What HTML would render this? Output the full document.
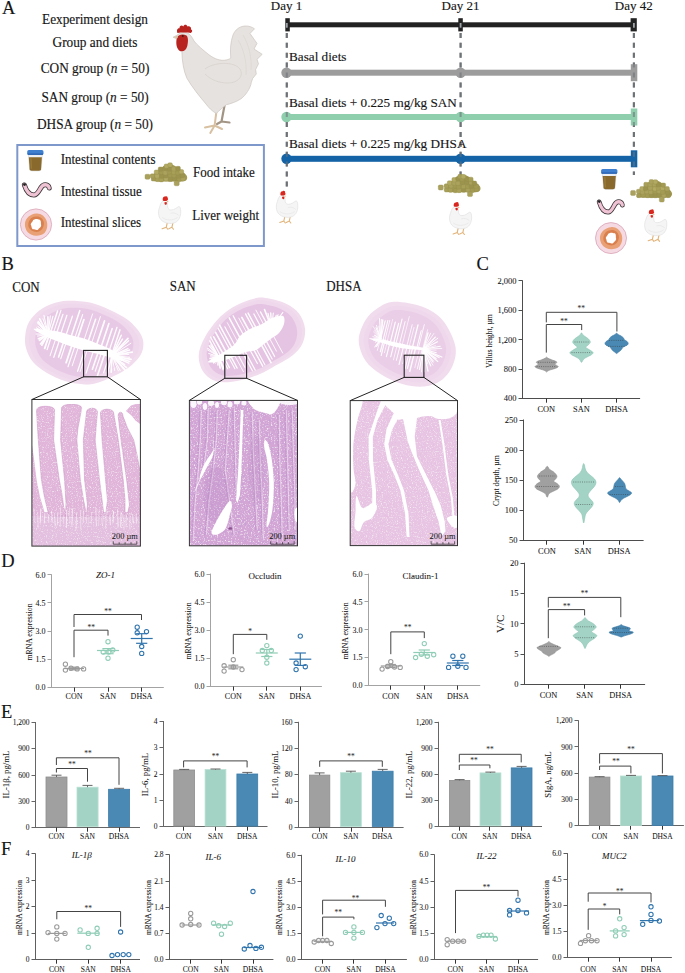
<!DOCTYPE html>
<html><head><meta charset="utf-8"><title>Figure</title>
<style>
html,body{margin:0;padding:0;background:#fff;width:685px;height:973px;overflow:hidden}
svg{display:block}
text{font-family:"Liberation Serif",serif}
</style></head><body>
<svg width="685" height="973" viewBox="0 0 685 973">
<rect width="685" height="973" fill="#fff"/>
<text x="2.0" y="13.9" font-size="18.5" text-anchor="start" fill="#161616" stroke="#161616" stroke-width="0.14">A</text>
<text transform="translate(95.0 24.0) scale(1 1.13)" x="0" y="0" font-size="13.3" text-anchor="middle" fill="#161616" stroke="#161616" stroke-width="0.14">Eexperiment design</text>
<text transform="translate(95.0 47.4) scale(1 1.13)" x="0" y="0" font-size="13.3" text-anchor="middle" fill="#161616" stroke="#161616" stroke-width="0.14">Group and diets</text>
<text transform="translate(95.0 73.0) scale(1 1.13)" x="0" y="0" font-size="13.3" text-anchor="middle" fill="#161616" stroke="#161616" stroke-width="0.14">CON group (<tspan font-style="italic">n</tspan> = 50)</text>
<text transform="translate(95.0 101.6) scale(1 1.13)" x="0" y="0" font-size="13.3" text-anchor="middle" fill="#161616" stroke="#161616" stroke-width="0.14">SAN group (<tspan font-style="italic">n</tspan> = 50)</text>
<text transform="translate(95.0 129.0) scale(1 1.13)" x="0" y="0" font-size="13.3" text-anchor="middle" fill="#161616" stroke="#161616" stroke-width="0.14">DHSA group (<tspan font-style="italic">n</tspan> = 50)</text>
<text x="286.5" y="9.6" font-size="13" text-anchor="middle" fill="#161616" stroke="#161616" stroke-width="0.14">Day 1</text>
<text x="460.5" y="9.6" font-size="13" text-anchor="middle" fill="#161616" stroke="#161616" stroke-width="0.14">Day 21</text>
<text x="633.8" y="9.6" font-size="13" text-anchor="middle" fill="#161616" stroke="#161616" stroke-width="0.14">Day 42</text>
<line x1="286.8" y1="32.9" x2="286.8" y2="187.0" stroke="#6d7176" stroke-width="2.1" stroke-dasharray="5 4.9"/>
<line x1="460.6" y1="32.9" x2="460.6" y2="187.0" stroke="#6d7176" stroke-width="2.1" stroke-dasharray="5 4.9"/>
<line x1="633.9" y1="32.9" x2="633.9" y2="175.0" stroke="#6d7176" stroke-width="2.1" stroke-dasharray="5 4.9"/>
<rect x="286" y="22.3" width="348" height="5" fill="#222"/>
<rect x="285.3" y="18.2" width="4.5" height="13.2" fill="#222"/>
<rect x="458.3" y="18.2" width="4.5" height="13.2" fill="#222"/>
<rect x="630.6" y="18.2" width="6.2" height="13.2" fill="#222"/>
<rect x="286" y="69.7" width="348" height="6" fill="#9c9c9c"/>
<circle cx="286.5" cy="72.7" r="5.2" fill="#9c9c9c"/>
<circle cx="460.6" cy="72.7" r="5.2" fill="#9c9c9c"/>
<rect x="630.8" y="64.2" width="6.5" height="17" fill="#9c9c9c"/>
<rect x="286" y="114.0" width="348" height="6" fill="#8fcfae"/>
<circle cx="286.5" cy="117" r="5.2" fill="#8fcfae"/>
<circle cx="460.6" cy="117" r="5.2" fill="#8fcfae"/>
<rect x="630.8" y="108.5" width="6.5" height="17" fill="#8fcfae"/>
<rect x="286" y="155.8" width="348" height="6" fill="#1463a6"/>
<circle cx="286.5" cy="158.8" r="5.2" fill="#1463a6"/>
<circle cx="460.6" cy="158.8" r="5.2" fill="#1463a6"/>
<rect x="630.8" y="150.3" width="6.5" height="17" fill="#1463a6"/>
<line x1="286.8" y1="32.9" x2="286.8" y2="187" stroke="#6e7378" stroke-opacity="0.6" stroke-width="2.1" stroke-dasharray="5 4.9"/>
<rect x="285.90000000000003" y="23" width="1.8" height="4.7" fill="#9ea3a8"/>
<line x1="460.6" y1="32.9" x2="460.6" y2="187" stroke="#6e7378" stroke-opacity="0.6" stroke-width="2.1" stroke-dasharray="5 4.9"/>
<rect x="459.70000000000005" y="23" width="1.8" height="4.7" fill="#9ea3a8"/>
<line x1="633.9" y1="32.9" x2="633.9" y2="175" stroke="#6e7378" stroke-opacity="0.6" stroke-width="2.1" stroke-dasharray="5 4.9"/>
<rect x="633.0" y="23" width="1.8" height="4.7" fill="#9ea3a8"/>
<text x="289.0" y="60.5" font-size="13.2" text-anchor="start" fill="#161616" stroke="#161616" stroke-width="0.14">Basal diets</text>
<text x="289.0" y="107.0" font-size="13.2" text-anchor="start" fill="#161616" stroke="#161616" stroke-width="0.14">Basal diets + 0.225 mg/kg SAN</text>
<text x="289.0" y="147.6" font-size="13.2" text-anchor="start" fill="#161616" stroke="#161616" stroke-width="0.14">Basal diets + 0.225 mg/kg DHSA</text>
<rect x="17.3" y="145" width="246.6" height="101" fill="none" stroke="#7e98cc" stroke-width="2"/>
<text transform="translate(60.7 163.7) scale(1 1.14)" x="0" y="0" font-size="13" text-anchor="start" fill="#161616" stroke="#161616" stroke-width="0.14">Intestinal contents</text>
<text transform="translate(60.7 195.8) scale(1 1.14)" x="0" y="0" font-size="13" text-anchor="start" fill="#161616" stroke="#161616" stroke-width="0.14">Intestinal tissue</text>
<text transform="translate(60.7 227.0) scale(1 1.14)" x="0" y="0" font-size="13" text-anchor="start" fill="#161616" stroke="#161616" stroke-width="0.14">Intestinal slices</text>
<text transform="translate(193.0 177.4) scale(1 1.14)" x="0" y="0" font-size="13" text-anchor="start" fill="#161616" stroke="#161616" stroke-width="0.14">Food intake</text>
<text transform="translate(192.3 219.5) scale(1 1.14)" x="0" y="0" font-size="13" text-anchor="start" fill="#161616" stroke="#161616" stroke-width="0.14">Liver weight</text>
<text x="476.5" y="270.4" font-size="18.5" text-anchor="start" fill="#161616" stroke="#161616" stroke-width="0.14">C</text>
<line x1="522.5" y1="280.3" x2="522.5" y2="399.0" stroke="#4d4d4d" stroke-width="1"/>
<line x1="522.0" y1="398.5" x2="640.1" y2="398.5" stroke="#4d4d4d" stroke-width="1"/>
<line x1="518.5" y1="280.5" x2="522.5" y2="280.5" stroke="#4d4d4d" stroke-width="1"/>
<text x="516.5" y="283.7" font-size="8.5" text-anchor="end" fill="#161616" stroke="#161616" stroke-width="0.06">2,000</text>
<line x1="518.5" y1="310.5" x2="522.5" y2="310.5" stroke="#4d4d4d" stroke-width="1"/>
<text x="516.5" y="313.1" font-size="8.5" text-anchor="end" fill="#161616" stroke="#161616" stroke-width="0.06">1,600</text>
<line x1="518.5" y1="339.5" x2="522.5" y2="339.5" stroke="#4d4d4d" stroke-width="1"/>
<text x="516.5" y="342.5" font-size="8.5" text-anchor="end" fill="#161616" stroke="#161616" stroke-width="0.06">1,200</text>
<line x1="518.5" y1="369.5" x2="522.5" y2="369.5" stroke="#4d4d4d" stroke-width="1"/>
<text x="516.5" y="372.0" font-size="8.5" text-anchor="end" fill="#161616" stroke="#161616" stroke-width="0.06">800</text>
<line x1="518.5" y1="398.5" x2="522.5" y2="398.5" stroke="#4d4d4d" stroke-width="1"/>
<text x="516.5" y="401.4" font-size="8.5" text-anchor="end" fill="#161616" stroke="#161616" stroke-width="0.06">400</text>
<line x1="546.5" y1="398.5" x2="546.5" y2="402.7" stroke="#333" stroke-width="1"/>
<text x="546.3" y="411.6" font-size="8.4" text-anchor="middle" fill="#161616" stroke="#161616" stroke-width="0.06">CON</text>
<line x1="581.5" y1="398.5" x2="581.5" y2="402.7" stroke="#333" stroke-width="1"/>
<text x="581.4" y="411.6" font-size="8.4" text-anchor="middle" fill="#161616" stroke="#161616" stroke-width="0.06">SAN</text>
<line x1="616.5" y1="398.5" x2="616.5" y2="402.7" stroke="#333" stroke-width="1"/>
<text x="616.6" y="411.6" font-size="8.4" text-anchor="middle" fill="#161616" stroke="#161616" stroke-width="0.06">DHSA</text>
<text x="489.5" y="341.0" font-size="7.7" text-anchor="middle" transform="rotate(-90 489.5 341)" fill="#161616" dominant-baseline="central" stroke="#161616" stroke-width="0.06">Villus height, µm</text>
<path d="M546.3 322.4 V312.3 H616.9 V331.5" fill="none" stroke="#444" stroke-width="1"/>
<text x="581.3" y="311.4" font-size="7.5" text-anchor="middle" fill="#333" stroke="#333" stroke-width="0.06">**</text>
<path d="M546.3 352.6 V324.5 H581.7 V330.1" fill="none" stroke="#444" stroke-width="1"/>
<text x="564.1" y="324.0" font-size="7.5" text-anchor="middle" fill="#333" stroke="#333" stroke-width="0.06">**</text>
<path d="M546.90 357.30 C547.20 357.47 547.32 357.88 548.10 358.30 C548.88 358.72 550.27 359.27 551.60 359.80 C552.93 360.33 555.23 361.03 556.10 361.50 C556.97 361.97 557.00 362.15 556.80 362.60 C556.60 363.05 554.67 363.55 554.90 364.20 C555.13 364.85 558.08 365.82 558.20 366.50 C558.32 367.18 556.87 367.75 555.60 368.30 C554.33 368.85 551.85 369.38 550.60 369.80 C549.35 370.22 548.72 370.47 548.10 370.80 C547.48 371.13 547.20 371.63 546.90 371.80 C546.60 371.97 546.60 371.97 546.30 371.80 C546.00 371.63 545.72 371.13 545.10 370.80 C544.48 370.47 543.85 370.22 542.60 369.80 C541.35 369.38 538.87 368.85 537.60 368.30 C536.33 367.75 534.88 367.18 535.00 366.50 C535.12 365.82 538.07 364.85 538.30 364.20 C538.53 363.55 536.60 363.05 536.40 362.60 C536.20 362.15 536.23 361.97 537.10 361.50 C537.97 361.03 540.27 360.33 541.60 359.80 C542.93 359.27 544.32 358.72 545.10 358.30 C545.88 357.88 546.00 357.47 546.30 357.30 C546.60 357.13 546.60 357.13 546.90 357.30Z" fill="#a0a0a0" stroke="#8c8c8c" stroke-width="0.6"/>
<line x1="538.1" y1="362.3" x2="555.1" y2="362.3" stroke="#333" stroke-width="0.7" stroke-dasharray="1 1.2" stroke-opacity="0.7"/>
<line x1="536.6" y1="366.6" x2="556.6" y2="366.6" stroke="#333" stroke-width="0.7" stroke-dasharray="1 1.2" stroke-opacity="0.7"/>
<path d="M581.80 333.00 C582.05 333.25 582.17 333.92 582.70 334.50 C583.23 335.08 584.03 335.75 585.00 336.50 C585.97 337.25 587.62 338.08 588.50 339.00 C589.38 339.92 590.27 341.08 590.30 342.00 C590.33 342.92 589.45 343.62 588.70 344.50 C587.95 345.38 585.62 346.38 585.80 347.30 C585.98 348.22 588.58 349.12 589.80 350.00 C591.02 350.88 592.90 351.77 593.10 352.60 C593.30 353.43 592.18 354.18 591.00 355.00 C589.82 355.82 587.25 356.75 586.00 357.50 C584.75 358.25 584.08 358.92 583.50 359.50 C582.92 360.08 582.78 360.55 582.50 361.00 C582.22 361.45 582.02 362.00 581.80 362.20 C581.58 362.40 581.42 362.40 581.20 362.20 C580.98 362.00 580.78 361.45 580.50 361.00 C580.22 360.55 580.08 360.08 579.50 359.50 C578.92 358.92 578.25 358.25 577.00 357.50 C575.75 356.75 573.18 355.82 572.00 355.00 C570.82 354.18 569.70 353.43 569.90 352.60 C570.10 351.77 571.98 350.88 573.20 350.00 C574.42 349.12 577.02 348.22 577.20 347.30 C577.38 346.38 575.05 345.38 574.30 344.50 C573.55 343.62 572.67 342.92 572.70 342.00 C572.73 341.08 573.62 339.92 574.50 339.00 C575.38 338.08 577.03 337.25 578.00 336.50 C578.97 335.75 579.77 335.08 580.30 334.50 C580.83 333.92 580.95 333.25 581.20 333.00 C581.45 332.75 581.55 332.75 581.80 333.00Z" fill="#a3d3c5" stroke="#8cc4b4" stroke-width="0.6"/>
<line x1="574.5" y1="342.0" x2="588.5" y2="342.0" stroke="#333" stroke-width="0.7" stroke-dasharray="1 1.2" stroke-opacity="0.7"/>
<line x1="571.5" y1="352.6" x2="591.5" y2="352.6" stroke="#333" stroke-width="0.7" stroke-dasharray="1 1.2" stroke-opacity="0.7"/>
<path d="M616.90 333.30 C617.20 333.50 617.40 334.05 618.10 334.50 C618.80 334.95 620.18 335.42 621.10 336.00 C622.02 336.58 623.08 337.40 623.60 338.00 C624.12 338.60 623.62 339.02 624.20 339.60 C624.78 340.18 626.43 340.87 627.10 341.50 C627.77 342.13 628.20 342.78 628.20 343.40 C628.20 344.02 627.87 344.63 627.10 345.20 C626.33 345.77 624.43 346.25 623.60 346.80 C622.77 347.35 622.60 347.88 622.10 348.50 C621.60 349.12 621.18 349.92 620.60 350.50 C620.02 351.08 619.22 351.52 618.60 352.00 C617.98 352.48 617.28 353.17 616.90 353.40 C616.52 353.63 616.68 353.63 616.30 353.40 C615.92 353.17 615.22 352.48 614.60 352.00 C613.98 351.52 613.18 351.08 612.60 350.50 C612.02 349.92 611.60 349.12 611.10 348.50 C610.60 347.88 610.43 347.35 609.60 346.80 C608.77 346.25 606.87 345.77 606.10 345.20 C605.33 344.63 605.00 344.02 605.00 343.40 C605.00 342.78 605.43 342.13 606.10 341.50 C606.77 340.87 608.42 340.18 609.00 339.60 C609.58 339.02 609.08 338.60 609.60 338.00 C610.12 337.40 611.18 336.58 612.10 336.00 C613.02 335.42 614.40 334.95 615.10 334.50 C615.80 334.05 616.00 333.50 616.30 333.30 C616.60 333.10 616.60 333.10 616.90 333.30Z" fill="#4a89b3" stroke="#3a78a6" stroke-width="0.6"/>
<line x1="609.1" y1="340.4" x2="624.1" y2="340.4" stroke="#333" stroke-width="0.7" stroke-dasharray="1 1.2" stroke-opacity="0.7"/>
<line x1="608.1" y1="346.4" x2="625.1" y2="346.4" stroke="#333" stroke-width="0.7" stroke-dasharray="1 1.2" stroke-opacity="0.7"/>
<line x1="523.5" y1="419.5" x2="523.5" y2="541.0" stroke="#4d4d4d" stroke-width="1"/>
<line x1="523.0" y1="540.5" x2="643.6" y2="540.5" stroke="#4d4d4d" stroke-width="1"/>
<line x1="519.5" y1="420.5" x2="523.5" y2="420.5" stroke="#4d4d4d" stroke-width="1"/>
<text x="517.5" y="422.9" font-size="8.5" text-anchor="end" fill="#161616" stroke="#161616" stroke-width="0.06">250</text>
<line x1="519.5" y1="450.5" x2="523.5" y2="450.5" stroke="#4d4d4d" stroke-width="1"/>
<text x="517.5" y="453.0" font-size="8.5" text-anchor="end" fill="#161616" stroke="#161616" stroke-width="0.06">200</text>
<line x1="519.5" y1="480.5" x2="523.5" y2="480.5" stroke="#4d4d4d" stroke-width="1"/>
<text x="517.5" y="483.1" font-size="8.5" text-anchor="end" fill="#161616" stroke="#161616" stroke-width="0.06">150</text>
<line x1="519.5" y1="510.5" x2="523.5" y2="510.5" stroke="#4d4d4d" stroke-width="1"/>
<text x="517.5" y="513.3" font-size="8.5" text-anchor="end" fill="#161616" stroke="#161616" stroke-width="0.06">100</text>
<line x1="519.5" y1="540.5" x2="523.5" y2="540.5" stroke="#4d4d4d" stroke-width="1"/>
<text x="517.5" y="543.4" font-size="8.5" text-anchor="end" fill="#161616" stroke="#161616" stroke-width="0.06">50</text>
<line x1="546.5" y1="540.5" x2="546.5" y2="544.7" stroke="#333" stroke-width="1"/>
<text x="546.9" y="553.8" font-size="8.4" text-anchor="middle" fill="#161616" stroke="#161616" stroke-width="0.06">CON</text>
<line x1="583.5" y1="540.5" x2="583.5" y2="544.7" stroke="#333" stroke-width="1"/>
<text x="583.0" y="553.8" font-size="8.4" text-anchor="middle" fill="#161616" stroke="#161616" stroke-width="0.06">SAN</text>
<line x1="619.5" y1="540.5" x2="619.5" y2="544.7" stroke="#333" stroke-width="1"/>
<text x="619.1" y="553.8" font-size="8.4" text-anchor="middle" fill="#161616" stroke="#161616" stroke-width="0.06">DHSA</text>
<text x="496.7" y="480.6" font-size="7.7" text-anchor="middle" transform="rotate(-90 496.7 480.6)" fill="#161616" dominant-baseline="central" stroke="#161616" stroke-width="0.06">Crypt depth, µm</text>
<path d="M547.50 466.40 C547.75 466.58 548.03 466.98 548.40 467.50 C548.77 468.02 548.82 468.75 549.70 469.50 C550.58 470.25 552.50 470.92 553.70 472.00 C554.90 473.08 556.57 474.83 556.90 476.00 C557.23 477.17 556.23 478.12 555.70 479.00 C555.17 479.88 553.37 480.47 553.70 481.30 C554.03 482.13 556.75 483.13 557.70 484.00 C558.65 484.87 559.40 485.67 559.40 486.50 C559.40 487.33 558.82 488.17 557.70 489.00 C556.58 489.83 554.12 490.75 552.70 491.50 C551.28 492.25 549.95 492.87 549.20 493.50 C548.45 494.13 548.48 494.72 548.20 495.30 C547.92 495.88 547.72 496.72 547.50 497.00 C547.28 497.28 547.12 497.28 546.90 497.00 C546.68 496.72 546.48 495.88 546.20 495.30 C545.92 494.72 545.95 494.13 545.20 493.50 C544.45 492.87 543.12 492.25 541.70 491.50 C540.28 490.75 537.82 489.83 536.70 489.00 C535.58 488.17 535.00 487.33 535.00 486.50 C535.00 485.67 535.75 484.87 536.70 484.00 C537.65 483.13 540.37 482.13 540.70 481.30 C541.03 480.47 539.23 479.88 538.70 479.00 C538.17 478.12 537.17 477.17 537.50 476.00 C537.83 474.83 539.50 473.08 540.70 472.00 C541.90 470.92 543.82 470.25 544.70 469.50 C545.58 468.75 545.63 468.02 546.00 467.50 C546.37 466.98 546.65 466.58 546.90 466.40 C547.15 466.22 547.25 466.22 547.50 466.40Z" fill="#a0a0a0" stroke="#8c8c8c" stroke-width="0.6"/>
<line x1="539.2" y1="476.0" x2="555.2" y2="476.0" stroke="#333" stroke-width="0.7" stroke-dasharray="1 1.2" stroke-opacity="0.7"/>
<line x1="536.7" y1="486.5" x2="557.7" y2="486.5" stroke="#333" stroke-width="0.7" stroke-dasharray="1 1.2" stroke-opacity="0.7"/>
<path d="M584.00 463.80 C584.22 464.17 584.48 465.13 584.70 466.00 C584.92 466.87 584.88 467.92 585.30 469.00 C585.72 470.08 586.22 471.33 587.20 472.50 C588.18 473.67 589.98 474.92 591.20 476.00 C592.42 477.08 593.70 477.97 594.50 479.00 C595.30 480.03 595.97 481.03 596.00 482.20 C596.03 483.37 595.50 484.70 594.70 486.00 C593.90 487.30 592.23 488.75 591.20 490.00 C590.17 491.25 589.00 492.47 588.50 493.50 C588.00 494.53 587.92 495.28 588.20 496.20 C588.48 497.12 589.48 498.12 590.20 499.00 C590.92 499.88 592.00 500.67 592.50 501.50 C593.00 502.33 593.33 503.08 593.20 504.00 C593.07 504.92 592.48 505.92 591.70 507.00 C590.92 508.08 589.50 509.33 588.50 510.50 C587.50 511.67 586.32 512.75 585.70 514.00 C585.08 515.25 585.08 516.60 584.80 518.00 C584.52 519.40 584.23 521.67 584.00 522.40 C583.77 523.13 583.63 523.13 583.40 522.40 C583.17 521.67 582.88 519.40 582.60 518.00 C582.32 516.60 582.32 515.25 581.70 514.00 C581.08 512.75 579.90 511.67 578.90 510.50 C577.90 509.33 576.48 508.08 575.70 507.00 C574.92 505.92 574.33 504.92 574.20 504.00 C574.07 503.08 574.40 502.33 574.90 501.50 C575.40 500.67 576.48 499.88 577.20 499.00 C577.92 498.12 578.92 497.12 579.20 496.20 C579.48 495.28 579.40 494.53 578.90 493.50 C578.40 492.47 577.23 491.25 576.20 490.00 C575.17 488.75 573.50 487.30 572.70 486.00 C571.90 484.70 571.37 483.37 571.40 482.20 C571.43 481.03 572.10 480.03 572.90 479.00 C573.70 477.97 574.98 477.08 576.20 476.00 C577.42 474.92 579.22 473.67 580.20 472.50 C581.18 471.33 581.68 470.08 582.10 469.00 C582.52 467.92 582.48 466.87 582.70 466.00 C582.92 465.13 583.18 464.17 583.40 463.80 C583.62 463.43 583.78 463.43 584.00 463.80Z" fill="#a3d3c5" stroke="#8cc4b4" stroke-width="0.6"/>
<line x1="573.2" y1="482.0" x2="594.2" y2="482.0" stroke="#333" stroke-width="0.7" stroke-dasharray="1 1.2" stroke-opacity="0.7"/>
<line x1="575.7" y1="504.5" x2="591.7" y2="504.5" stroke="#333" stroke-width="0.7" stroke-dasharray="1 1.2" stroke-opacity="0.7"/>
<path d="M619.90 477.80 C620.15 478.00 620.35 478.47 620.80 479.00 C621.25 479.53 621.97 480.25 622.60 481.00 C623.23 481.75 624.13 482.58 624.60 483.50 C625.07 484.42 625.15 485.58 625.40 486.50 C625.65 487.42 625.48 488.25 626.10 489.00 C626.72 489.75 628.20 490.38 629.10 491.00 C630.00 491.62 631.25 492.12 631.50 492.70 C631.75 493.28 631.33 493.87 630.60 494.50 C629.87 495.13 628.35 495.83 627.10 496.50 C625.85 497.17 624.10 497.87 623.10 498.50 C622.10 499.13 621.63 499.67 621.10 500.30 C620.57 500.93 620.20 501.97 619.90 502.30 C619.60 502.63 619.60 502.63 619.30 502.30 C619.00 501.97 618.63 500.93 618.10 500.30 C617.57 499.67 617.10 499.13 616.10 498.50 C615.10 497.87 613.35 497.17 612.10 496.50 C610.85 495.83 609.33 495.13 608.60 494.50 C607.87 493.87 607.45 493.28 607.70 492.70 C607.95 492.12 609.20 491.62 610.10 491.00 C611.00 490.38 612.48 489.75 613.10 489.00 C613.72 488.25 613.55 487.42 613.80 486.50 C614.05 485.58 614.13 484.42 614.60 483.50 C615.07 482.58 615.97 481.75 616.60 481.00 C617.23 480.25 617.95 479.53 618.40 479.00 C618.85 478.47 619.05 478.00 619.30 477.80 C619.55 477.60 619.65 477.60 619.90 477.80Z" fill="#4a89b3" stroke="#3a78a6" stroke-width="0.6"/>
<line x1="615.1" y1="486.5" x2="624.1" y2="486.5" stroke="#333" stroke-width="0.7" stroke-dasharray="1 1.2" stroke-opacity="0.7"/>
<line x1="609.6" y1="494.5" x2="629.6" y2="494.5" stroke="#333" stroke-width="0.7" stroke-dasharray="1 1.2" stroke-opacity="0.7"/>
<line x1="524.5" y1="562.7" x2="524.5" y2="685.0" stroke="#4d4d4d" stroke-width="1"/>
<line x1="524.0" y1="684.5" x2="645.1" y2="684.5" stroke="#4d4d4d" stroke-width="1"/>
<line x1="520.5" y1="563.5" x2="524.5" y2="563.5" stroke="#4d4d4d" stroke-width="1"/>
<text x="518.5" y="566.1" font-size="8.5" text-anchor="end" fill="#161616" stroke="#161616" stroke-width="0.06">20</text>
<line x1="520.5" y1="593.5" x2="524.5" y2="593.5" stroke="#4d4d4d" stroke-width="1"/>
<text x="518.5" y="596.4" font-size="8.5" text-anchor="end" fill="#161616" stroke="#161616" stroke-width="0.06">15</text>
<line x1="520.5" y1="623.5" x2="524.5" y2="623.5" stroke="#4d4d4d" stroke-width="1"/>
<text x="518.5" y="626.7" font-size="8.5" text-anchor="end" fill="#161616" stroke="#161616" stroke-width="0.06">10</text>
<line x1="520.5" y1="654.5" x2="524.5" y2="654.5" stroke="#4d4d4d" stroke-width="1"/>
<text x="518.5" y="657.1" font-size="8.5" text-anchor="end" fill="#161616" stroke="#161616" stroke-width="0.06">5</text>
<line x1="520.5" y1="684.5" x2="524.5" y2="684.5" stroke="#4d4d4d" stroke-width="1"/>
<text x="518.5" y="687.4" font-size="8.5" text-anchor="end" fill="#161616" stroke="#161616" stroke-width="0.06">0</text>
<line x1="548.5" y1="684.5" x2="548.5" y2="688.7" stroke="#333" stroke-width="1"/>
<text x="548.5" y="698.1" font-size="8.4" text-anchor="middle" fill="#161616" stroke="#161616" stroke-width="0.06">CON</text>
<line x1="584.5" y1="684.5" x2="584.5" y2="688.7" stroke="#333" stroke-width="1"/>
<text x="584.6" y="698.1" font-size="8.4" text-anchor="middle" fill="#161616" stroke="#161616" stroke-width="0.06">SAN</text>
<line x1="620.5" y1="684.5" x2="620.5" y2="688.7" stroke="#333" stroke-width="1"/>
<text x="620.7" y="698.1" font-size="8.4" text-anchor="middle" fill="#161616" stroke="#161616" stroke-width="0.06">DHSA</text>
<text x="500.4" y="623.8" font-size="11" text-anchor="middle" transform="rotate(-90 500.4 623.8)" fill="#161616" dominant-baseline="central" stroke="#161616" stroke-width="0.06">V/C</text>
<path d="M548.3 607.5 V597.4 H620.8 V617.2" fill="none" stroke="#444" stroke-width="1"/>
<text x="584.6" y="596.1" font-size="7.5" text-anchor="middle" fill="#333" stroke="#333" stroke-width="0.06">**</text>
<path d="M548.3 638.2 V609.6 H584.6 V615.4" fill="none" stroke="#444" stroke-width="1"/>
<text x="566.7" y="608.9" font-size="7.5" text-anchor="middle" fill="#333" stroke="#333" stroke-width="0.06">**</text>
<path d="M549.20 641.70 C549.50 641.88 549.62 642.33 550.40 642.80 C551.18 643.27 552.57 643.92 553.90 644.50 C555.23 645.08 557.23 645.75 558.40 646.30 C559.57 646.85 560.82 647.27 560.90 647.80 C560.98 648.33 559.73 648.92 558.90 649.50 C558.07 650.08 556.57 650.75 555.90 651.30 C555.23 651.85 555.48 652.30 554.90 652.80 C554.32 653.30 553.15 653.88 552.40 654.30 C551.65 654.72 550.93 654.98 550.40 655.30 C549.87 655.62 549.50 656.05 549.20 656.20 C548.90 656.35 548.90 656.35 548.60 656.20 C548.30 656.05 547.93 655.62 547.40 655.30 C546.87 654.98 546.15 654.72 545.40 654.30 C544.65 653.88 543.48 653.30 542.90 652.80 C542.32 652.30 542.57 651.85 541.90 651.30 C541.23 650.75 539.73 650.08 538.90 649.50 C538.07 648.92 536.82 648.33 536.90 647.80 C536.98 647.27 538.23 646.85 539.40 646.30 C540.57 645.75 542.57 645.08 543.90 644.50 C545.23 643.92 546.62 643.27 547.40 642.80 C548.18 642.33 548.30 641.88 548.60 641.70 C548.90 641.52 548.90 641.52 549.20 641.70Z" fill="#a0a0a0" stroke="#8c8c8c" stroke-width="0.6"/>
<line x1="539.4" y1="646.4" x2="558.4" y2="646.4" stroke="#333" stroke-width="0.7" stroke-dasharray="1 1.2" stroke-opacity="0.7"/>
<path d="M585.30 617.70 C585.57 617.92 585.77 618.45 586.30 619.00 C586.83 619.55 587.38 620.25 588.50 621.00 C589.62 621.75 591.72 622.53 593.00 623.50 C594.28 624.47 596.03 625.80 596.20 626.80 C596.37 627.80 594.78 628.68 594.00 629.50 C593.22 630.32 591.42 631.00 591.50 631.70 C591.58 632.40 593.62 633.07 594.50 633.70 C595.38 634.33 596.72 634.78 596.80 635.50 C596.88 636.22 595.97 637.17 595.00 638.00 C594.03 638.83 592.17 639.67 591.00 640.50 C589.83 641.33 588.75 642.17 588.00 643.00 C587.25 643.83 586.95 644.63 586.50 645.50 C586.05 646.37 585.60 647.75 585.30 648.20 C585.00 648.65 585.00 648.65 584.70 648.20 C584.40 647.75 583.95 646.37 583.50 645.50 C583.05 644.63 582.75 643.83 582.00 643.00 C581.25 642.17 580.17 641.33 579.00 640.50 C577.83 639.67 575.97 638.83 575.00 638.00 C574.03 637.17 573.12 636.22 573.20 635.50 C573.28 634.78 574.62 634.33 575.50 633.70 C576.38 633.07 578.42 632.40 578.50 631.70 C578.58 631.00 576.78 630.32 576.00 629.50 C575.22 628.68 573.63 627.80 573.80 626.80 C573.97 625.80 575.72 624.47 577.00 623.50 C578.28 622.53 580.38 621.75 581.50 621.00 C582.62 620.25 583.17 619.55 583.70 619.00 C584.23 618.45 584.43 617.92 584.70 617.70 C584.97 617.48 585.03 617.48 585.30 617.70Z" fill="#a3d3c5" stroke="#8cc4b4" stroke-width="0.6"/>
<line x1="575.5" y1="626.8" x2="594.5" y2="626.8" stroke="#333" stroke-width="0.7" stroke-dasharray="1 1.2" stroke-opacity="0.7"/>
<line x1="575.5" y1="637.7" x2="594.5" y2="637.7" stroke="#333" stroke-width="0.7" stroke-dasharray="1 1.2" stroke-opacity="0.7"/>
<path d="M621.50 624.70 C621.88 624.88 622.25 625.42 623.20 625.80 C624.15 626.18 626.03 626.60 627.20 627.00 C628.37 627.40 629.78 627.73 630.20 628.20 C630.62 628.67 629.83 629.33 629.70 629.80 C629.57 630.27 628.80 630.60 629.40 631.00 C630.00 631.40 633.00 631.73 633.30 632.20 C633.60 632.67 632.38 633.28 631.20 633.80 C630.02 634.32 627.53 634.88 626.20 635.30 C624.87 635.72 623.98 636.02 623.20 636.30 C622.42 636.58 621.88 636.88 621.50 637.00 C621.12 637.12 621.28 637.12 620.90 637.00 C620.52 636.88 619.98 636.58 619.20 636.30 C618.42 636.02 617.53 635.72 616.20 635.30 C614.87 634.88 612.38 634.32 611.20 633.80 C610.02 633.28 608.80 632.67 609.10 632.20 C609.40 631.73 612.40 631.40 613.00 631.00 C613.60 630.60 612.83 630.27 612.70 629.80 C612.57 629.33 611.78 628.67 612.20 628.20 C612.62 627.73 614.03 627.40 615.20 627.00 C616.37 626.60 618.25 626.18 619.20 625.80 C620.15 625.42 620.52 624.88 620.90 624.70 C621.28 624.52 621.12 624.52 621.50 624.70Z" fill="#4a89b3" stroke="#3a78a6" stroke-width="0.6"/>
<line x1="613.7" y1="628.2" x2="628.7" y2="628.2" stroke="#333" stroke-width="0.7" stroke-dasharray="1 1.2" stroke-opacity="0.7"/>
<line x1="610.7" y1="632.5" x2="631.7" y2="632.5" stroke="#333" stroke-width="0.7" stroke-dasharray="1 1.2" stroke-opacity="0.7"/>
<text x="1.2" y="566.9" font-size="18.5" text-anchor="start" fill="#161616" stroke="#161616" stroke-width="0.14">D</text>
<line x1="51.5" y1="574.3" x2="51.5" y2="688.0" stroke="#a3a3a3" stroke-width="1"/>
<line x1="51.0" y1="687.5" x2="163.8" y2="687.5" stroke="#a3a3a3" stroke-width="1"/>
<line x1="47.5" y1="574.5" x2="51.5" y2="574.5" stroke="#a3a3a3" stroke-width="1"/>
<text x="45.5" y="577.5" font-size="8" text-anchor="end" fill="#161616" stroke="#161616" stroke-width="0.06">6.0</text>
<line x1="47.5" y1="602.5" x2="51.5" y2="602.5" stroke="#a3a3a3" stroke-width="1"/>
<text x="45.5" y="605.7" font-size="8" text-anchor="end" fill="#161616" stroke="#161616" stroke-width="0.06">4.5</text>
<line x1="47.5" y1="631.5" x2="51.5" y2="631.5" stroke="#a3a3a3" stroke-width="1"/>
<text x="45.5" y="633.9" font-size="8" text-anchor="end" fill="#161616" stroke="#161616" stroke-width="0.06">3.0</text>
<line x1="47.5" y1="659.5" x2="51.5" y2="659.5" stroke="#a3a3a3" stroke-width="1"/>
<text x="45.5" y="662.0" font-size="8" text-anchor="end" fill="#161616" stroke="#161616" stroke-width="0.06">1.5</text>
<line x1="47.5" y1="687.5" x2="51.5" y2="687.5" stroke="#a3a3a3" stroke-width="1"/>
<text x="45.5" y="690.2" font-size="8" text-anchor="end" fill="#161616" stroke="#161616" stroke-width="0.06">0.0</text>
<line x1="74.5" y1="687.5" x2="74.5" y2="691.7" stroke="#333" stroke-width="1"/>
<text x="74.0" y="699.0" font-size="8" text-anchor="middle" fill="#161616" stroke="#161616" stroke-width="0.06">CON</text>
<line x1="108.5" y1="687.5" x2="108.5" y2="691.7" stroke="#333" stroke-width="1"/>
<text x="108.0" y="699.0" font-size="8" text-anchor="middle" fill="#161616" stroke="#161616" stroke-width="0.06">SAN</text>
<line x1="141.5" y1="687.5" x2="141.5" y2="691.7" stroke="#333" stroke-width="1"/>
<text x="141.5" y="699.0" font-size="8" text-anchor="middle" fill="#161616" stroke="#161616" stroke-width="0.06">DHSA</text>
<text x="105.5" y="577.8" font-size="9" text-anchor="middle" font-style="italic" fill="#161616" stroke="#161616" stroke-width="0.06">ZO-1</text>
<text x="29.3" y="632.0" font-size="7.75" text-anchor="middle" transform="rotate(-90 29.3 632)" fill="#161616" dominant-baseline="central" stroke="#161616" stroke-width="0.06">mRNA expression</text>
<path d="M74.0 627.0 V614.5 H141.5 V620.0" fill="none" stroke="#444" stroke-width="1"/>
<text x="108.0" y="614.3" font-size="7.5" text-anchor="middle" fill="#333" stroke="#333" stroke-width="0.06">**</text>
<path d="M74.0 657.2 V630.2 H108.0 V635.6" fill="none" stroke="#444" stroke-width="1"/>
<text x="91.3" y="629.7" font-size="7.5" text-anchor="middle" fill="#333" stroke="#333" stroke-width="0.06">**</text>
<line x1="64.0" y1="668.5" x2="84.0" y2="668.5" stroke="#9a9a9a" stroke-width="1.2"/>
<line x1="74.0" y1="667.2" x2="74.0" y2="669.8" stroke="#9a9a9a" stroke-width="1.2"/>
<line x1="69.0" y1="667.2" x2="79.0" y2="667.2" stroke="#9a9a9a" stroke-width="1.2"/>
<line x1="69.0" y1="669.8" x2="79.0" y2="669.8" stroke="#9a9a9a" stroke-width="1.2"/>
<circle cx="65.4" cy="664.2" r="2.15" fill="none" stroke="#9a9a9a" stroke-width="1.05"/>
<circle cx="65.4" cy="670.1" r="2.15" fill="none" stroke="#9a9a9a" stroke-width="1.05"/>
<circle cx="71.0" cy="668.2" r="2.15" fill="none" stroke="#9a9a9a" stroke-width="1.05"/>
<circle cx="77.2" cy="668.9" r="2.15" fill="none" stroke="#9a9a9a" stroke-width="1.05"/>
<circle cx="83.6" cy="668.9" r="2.15" fill="none" stroke="#9a9a9a" stroke-width="1.05"/>
<line x1="97.0" y1="650.5" x2="119.0" y2="650.5" stroke="#8fcdb6" stroke-width="1.2"/>
<line x1="108.0" y1="648.6" x2="108.0" y2="653.7" stroke="#8fcdb6" stroke-width="1.2"/>
<line x1="102.4" y1="648.6" x2="113.6" y2="648.6" stroke="#8fcdb6" stroke-width="1.2"/>
<line x1="102.4" y1="653.7" x2="113.6" y2="653.7" stroke="#8fcdb6" stroke-width="1.2"/>
<circle cx="108.0" cy="641.7" r="2.15" fill="none" stroke="#8fcdb6" stroke-width="1.05"/>
<circle cx="103.2" cy="652.1" r="2.15" fill="none" stroke="#8fcdb6" stroke-width="1.05"/>
<circle cx="108.8" cy="652.0" r="2.15" fill="none" stroke="#8fcdb6" stroke-width="1.05"/>
<circle cx="112.8" cy="650.0" r="2.15" fill="none" stroke="#8fcdb6" stroke-width="1.05"/>
<circle cx="108.0" cy="658.2" r="2.15" fill="none" stroke="#8fcdb6" stroke-width="1.05"/>
<line x1="130.7" y1="638.5" x2="152.7" y2="638.5" stroke="#2f74ad" stroke-width="1.2"/>
<line x1="141.7" y1="633.7" x2="141.7" y2="643.3" stroke="#2f74ad" stroke-width="1.2"/>
<line x1="136.1" y1="633.7" x2="147.3" y2="633.7" stroke="#2f74ad" stroke-width="1.2"/>
<line x1="136.1" y1="643.3" x2="147.3" y2="643.3" stroke="#2f74ad" stroke-width="1.2"/>
<circle cx="137.2" cy="627.2" r="2.15" fill="none" stroke="#2f74ad" stroke-width="1.05"/>
<circle cx="137.2" cy="632.8" r="2.15" fill="none" stroke="#2f74ad" stroke-width="1.05"/>
<circle cx="146.5" cy="631.6" r="2.15" fill="none" stroke="#2f74ad" stroke-width="1.05"/>
<circle cx="141.7" cy="646.5" r="2.15" fill="none" stroke="#2f74ad" stroke-width="1.05"/>
<circle cx="141.7" cy="653.4" r="2.15" fill="none" stroke="#2f74ad" stroke-width="1.05"/>
<line x1="210.5" y1="573.6" x2="210.5" y2="687.0" stroke="#a3a3a3" stroke-width="1"/>
<line x1="210.0" y1="686.5" x2="321.9" y2="686.5" stroke="#a3a3a3" stroke-width="1"/>
<line x1="206.5" y1="574.5" x2="210.5" y2="574.5" stroke="#a3a3a3" stroke-width="1"/>
<text x="204.5" y="576.8" font-size="8" text-anchor="end" fill="#161616" stroke="#161616" stroke-width="0.06">6.0</text>
<line x1="206.5" y1="602.5" x2="210.5" y2="602.5" stroke="#a3a3a3" stroke-width="1"/>
<text x="204.5" y="604.9" font-size="8" text-anchor="end" fill="#161616" stroke="#161616" stroke-width="0.06">4.5</text>
<line x1="206.5" y1="630.5" x2="210.5" y2="630.5" stroke="#a3a3a3" stroke-width="1"/>
<text x="204.5" y="633.0" font-size="8" text-anchor="end" fill="#161616" stroke="#161616" stroke-width="0.06">3.0</text>
<line x1="206.5" y1="658.5" x2="210.5" y2="658.5" stroke="#a3a3a3" stroke-width="1"/>
<text x="204.5" y="661.1" font-size="8" text-anchor="end" fill="#161616" stroke="#161616" stroke-width="0.06">1.5</text>
<line x1="206.5" y1="686.5" x2="210.5" y2="686.5" stroke="#a3a3a3" stroke-width="1"/>
<text x="204.5" y="689.2" font-size="8" text-anchor="end" fill="#161616" stroke="#161616" stroke-width="0.06">0.0</text>
<line x1="233.5" y1="686.5" x2="233.5" y2="690.7" stroke="#333" stroke-width="1"/>
<text x="233.3" y="699.0" font-size="8" text-anchor="middle" fill="#161616" stroke="#161616" stroke-width="0.06">CON</text>
<line x1="266.5" y1="686.5" x2="266.5" y2="690.7" stroke="#333" stroke-width="1"/>
<text x="266.8" y="699.0" font-size="8" text-anchor="middle" fill="#161616" stroke="#161616" stroke-width="0.06">SAN</text>
<line x1="300.5" y1="686.5" x2="300.5" y2="690.7" stroke="#333" stroke-width="1"/>
<text x="300.3" y="699.0" font-size="8" text-anchor="middle" fill="#161616" stroke="#161616" stroke-width="0.06">DHSA</text>
<text x="265.0" y="579.3" font-size="9" text-anchor="middle" fill="#161616" stroke="#161616" stroke-width="0.06">Occludin</text>
<text x="188.6" y="631.0" font-size="7.75" text-anchor="middle" transform="rotate(-90 188.6 631)" fill="#161616" dominant-baseline="central" stroke="#161616" stroke-width="0.06">mRNA expression</text>
<path d="M233.3 654.2 V634.4 H266.8 V639.8" fill="none" stroke="#444" stroke-width="1"/>
<text x="250.0" y="634.0" font-size="7.5" text-anchor="middle" fill="#333" stroke="#333" stroke-width="0.06">*</text>
<line x1="223.3" y1="667.0" x2="243.3" y2="667.0" stroke="#9a9a9a" stroke-width="1.2"/>
<line x1="233.3" y1="665.2" x2="233.3" y2="668.8" stroke="#9a9a9a" stroke-width="1.2"/>
<line x1="228.3" y1="665.2" x2="238.3" y2="665.2" stroke="#9a9a9a" stroke-width="1.2"/>
<line x1="228.3" y1="668.8" x2="238.3" y2="668.8" stroke="#9a9a9a" stroke-width="1.2"/>
<circle cx="224.1" cy="665.8" r="2.15" fill="none" stroke="#9a9a9a" stroke-width="1.05"/>
<circle cx="224.1" cy="671.1" r="2.15" fill="none" stroke="#9a9a9a" stroke-width="1.05"/>
<circle cx="233.3" cy="659.7" r="2.15" fill="none" stroke="#9a9a9a" stroke-width="1.05"/>
<circle cx="233.3" cy="667.0" r="2.15" fill="none" stroke="#9a9a9a" stroke-width="1.05"/>
<circle cx="242.0" cy="669.6" r="2.15" fill="none" stroke="#9a9a9a" stroke-width="1.05"/>
<line x1="255.8" y1="653.0" x2="277.8" y2="653.0" stroke="#8fcdb6" stroke-width="1.2"/>
<line x1="266.8" y1="649.5" x2="266.8" y2="656.5" stroke="#8fcdb6" stroke-width="1.2"/>
<line x1="261.2" y1="649.5" x2="272.4" y2="649.5" stroke="#8fcdb6" stroke-width="1.2"/>
<line x1="261.2" y1="656.5" x2="272.4" y2="656.5" stroke="#8fcdb6" stroke-width="1.2"/>
<circle cx="266.8" cy="645.6" r="2.15" fill="none" stroke="#8fcdb6" stroke-width="1.05"/>
<circle cx="262.3" cy="650.5" r="2.15" fill="none" stroke="#8fcdb6" stroke-width="1.05"/>
<circle cx="271.3" cy="650.5" r="2.15" fill="none" stroke="#8fcdb6" stroke-width="1.05"/>
<circle cx="266.8" cy="657.2" r="2.15" fill="none" stroke="#8fcdb6" stroke-width="1.05"/>
<circle cx="266.8" cy="663.0" r="2.15" fill="none" stroke="#8fcdb6" stroke-width="1.05"/>
<line x1="289.3" y1="659.2" x2="311.3" y2="659.2" stroke="#2f74ad" stroke-width="1.2"/>
<line x1="300.3" y1="653.0" x2="300.3" y2="665.4" stroke="#2f74ad" stroke-width="1.2"/>
<line x1="294.7" y1="653.0" x2="305.9" y2="653.0" stroke="#2f74ad" stroke-width="1.2"/>
<line x1="294.7" y1="665.4" x2="305.9" y2="665.4" stroke="#2f74ad" stroke-width="1.2"/>
<circle cx="300.3" cy="636.1" r="2.15" fill="none" stroke="#2f74ad" stroke-width="1.05"/>
<circle cx="296.1" cy="663.0" r="2.15" fill="none" stroke="#2f74ad" stroke-width="1.05"/>
<circle cx="305.3" cy="666.7" r="2.15" fill="none" stroke="#2f74ad" stroke-width="1.05"/>
<circle cx="296.1" cy="669.6" r="2.15" fill="none" stroke="#2f74ad" stroke-width="1.05"/>
<line x1="368.5" y1="573.6" x2="368.5" y2="686.0" stroke="#a3a3a3" stroke-width="1"/>
<line x1="368.0" y1="685.5" x2="480.2" y2="685.5" stroke="#a3a3a3" stroke-width="1"/>
<line x1="364.5" y1="574.5" x2="368.5" y2="574.5" stroke="#a3a3a3" stroke-width="1"/>
<text x="362.5" y="576.8" font-size="8" text-anchor="end" fill="#161616" stroke="#161616" stroke-width="0.06">6.0</text>
<line x1="364.5" y1="601.5" x2="368.5" y2="601.5" stroke="#a3a3a3" stroke-width="1"/>
<text x="362.5" y="604.7" font-size="8" text-anchor="end" fill="#161616" stroke="#161616" stroke-width="0.06">4.5</text>
<line x1="364.5" y1="629.5" x2="368.5" y2="629.5" stroke="#a3a3a3" stroke-width="1"/>
<text x="362.5" y="632.5" font-size="8" text-anchor="end" fill="#161616" stroke="#161616" stroke-width="0.06">3.0</text>
<line x1="364.5" y1="657.5" x2="368.5" y2="657.5" stroke="#a3a3a3" stroke-width="1"/>
<text x="362.5" y="660.4" font-size="8" text-anchor="end" fill="#161616" stroke="#161616" stroke-width="0.06">1.5</text>
<line x1="364.5" y1="685.5" x2="368.5" y2="685.5" stroke="#a3a3a3" stroke-width="1"/>
<text x="362.5" y="688.2" font-size="8" text-anchor="end" fill="#161616" stroke="#161616" stroke-width="0.06">0.0</text>
<line x1="390.5" y1="685.5" x2="390.5" y2="689.7" stroke="#333" stroke-width="1"/>
<text x="390.8" y="699.0" font-size="8" text-anchor="middle" fill="#161616" stroke="#161616" stroke-width="0.06">CON</text>
<line x1="424.5" y1="685.5" x2="424.5" y2="689.7" stroke="#333" stroke-width="1"/>
<text x="424.3" y="699.0" font-size="8" text-anchor="middle" fill="#161616" stroke="#161616" stroke-width="0.06">SAN</text>
<line x1="457.5" y1="685.5" x2="457.5" y2="689.7" stroke="#333" stroke-width="1"/>
<text x="457.8" y="699.0" font-size="8" text-anchor="middle" fill="#161616" stroke="#161616" stroke-width="0.06">DHSA</text>
<text x="420.6" y="579.0" font-size="9" text-anchor="middle" fill="#161616" stroke="#161616" stroke-width="0.06">Claudin-1</text>
<text x="345.4" y="631.0" font-size="7.75" text-anchor="middle" transform="rotate(-90 345.4 631)" fill="#161616" dominant-baseline="central" stroke="#161616" stroke-width="0.06">mRNA expression</text>
<path d="M390.8 654.2 V631.9 H424.3 V638.1" fill="none" stroke="#444" stroke-width="1"/>
<text x="407.7" y="629.7" font-size="7.5" text-anchor="middle" fill="#333" stroke="#333" stroke-width="0.06">**</text>
<line x1="380.8" y1="666.0" x2="400.8" y2="666.0" stroke="#9a9a9a" stroke-width="1.2"/>
<line x1="390.8" y1="664.5" x2="390.8" y2="667.5" stroke="#9a9a9a" stroke-width="1.2"/>
<line x1="385.8" y1="664.5" x2="395.8" y2="664.5" stroke="#9a9a9a" stroke-width="1.2"/>
<line x1="385.8" y1="667.5" x2="395.8" y2="667.5" stroke="#9a9a9a" stroke-width="1.2"/>
<circle cx="390.8" cy="661.7" r="2.15" fill="none" stroke="#9a9a9a" stroke-width="1.05"/>
<circle cx="382.1" cy="669.1" r="2.15" fill="none" stroke="#9a9a9a" stroke-width="1.05"/>
<circle cx="387.6" cy="666.5" r="2.15" fill="none" stroke="#9a9a9a" stroke-width="1.05"/>
<circle cx="394.5" cy="667.0" r="2.15" fill="none" stroke="#9a9a9a" stroke-width="1.05"/>
<circle cx="400.2" cy="667.4" r="2.15" fill="none" stroke="#9a9a9a" stroke-width="1.05"/>
<line x1="413.3" y1="652.5" x2="435.3" y2="652.5" stroke="#8fcdb6" stroke-width="1.2"/>
<line x1="424.3" y1="650.0" x2="424.3" y2="655.0" stroke="#8fcdb6" stroke-width="1.2"/>
<line x1="418.7" y1="650.0" x2="429.9" y2="650.0" stroke="#8fcdb6" stroke-width="1.2"/>
<line x1="418.7" y1="655.0" x2="429.9" y2="655.0" stroke="#8fcdb6" stroke-width="1.2"/>
<circle cx="424.3" cy="643.6" r="2.15" fill="none" stroke="#8fcdb6" stroke-width="1.05"/>
<circle cx="415.6" cy="657.5" r="2.15" fill="none" stroke="#8fcdb6" stroke-width="1.05"/>
<circle cx="421.3" cy="654.2" r="2.15" fill="none" stroke="#8fcdb6" stroke-width="1.05"/>
<circle cx="427.3" cy="656.2" r="2.15" fill="none" stroke="#8fcdb6" stroke-width="1.05"/>
<circle cx="433.7" cy="654.7" r="2.15" fill="none" stroke="#8fcdb6" stroke-width="1.05"/>
<line x1="446.8" y1="663.0" x2="468.8" y2="663.0" stroke="#2f74ad" stroke-width="1.2"/>
<line x1="457.8" y1="660.5" x2="457.8" y2="665.5" stroke="#2f74ad" stroke-width="1.2"/>
<line x1="452.2" y1="660.5" x2="463.4" y2="660.5" stroke="#2f74ad" stroke-width="1.2"/>
<line x1="452.2" y1="665.5" x2="463.4" y2="665.5" stroke="#2f74ad" stroke-width="1.2"/>
<circle cx="452.9" cy="656.2" r="2.15" fill="none" stroke="#2f74ad" stroke-width="1.05"/>
<circle cx="462.8" cy="656.2" r="2.15" fill="none" stroke="#2f74ad" stroke-width="1.05"/>
<circle cx="448.6" cy="667.4" r="2.15" fill="none" stroke="#2f74ad" stroke-width="1.05"/>
<circle cx="457.8" cy="666.2" r="2.15" fill="none" stroke="#2f74ad" stroke-width="1.05"/>
<circle cx="466.0" cy="667.4" r="2.15" fill="none" stroke="#2f74ad" stroke-width="1.05"/>
<text x="1.0" y="718.4" font-size="18.5" text-anchor="start" fill="#161616" stroke="#161616" stroke-width="0.14">E</text>
<line x1="35.5" y1="722.0" x2="35.5" y2="828.0" stroke="#666666" stroke-width="1"/>
<line x1="35.0" y1="827.5" x2="140.0" y2="827.5" stroke="#666666" stroke-width="1"/>
<line x1="31.5" y1="722.5" x2="35.5" y2="722.5" stroke="#666666" stroke-width="1"/>
<text x="29.5" y="725.0" font-size="7.5" text-anchor="end" fill="#161616" stroke="#161616" stroke-width="0.06">1,200</text>
<line x1="31.5" y1="748.5" x2="35.5" y2="748.5" stroke="#666666" stroke-width="1"/>
<text x="29.5" y="751.3" font-size="7.5" text-anchor="end" fill="#161616" stroke="#161616" stroke-width="0.06">900</text>
<line x1="31.5" y1="775.5" x2="35.5" y2="775.5" stroke="#666666" stroke-width="1"/>
<text x="29.5" y="777.5" font-size="7.5" text-anchor="end" fill="#161616" stroke="#161616" stroke-width="0.06">600</text>
<line x1="31.5" y1="801.5" x2="35.5" y2="801.5" stroke="#666666" stroke-width="1"/>
<text x="29.5" y="803.8" font-size="7.5" text-anchor="end" fill="#161616" stroke="#161616" stroke-width="0.06">300</text>
<line x1="31.5" y1="827.5" x2="35.5" y2="827.5" stroke="#666666" stroke-width="1"/>
<text x="29.5" y="830.0" font-size="7.5" text-anchor="end" fill="#161616" stroke="#161616" stroke-width="0.06">0</text>
<line x1="56.5" y1="827.5" x2="56.5" y2="831.7" stroke="#333" stroke-width="1"/>
<text x="56.4" y="839.0" font-size="7.5" text-anchor="middle" fill="#161616" stroke="#161616" stroke-width="0.06">CON</text>
<line x1="87.5" y1="827.5" x2="87.5" y2="831.7" stroke="#333" stroke-width="1"/>
<text x="87.5" y="839.0" font-size="7.5" text-anchor="middle" fill="#161616" stroke="#161616" stroke-width="0.06">SAN</text>
<line x1="119.5" y1="827.5" x2="119.5" y2="831.7" stroke="#333" stroke-width="1"/>
<text x="119.0" y="839.0" font-size="7.5" text-anchor="middle" fill="#161616" stroke="#161616" stroke-width="0.06">DHSA</text>
<text x="5.8" y="774.5" font-size="8.8" text-anchor="middle" transform="rotate(-90 5.8 774.5)" fill="#161616" dominant-baseline="central" stroke="#161616" stroke-width="0.06">IL-1β, pg/mL</text>
<rect x="46.0" y="777.0" width="21.0" height="49.6" fill="#a0a0a0" stroke="#8e8e8e" stroke-width="0.8"/>
<line x1="56.5" y1="777.0" x2="56.5" y2="775.2" stroke="#555" stroke-width="0.9"/>
<line x1="51.5" y1="775.2" x2="61.5" y2="775.2" stroke="#555" stroke-width="0.9"/>
<rect x="77.0" y="787.2" width="21.1" height="39.4" fill="#a3d3c5" stroke="#b8e0d4" stroke-width="0.8"/>
<line x1="87.5" y1="787.2" x2="87.5" y2="785.4" stroke="#555" stroke-width="0.9"/>
<line x1="82.5" y1="785.4" x2="92.5" y2="785.4" stroke="#555" stroke-width="0.9"/>
<rect x="108.6" y="789.3" width="21.0" height="37.3" fill="#4a89b3" stroke="#3d7cab" stroke-width="0.8"/>
<line x1="119.1" y1="789.3" x2="119.1" y2="788.3" stroke="#555" stroke-width="0.9"/>
<line x1="114.1" y1="788.3" x2="124.1" y2="788.3" stroke="#555" stroke-width="0.9"/>
<path d="M56.4 765.0 V757.8 H119.0 V784.8" fill="none" stroke="#444" stroke-width="1"/>
<text x="87.9" y="756.1" font-size="7.5" text-anchor="middle" fill="#333" stroke="#333" stroke-width="0.06">**</text>
<path d="M56.4 772.5 V768.5 H87.5 V781.7" fill="none" stroke="#444" stroke-width="1"/>
<text x="72.0" y="767.0" font-size="7.5" text-anchor="middle" fill="#333" stroke="#333" stroke-width="0.06">**</text>
<line x1="163.5" y1="721.0" x2="163.5" y2="827.0" stroke="#666666" stroke-width="1"/>
<line x1="163.0" y1="826.5" x2="267.5" y2="826.5" stroke="#666666" stroke-width="1"/>
<line x1="159.5" y1="721.5" x2="163.5" y2="721.5" stroke="#666666" stroke-width="1"/>
<text x="157.5" y="724.0" font-size="7.5" text-anchor="end" fill="#161616" stroke="#161616" stroke-width="0.06">4</text>
<line x1="159.5" y1="747.5" x2="163.5" y2="747.5" stroke="#666666" stroke-width="1"/>
<text x="157.5" y="750.3" font-size="7.5" text-anchor="end" fill="#161616" stroke="#161616" stroke-width="0.06">3</text>
<line x1="159.5" y1="774.5" x2="163.5" y2="774.5" stroke="#666666" stroke-width="1"/>
<text x="157.5" y="776.5" font-size="7.5" text-anchor="end" fill="#161616" stroke="#161616" stroke-width="0.06">2</text>
<line x1="159.5" y1="800.5" x2="163.5" y2="800.5" stroke="#666666" stroke-width="1"/>
<text x="157.5" y="802.8" font-size="7.5" text-anchor="end" fill="#161616" stroke="#161616" stroke-width="0.06">1</text>
<line x1="159.5" y1="826.5" x2="163.5" y2="826.5" stroke="#666666" stroke-width="1"/>
<text x="157.5" y="829.0" font-size="7.5" text-anchor="end" fill="#161616" stroke="#161616" stroke-width="0.06">0</text>
<line x1="183.5" y1="826.5" x2="183.5" y2="830.7" stroke="#333" stroke-width="1"/>
<text x="183.6" y="839.0" font-size="7.5" text-anchor="middle" fill="#161616" stroke="#161616" stroke-width="0.06">CON</text>
<line x1="215.5" y1="826.5" x2="215.5" y2="830.7" stroke="#333" stroke-width="1"/>
<text x="215.4" y="839.0" font-size="7.5" text-anchor="middle" fill="#161616" stroke="#161616" stroke-width="0.06">SAN</text>
<line x1="247.5" y1="826.5" x2="247.5" y2="830.7" stroke="#333" stroke-width="1"/>
<text x="247.1" y="839.0" font-size="7.5" text-anchor="middle" fill="#161616" stroke="#161616" stroke-width="0.06">DHSA</text>
<text x="145.3" y="774.5" font-size="8.8" text-anchor="middle" transform="rotate(-90 145.3 774.5)" fill="#161616" dominant-baseline="central" stroke="#161616" stroke-width="0.06">IL-6, pg/mL</text>
<rect x="173.8" y="770.0" width="20.8" height="56.1" fill="#a0a0a0" stroke="#8e8e8e" stroke-width="0.8"/>
<line x1="184.2" y1="770.0" x2="184.2" y2="769.4" stroke="#555" stroke-width="0.9"/>
<line x1="179.2" y1="769.4" x2="189.2" y2="769.4" stroke="#555" stroke-width="0.9"/>
<rect x="205.1" y="769.6" width="20.8" height="56.5" fill="#a3d3c5" stroke="#b8e0d4" stroke-width="0.8"/>
<line x1="215.5" y1="769.6" x2="215.5" y2="769.0" stroke="#555" stroke-width="0.9"/>
<line x1="210.5" y1="769.0" x2="220.5" y2="769.0" stroke="#555" stroke-width="0.9"/>
<rect x="236.9" y="774.0" width="20.8" height="52.1" fill="#4a89b3" stroke="#3d7cab" stroke-width="0.8"/>
<line x1="247.3" y1="774.0" x2="247.3" y2="772.4" stroke="#555" stroke-width="0.9"/>
<line x1="242.3" y1="772.4" x2="252.3" y2="772.4" stroke="#555" stroke-width="0.9"/>
<path d="M183.6 767.4 V760.9 H247.1 V767.4" fill="none" stroke="#444" stroke-width="1"/>
<text x="215.4" y="759.2" font-size="7.5" text-anchor="middle" fill="#333" stroke="#333" stroke-width="0.06">**</text>
<line x1="298.5" y1="721.8" x2="298.5" y2="828.0" stroke="#666666" stroke-width="1"/>
<line x1="298.0" y1="827.5" x2="403.6" y2="827.5" stroke="#666666" stroke-width="1"/>
<line x1="294.5" y1="722.5" x2="298.5" y2="722.5" stroke="#666666" stroke-width="1"/>
<text x="292.5" y="724.8" font-size="7.5" text-anchor="end" fill="#161616" stroke="#161616" stroke-width="0.06">160</text>
<line x1="294.5" y1="748.5" x2="298.5" y2="748.5" stroke="#666666" stroke-width="1"/>
<text x="292.5" y="751.1" font-size="7.5" text-anchor="end" fill="#161616" stroke="#161616" stroke-width="0.06">120</text>
<line x1="294.5" y1="774.5" x2="298.5" y2="774.5" stroke="#666666" stroke-width="1"/>
<text x="292.5" y="777.4" font-size="7.5" text-anchor="end" fill="#161616" stroke="#161616" stroke-width="0.06">80</text>
<line x1="294.5" y1="801.5" x2="298.5" y2="801.5" stroke="#666666" stroke-width="1"/>
<text x="292.5" y="803.8" font-size="7.5" text-anchor="end" fill="#161616" stroke="#161616" stroke-width="0.06">40</text>
<line x1="294.5" y1="827.5" x2="298.5" y2="827.5" stroke="#666666" stroke-width="1"/>
<text x="292.5" y="830.0" font-size="7.5" text-anchor="end" fill="#161616" stroke="#161616" stroke-width="0.06">0</text>
<line x1="319.5" y1="827.5" x2="319.5" y2="831.7" stroke="#333" stroke-width="1"/>
<text x="319.7" y="839.0" font-size="7.5" text-anchor="middle" fill="#161616" stroke="#161616" stroke-width="0.06">CON</text>
<line x1="351.5" y1="827.5" x2="351.5" y2="831.7" stroke="#333" stroke-width="1"/>
<text x="351.0" y="839.0" font-size="7.5" text-anchor="middle" fill="#161616" stroke="#161616" stroke-width="0.06">SAN</text>
<line x1="382.5" y1="827.5" x2="382.5" y2="831.7" stroke="#333" stroke-width="1"/>
<text x="382.3" y="839.0" font-size="7.5" text-anchor="middle" fill="#161616" stroke="#161616" stroke-width="0.06">DHSA</text>
<text x="274.8" y="774.5" font-size="8.8" text-anchor="middle" transform="rotate(-90 274.8 774.5)" fill="#161616" dominant-baseline="central" stroke="#161616" stroke-width="0.06">IL-10, pg/mL</text>
<rect x="309.4" y="775.1" width="20.4" height="51.4" fill="#a0a0a0" stroke="#8e8e8e" stroke-width="0.8"/>
<line x1="319.6" y1="775.1" x2="319.6" y2="772.9" stroke="#555" stroke-width="0.9"/>
<line x1="314.6" y1="772.9" x2="324.6" y2="772.9" stroke="#555" stroke-width="0.9"/>
<rect x="340.5" y="772.7" width="20.8" height="53.8" fill="#a3d3c5" stroke="#b8e0d4" stroke-width="0.8"/>
<line x1="350.9" y1="772.7" x2="350.9" y2="771.2" stroke="#555" stroke-width="0.9"/>
<line x1="345.9" y1="771.2" x2="355.9" y2="771.2" stroke="#555" stroke-width="0.9"/>
<rect x="372.3" y="771.2" width="20.8" height="55.3" fill="#4a89b3" stroke="#3d7cab" stroke-width="0.8"/>
<line x1="382.7" y1="771.2" x2="382.7" y2="769.4" stroke="#555" stroke-width="0.9"/>
<line x1="377.7" y1="769.4" x2="387.7" y2="769.4" stroke="#555" stroke-width="0.9"/>
<path d="M319.7 766.8 V760.9 H382.3 V766.8" fill="none" stroke="#444" stroke-width="1"/>
<text x="351.0" y="759.2" font-size="7.5" text-anchor="middle" fill="#333" stroke="#333" stroke-width="0.06">**</text>
<line x1="438.5" y1="721.8" x2="438.5" y2="827.0" stroke="#666666" stroke-width="1"/>
<line x1="438.0" y1="826.5" x2="542.0" y2="826.5" stroke="#666666" stroke-width="1"/>
<line x1="434.5" y1="722.5" x2="438.5" y2="722.5" stroke="#666666" stroke-width="1"/>
<text x="432.5" y="724.8" font-size="7.5" text-anchor="end" fill="#161616" stroke="#161616" stroke-width="0.06">1,200</text>
<line x1="434.5" y1="748.5" x2="438.5" y2="748.5" stroke="#666666" stroke-width="1"/>
<text x="432.5" y="750.9" font-size="7.5" text-anchor="end" fill="#161616" stroke="#161616" stroke-width="0.06">900</text>
<line x1="434.5" y1="774.5" x2="438.5" y2="774.5" stroke="#666666" stroke-width="1"/>
<text x="432.5" y="776.9" font-size="7.5" text-anchor="end" fill="#161616" stroke="#161616" stroke-width="0.06">600</text>
<line x1="434.5" y1="800.5" x2="438.5" y2="800.5" stroke="#666666" stroke-width="1"/>
<text x="432.5" y="803.0" font-size="7.5" text-anchor="end" fill="#161616" stroke="#161616" stroke-width="0.06">300</text>
<line x1="434.5" y1="826.5" x2="438.5" y2="826.5" stroke="#666666" stroke-width="1"/>
<text x="432.5" y="829.0" font-size="7.5" text-anchor="end" fill="#161616" stroke="#161616" stroke-width="0.06">0</text>
<line x1="459.5" y1="826.5" x2="459.5" y2="830.7" stroke="#333" stroke-width="1"/>
<text x="459.3" y="839.0" font-size="7.5" text-anchor="middle" fill="#161616" stroke="#161616" stroke-width="0.06">CON</text>
<line x1="489.5" y1="826.5" x2="489.5" y2="830.7" stroke="#333" stroke-width="1"/>
<text x="489.9" y="839.0" font-size="7.5" text-anchor="middle" fill="#161616" stroke="#161616" stroke-width="0.06">SAN</text>
<line x1="521.5" y1="826.5" x2="521.5" y2="830.7" stroke="#333" stroke-width="1"/>
<text x="521.2" y="839.0" font-size="7.5" text-anchor="middle" fill="#161616" stroke="#161616" stroke-width="0.06">DHSA</text>
<text x="409.0" y="774.5" font-size="8.8" text-anchor="middle" transform="rotate(-90 409 774.5)" fill="#161616" dominant-baseline="central" stroke="#161616" stroke-width="0.06">IL-22, pg/mL</text>
<rect x="449.4" y="780.4" width="20.4" height="45.4" fill="#a0a0a0" stroke="#8e8e8e" stroke-width="0.8"/>
<line x1="459.6" y1="780.4" x2="459.6" y2="779.6" stroke="#555" stroke-width="0.9"/>
<line x1="454.6" y1="779.6" x2="464.6" y2="779.6" stroke="#555" stroke-width="0.9"/>
<rect x="480.0" y="772.9" width="20.9" height="52.9" fill="#a3d3c5" stroke="#b8e0d4" stroke-width="0.8"/>
<line x1="490.4" y1="772.9" x2="490.4" y2="772.1" stroke="#555" stroke-width="0.9"/>
<line x1="485.4" y1="772.1" x2="495.4" y2="772.1" stroke="#555" stroke-width="0.9"/>
<rect x="511.2" y="767.9" width="20.8" height="57.9" fill="#4a89b3" stroke="#3d7cab" stroke-width="0.8"/>
<line x1="521.6" y1="767.9" x2="521.6" y2="766.4" stroke="#555" stroke-width="0.9"/>
<line x1="516.6" y1="766.4" x2="526.6" y2="766.4" stroke="#555" stroke-width="0.9"/>
<path d="M459.3 762.4 V754.3 H521.2 V762.4" fill="none" stroke="#444" stroke-width="1"/>
<text x="489.9" y="752.2" font-size="7.5" text-anchor="middle" fill="#333" stroke="#333" stroke-width="0.06">**</text>
<path d="M459.3 770.0 V765.0 H489.9 V768.3" fill="none" stroke="#444" stroke-width="1"/>
<text x="474.0" y="763.1" font-size="7.5" text-anchor="middle" fill="#333" stroke="#333" stroke-width="0.06">**</text>
<line x1="578.5" y1="720.3" x2="578.5" y2="826.0" stroke="#666666" stroke-width="1"/>
<line x1="578.0" y1="825.5" x2="683.9" y2="825.5" stroke="#666666" stroke-width="1"/>
<line x1="574.5" y1="720.5" x2="578.5" y2="720.5" stroke="#666666" stroke-width="1"/>
<text x="572.5" y="723.3" font-size="7.5" text-anchor="end" fill="#161616" stroke="#161616" stroke-width="0.06">1,200</text>
<line x1="574.5" y1="746.5" x2="578.5" y2="746.5" stroke="#666666" stroke-width="1"/>
<text x="572.5" y="749.5" font-size="7.5" text-anchor="end" fill="#161616" stroke="#161616" stroke-width="0.06">900</text>
<line x1="574.5" y1="773.5" x2="578.5" y2="773.5" stroke="#666666" stroke-width="1"/>
<text x="572.5" y="775.7" font-size="7.5" text-anchor="end" fill="#161616" stroke="#161616" stroke-width="0.06">600</text>
<line x1="574.5" y1="799.5" x2="578.5" y2="799.5" stroke="#666666" stroke-width="1"/>
<text x="572.5" y="801.9" font-size="7.5" text-anchor="end" fill="#161616" stroke="#161616" stroke-width="0.06">300</text>
<line x1="574.5" y1="825.5" x2="578.5" y2="825.5" stroke="#666666" stroke-width="1"/>
<text x="572.5" y="828.0" font-size="7.5" text-anchor="end" fill="#161616" stroke="#161616" stroke-width="0.06">0</text>
<line x1="599.5" y1="825.5" x2="599.5" y2="829.7" stroke="#333" stroke-width="1"/>
<text x="599.6" y="839.0" font-size="7.5" text-anchor="middle" fill="#161616" stroke="#161616" stroke-width="0.06">CON</text>
<line x1="630.5" y1="825.5" x2="630.5" y2="829.7" stroke="#333" stroke-width="1"/>
<text x="630.9" y="839.0" font-size="7.5" text-anchor="middle" fill="#161616" stroke="#161616" stroke-width="0.06">SAN</text>
<line x1="662.5" y1="825.5" x2="662.5" y2="829.7" stroke="#333" stroke-width="1"/>
<text x="662.4" y="839.0" font-size="7.5" text-anchor="middle" fill="#161616" stroke="#161616" stroke-width="0.06">DHSA</text>
<text x="547.7" y="774.5" font-size="8.8" text-anchor="middle" transform="rotate(-90 547.7 774.5)" fill="#161616" dominant-baseline="central" stroke="#161616" stroke-width="0.06">SIgA, ng/mL</text>
<rect x="589.3" y="777.1" width="20.6" height="48.3" fill="#a0a0a0" stroke="#8e8e8e" stroke-width="0.8"/>
<line x1="599.6" y1="777.1" x2="599.6" y2="776.7" stroke="#555" stroke-width="0.9"/>
<line x1="594.6" y1="776.7" x2="604.6" y2="776.7" stroke="#555" stroke-width="0.9"/>
<rect x="620.4" y="776.0" width="21.2" height="49.4" fill="#a3d3c5" stroke="#b8e0d4" stroke-width="0.8"/>
<line x1="631.0" y1="776.0" x2="631.0" y2="775.4" stroke="#555" stroke-width="0.9"/>
<line x1="626.0" y1="775.4" x2="636.0" y2="775.4" stroke="#555" stroke-width="0.9"/>
<rect x="652.1" y="776.0" width="20.9" height="49.4" fill="#4a89b3" stroke="#3d7cab" stroke-width="0.8"/>
<line x1="662.5" y1="776.0" x2="662.5" y2="775.6" stroke="#555" stroke-width="0.9"/>
<line x1="657.5" y1="775.6" x2="667.5" y2="775.6" stroke="#555" stroke-width="0.9"/>
<path d="M599.6 763.5 V753.6 H662.4 V773.4" fill="none" stroke="#444" stroke-width="1"/>
<text x="630.9" y="752.2" font-size="7.5" text-anchor="middle" fill="#333" stroke="#333" stroke-width="0.06">**</text>
<path d="M599.6 770.0 V766.1 H630.9 V773.4" fill="none" stroke="#444" stroke-width="1"/>
<text x="616.0" y="764.2" font-size="7.5" text-anchor="middle" fill="#333" stroke="#333" stroke-width="0.06">**</text>
<text x="1.0" y="855.3" font-size="18.5" text-anchor="start" fill="#161616" stroke="#161616" stroke-width="0.14">F</text>
<line x1="35.5" y1="853.4" x2="35.5" y2="960.0" stroke="#5e5e5e" stroke-width="1"/>
<line x1="35.0" y1="959.5" x2="140.0" y2="959.5" stroke="#5e5e5e" stroke-width="1"/>
<line x1="31.5" y1="853.5" x2="35.5" y2="853.5" stroke="#5e5e5e" stroke-width="1"/>
<text x="29.5" y="856.4" font-size="7.5" text-anchor="end" fill="#161616" stroke="#161616" stroke-width="0.06">4</text>
<line x1="31.5" y1="880.5" x2="35.5" y2="880.5" stroke="#5e5e5e" stroke-width="1"/>
<text x="29.5" y="882.8" font-size="7.5" text-anchor="end" fill="#161616" stroke="#161616" stroke-width="0.06">3</text>
<line x1="31.5" y1="906.5" x2="35.5" y2="906.5" stroke="#5e5e5e" stroke-width="1"/>
<text x="29.5" y="909.2" font-size="7.5" text-anchor="end" fill="#161616" stroke="#161616" stroke-width="0.06">2</text>
<line x1="31.5" y1="933.5" x2="35.5" y2="933.5" stroke="#5e5e5e" stroke-width="1"/>
<text x="29.5" y="935.6" font-size="7.5" text-anchor="end" fill="#161616" stroke="#161616" stroke-width="0.06">1</text>
<line x1="31.5" y1="959.5" x2="35.5" y2="959.5" stroke="#5e5e5e" stroke-width="1"/>
<text x="29.5" y="962.0" font-size="7.5" text-anchor="end" fill="#161616" stroke="#161616" stroke-width="0.06">0</text>
<line x1="56.5" y1="959.5" x2="56.5" y2="963.7" stroke="#333" stroke-width="1"/>
<text x="56.8" y="971.8" font-size="7.5" text-anchor="middle" fill="#161616" stroke="#161616" stroke-width="0.06">CON</text>
<line x1="88.5" y1="959.5" x2="88.5" y2="963.7" stroke="#333" stroke-width="1"/>
<text x="88.3" y="971.8" font-size="7.5" text-anchor="middle" fill="#161616" stroke="#161616" stroke-width="0.06">SAN</text>
<line x1="120.5" y1="959.5" x2="120.5" y2="963.7" stroke="#333" stroke-width="1"/>
<text x="120.6" y="971.8" font-size="7.5" text-anchor="middle" fill="#161616" stroke="#161616" stroke-width="0.06">DHSA</text>
<text x="81.7" y="858.0" font-size="9" text-anchor="middle" font-style="italic" fill="#161616" stroke="#161616" stroke-width="0.06">IL-1β</text>
<text x="19.4" y="907.5" font-size="7.5" text-anchor="middle" transform="rotate(-90 19.4 907.5)" fill="#161616" dominant-baseline="central" stroke="#161616" stroke-width="0.06">mRNA expression</text>
<path d="M56.8 919.3 V911.5 H120.6 V926.9" fill="none" stroke="#444" stroke-width="1"/>
<text x="88.3" y="911.4" font-size="7.5" text-anchor="middle" fill="#333" stroke="#333" stroke-width="0.06">**</text>
<line x1="47.8" y1="933.4" x2="65.8" y2="933.4" stroke="#9a9a9a" stroke-width="1.2"/>
<circle cx="48.0" cy="932.6" r="2.15" fill="none" stroke="#9a9a9a" stroke-width="1.05"/>
<circle cx="56.8" cy="926.9" r="2.15" fill="none" stroke="#9a9a9a" stroke-width="1.05"/>
<circle cx="56.8" cy="933.4" r="2.15" fill="none" stroke="#9a9a9a" stroke-width="1.05"/>
<circle cx="56.8" cy="939.1" r="2.15" fill="none" stroke="#9a9a9a" stroke-width="1.05"/>
<circle cx="65.0" cy="933.4" r="2.15" fill="none" stroke="#9a9a9a" stroke-width="1.05"/>
<line x1="77.3" y1="933.2" x2="99.3" y2="933.2" stroke="#8fcdb6" stroke-width="1.2"/>
<circle cx="80.1" cy="929.9" r="2.15" fill="none" stroke="#8fcdb6" stroke-width="1.05"/>
<circle cx="88.3" cy="933.4" r="2.15" fill="none" stroke="#8fcdb6" stroke-width="1.05"/>
<circle cx="97.1" cy="928.3" r="2.15" fill="none" stroke="#8fcdb6" stroke-width="1.05"/>
<circle cx="97.1" cy="933.4" r="2.15" fill="none" stroke="#8fcdb6" stroke-width="1.05"/>
<circle cx="88.3" cy="947.3" r="2.15" fill="none" stroke="#8fcdb6" stroke-width="1.05"/>
<circle cx="120.6" cy="932.0" r="2.15" fill="none" stroke="#2f74ad" stroke-width="1.05"/>
<circle cx="112.0" cy="955.5" r="2.15" fill="none" stroke="#2f74ad" stroke-width="1.05"/>
<circle cx="117.5" cy="954.6" r="2.15" fill="none" stroke="#2f74ad" stroke-width="1.05"/>
<circle cx="123.2" cy="954.6" r="2.15" fill="none" stroke="#2f74ad" stroke-width="1.05"/>
<circle cx="128.8" cy="954.6" r="2.15" fill="none" stroke="#2f74ad" stroke-width="1.05"/>
<line x1="169.5" y1="854.4" x2="169.5" y2="960.0" stroke="#5e5e5e" stroke-width="1"/>
<line x1="169.0" y1="959.5" x2="273.4" y2="959.5" stroke="#5e5e5e" stroke-width="1"/>
<line x1="165.5" y1="854.5" x2="169.5" y2="854.5" stroke="#5e5e5e" stroke-width="1"/>
<text x="163.5" y="857.4" font-size="7.5" text-anchor="end" fill="#161616" stroke="#161616" stroke-width="0.06">2.8</text>
<line x1="165.5" y1="881.5" x2="169.5" y2="881.5" stroke="#5e5e5e" stroke-width="1"/>
<text x="163.5" y="883.6" font-size="7.5" text-anchor="end" fill="#161616" stroke="#161616" stroke-width="0.06">2.1</text>
<line x1="165.5" y1="907.5" x2="169.5" y2="907.5" stroke="#5e5e5e" stroke-width="1"/>
<text x="163.5" y="909.8" font-size="7.5" text-anchor="end" fill="#161616" stroke="#161616" stroke-width="0.06">1.4</text>
<line x1="165.5" y1="933.5" x2="169.5" y2="933.5" stroke="#5e5e5e" stroke-width="1"/>
<text x="163.5" y="935.9" font-size="7.5" text-anchor="end" fill="#161616" stroke="#161616" stroke-width="0.06">0.7</text>
<line x1="165.5" y1="959.5" x2="169.5" y2="959.5" stroke="#5e5e5e" stroke-width="1"/>
<text x="163.5" y="962.0" font-size="7.5" text-anchor="end" fill="#161616" stroke="#161616" stroke-width="0.06">0.0</text>
<line x1="190.5" y1="959.5" x2="190.5" y2="963.7" stroke="#333" stroke-width="1"/>
<text x="190.7" y="971.8" font-size="7.5" text-anchor="middle" fill="#161616" stroke="#161616" stroke-width="0.06">CON</text>
<line x1="221.5" y1="959.5" x2="221.5" y2="963.7" stroke="#333" stroke-width="1"/>
<text x="221.5" y="971.8" font-size="7.5" text-anchor="middle" fill="#161616" stroke="#161616" stroke-width="0.06">SAN</text>
<line x1="253.5" y1="959.5" x2="253.5" y2="963.7" stroke="#333" stroke-width="1"/>
<text x="253.0" y="971.8" font-size="7.5" text-anchor="middle" fill="#161616" stroke="#161616" stroke-width="0.06">DHSA</text>
<text x="213.2" y="859.7" font-size="9" text-anchor="middle" font-style="italic" fill="#161616" stroke="#161616" stroke-width="0.06">IL-6</text>
<text x="148.6" y="907.5" font-size="7.5" text-anchor="middle" transform="rotate(-90 148.6 907.5)" fill="#161616" dominant-baseline="central" stroke="#161616" stroke-width="0.06">mRNA expression</text>
<line x1="181.7" y1="925.0" x2="199.7" y2="925.0" stroke="#9a9a9a" stroke-width="1.2"/>
<circle cx="182.1" cy="925.0" r="2.15" fill="none" stroke="#9a9a9a" stroke-width="1.05"/>
<circle cx="190.7" cy="913.4" r="2.15" fill="none" stroke="#9a9a9a" stroke-width="1.05"/>
<circle cx="190.7" cy="918.8" r="2.15" fill="none" stroke="#9a9a9a" stroke-width="1.05"/>
<circle cx="190.7" cy="924.5" r="2.15" fill="none" stroke="#9a9a9a" stroke-width="1.05"/>
<circle cx="199.0" cy="925.0" r="2.15" fill="none" stroke="#9a9a9a" stroke-width="1.05"/>
<line x1="212.5" y1="925.0" x2="230.5" y2="925.0" stroke="#8fcdb6" stroke-width="1.2"/>
<circle cx="213.6" cy="923.2" r="2.15" fill="none" stroke="#8fcdb6" stroke-width="1.05"/>
<circle cx="218.7" cy="925.8" r="2.15" fill="none" stroke="#8fcdb6" stroke-width="1.05"/>
<circle cx="224.6" cy="926.5" r="2.15" fill="none" stroke="#8fcdb6" stroke-width="1.05"/>
<circle cx="230.3" cy="923.2" r="2.15" fill="none" stroke="#8fcdb6" stroke-width="1.05"/>
<circle cx="221.5" cy="934.2" r="2.15" fill="none" stroke="#8fcdb6" stroke-width="1.05"/>
<line x1="244.0" y1="947.5" x2="262.0" y2="947.5" stroke="#2f74ad" stroke-width="1.2"/>
<circle cx="253.0" cy="891.5" r="2.15" fill="none" stroke="#2f74ad" stroke-width="1.05"/>
<circle cx="244.3" cy="949.0" r="2.15" fill="none" stroke="#2f74ad" stroke-width="1.05"/>
<circle cx="250.0" cy="945.5" r="2.15" fill="none" stroke="#2f74ad" stroke-width="1.05"/>
<circle cx="255.9" cy="948.4" r="2.15" fill="none" stroke="#2f74ad" stroke-width="1.05"/>
<circle cx="261.4" cy="947.3" r="2.15" fill="none" stroke="#2f74ad" stroke-width="1.05"/>
<line x1="301.5" y1="854.8" x2="301.5" y2="960.0" stroke="#5e5e5e" stroke-width="1"/>
<line x1="301.0" y1="959.5" x2="406.9" y2="959.5" stroke="#5e5e5e" stroke-width="1"/>
<line x1="297.5" y1="855.5" x2="301.5" y2="855.5" stroke="#5e5e5e" stroke-width="1"/>
<text x="295.5" y="857.8" font-size="7.5" text-anchor="end" fill="#161616" stroke="#161616" stroke-width="0.06">6.0</text>
<line x1="297.5" y1="881.5" x2="301.5" y2="881.5" stroke="#5e5e5e" stroke-width="1"/>
<text x="295.5" y="883.9" font-size="7.5" text-anchor="end" fill="#161616" stroke="#161616" stroke-width="0.06">4.5</text>
<line x1="297.5" y1="907.5" x2="301.5" y2="907.5" stroke="#5e5e5e" stroke-width="1"/>
<text x="295.5" y="909.9" font-size="7.5" text-anchor="end" fill="#161616" stroke="#161616" stroke-width="0.06">3.0</text>
<line x1="297.5" y1="933.5" x2="301.5" y2="933.5" stroke="#5e5e5e" stroke-width="1"/>
<text x="295.5" y="936.0" font-size="7.5" text-anchor="end" fill="#161616" stroke="#161616" stroke-width="0.06">1.5</text>
<line x1="297.5" y1="959.5" x2="301.5" y2="959.5" stroke="#5e5e5e" stroke-width="1"/>
<text x="295.5" y="962.0" font-size="7.5" text-anchor="end" fill="#161616" stroke="#161616" stroke-width="0.06">0.0</text>
<line x1="322.5" y1="959.5" x2="322.5" y2="963.7" stroke="#333" stroke-width="1"/>
<text x="322.6" y="971.8" font-size="7.5" text-anchor="middle" fill="#161616" stroke="#161616" stroke-width="0.06">CON</text>
<line x1="353.5" y1="959.5" x2="353.5" y2="963.7" stroke="#333" stroke-width="1"/>
<text x="353.9" y="971.8" font-size="7.5" text-anchor="middle" fill="#161616" stroke="#161616" stroke-width="0.06">SAN</text>
<line x1="385.5" y1="959.5" x2="385.5" y2="963.7" stroke="#333" stroke-width="1"/>
<text x="385.4" y="971.8" font-size="7.5" text-anchor="middle" fill="#161616" stroke="#161616" stroke-width="0.06">DHSA</text>
<text x="345.5" y="862.3" font-size="9" text-anchor="middle" font-style="italic" fill="#161616" stroke="#161616" stroke-width="0.06">IL-10</text>
<text x="279.9" y="907.5" font-size="7.5" text-anchor="middle" transform="rotate(-90 279.9 907.5)" fill="#161616" dominant-baseline="central" stroke="#161616" stroke-width="0.06">mRNA expression</text>
<path d="M322.6 914.4 V900.2 H385.4 V906.8" fill="none" stroke="#444" stroke-width="1"/>
<text x="355.4" y="901.4" font-size="7.5" text-anchor="middle" fill="#333" stroke="#333" stroke-width="0.06">**</text>
<path d="M322.6 936.3 V917.1 H353.9 V919.3" fill="none" stroke="#444" stroke-width="1"/>
<text x="338.3" y="915.2" font-size="7.5" text-anchor="middle" fill="#333" stroke="#333" stroke-width="0.06">**</text>
<line x1="313.6" y1="941.3" x2="331.6" y2="941.3" stroke="#9a9a9a" stroke-width="1.2"/>
<circle cx="314.2" cy="942.0" r="2.15" fill="none" stroke="#9a9a9a" stroke-width="1.05"/>
<circle cx="318.6" cy="940.5" r="2.15" fill="none" stroke="#9a9a9a" stroke-width="1.05"/>
<circle cx="322.6" cy="940.5" r="2.15" fill="none" stroke="#9a9a9a" stroke-width="1.05"/>
<circle cx="326.9" cy="940.5" r="2.15" fill="none" stroke="#9a9a9a" stroke-width="1.05"/>
<circle cx="331.3" cy="943.5" r="2.15" fill="none" stroke="#9a9a9a" stroke-width="1.05"/>
<line x1="344.9" y1="932.4" x2="362.9" y2="932.4" stroke="#8fcdb6" stroke-width="1.2"/>
<circle cx="353.9" cy="926.9" r="2.15" fill="none" stroke="#8fcdb6" stroke-width="1.05"/>
<circle cx="345.5" cy="932.4" r="2.15" fill="none" stroke="#8fcdb6" stroke-width="1.05"/>
<circle cx="353.9" cy="932.4" r="2.15" fill="none" stroke="#8fcdb6" stroke-width="1.05"/>
<circle cx="362.4" cy="932.4" r="2.15" fill="none" stroke="#8fcdb6" stroke-width="1.05"/>
<circle cx="353.9" cy="938.1" r="2.15" fill="none" stroke="#8fcdb6" stroke-width="1.05"/>
<line x1="376.0" y1="923.0" x2="394.0" y2="923.0" stroke="#2f74ad" stroke-width="1.2"/>
<circle cx="381.2" cy="915.5" r="2.15" fill="none" stroke="#2f74ad" stroke-width="1.05"/>
<circle cx="389.3" cy="918.2" r="2.15" fill="none" stroke="#2f74ad" stroke-width="1.05"/>
<circle cx="376.9" cy="927.6" r="2.15" fill="none" stroke="#2f74ad" stroke-width="1.05"/>
<circle cx="385.0" cy="923.6" r="2.15" fill="none" stroke="#2f74ad" stroke-width="1.05"/>
<circle cx="393.7" cy="923.6" r="2.15" fill="none" stroke="#2f74ad" stroke-width="1.05"/>
<line x1="434.5" y1="854.4" x2="434.5" y2="960.0" stroke="#5e5e5e" stroke-width="1"/>
<line x1="434.0" y1="959.5" x2="538.1" y2="959.5" stroke="#5e5e5e" stroke-width="1"/>
<line x1="430.5" y1="854.5" x2="434.5" y2="854.5" stroke="#5e5e5e" stroke-width="1"/>
<text x="428.5" y="857.4" font-size="7.5" text-anchor="end" fill="#161616" stroke="#161616" stroke-width="0.06">6.0</text>
<line x1="430.5" y1="881.5" x2="434.5" y2="881.5" stroke="#5e5e5e" stroke-width="1"/>
<text x="428.5" y="883.6" font-size="7.5" text-anchor="end" fill="#161616" stroke="#161616" stroke-width="0.06">4.5</text>
<line x1="430.5" y1="907.5" x2="434.5" y2="907.5" stroke="#5e5e5e" stroke-width="1"/>
<text x="428.5" y="909.8" font-size="7.5" text-anchor="end" fill="#161616" stroke="#161616" stroke-width="0.06">3.0</text>
<line x1="430.5" y1="933.5" x2="434.5" y2="933.5" stroke="#5e5e5e" stroke-width="1"/>
<text x="428.5" y="935.9" font-size="7.5" text-anchor="end" fill="#161616" stroke="#161616" stroke-width="0.06">1.5</text>
<line x1="430.5" y1="959.5" x2="434.5" y2="959.5" stroke="#5e5e5e" stroke-width="1"/>
<text x="428.5" y="962.0" font-size="7.5" text-anchor="end" fill="#161616" stroke="#161616" stroke-width="0.06">0.0</text>
<line x1="455.5" y1="959.5" x2="455.5" y2="963.7" stroke="#333" stroke-width="1"/>
<text x="455.5" y="971.8" font-size="7.5" text-anchor="middle" fill="#161616" stroke="#161616" stroke-width="0.06">CON</text>
<line x1="486.5" y1="959.5" x2="486.5" y2="963.7" stroke="#333" stroke-width="1"/>
<text x="486.6" y="971.8" font-size="7.5" text-anchor="middle" fill="#161616" stroke="#161616" stroke-width="0.06">SAN</text>
<line x1="518.5" y1="959.5" x2="518.5" y2="963.7" stroke="#333" stroke-width="1"/>
<text x="518.0" y="971.8" font-size="7.5" text-anchor="middle" fill="#161616" stroke="#161616" stroke-width="0.06">DHSA</text>
<text x="486.6" y="858.6" font-size="9" text-anchor="middle" font-style="italic" fill="#161616" stroke="#161616" stroke-width="0.06">IL-22</text>
<text x="413.9" y="907.5" font-size="7.5" text-anchor="middle" transform="rotate(-90 413.9 907.5)" fill="#161616" dominant-baseline="central" stroke="#161616" stroke-width="0.06">mRNA expression</text>
<path d="M455.5 933.1 V890.4 H518.0 V896.5" fill="none" stroke="#444" stroke-width="1"/>
<text x="486.6" y="890.4" font-size="7.5" text-anchor="middle" fill="#333" stroke="#333" stroke-width="0.06">**</text>
<line x1="446.5" y1="941.2" x2="464.5" y2="941.2" stroke="#9a9a9a" stroke-width="1.2"/>
<circle cx="447.2" cy="939.6" r="2.15" fill="none" stroke="#9a9a9a" stroke-width="1.05"/>
<circle cx="447.2" cy="944.7" r="2.15" fill="none" stroke="#9a9a9a" stroke-width="1.05"/>
<circle cx="452.7" cy="941.2" r="2.15" fill="none" stroke="#9a9a9a" stroke-width="1.05"/>
<circle cx="458.2" cy="941.2" r="2.15" fill="none" stroke="#9a9a9a" stroke-width="1.05"/>
<circle cx="463.6" cy="941.2" r="2.15" fill="none" stroke="#9a9a9a" stroke-width="1.05"/>
<line x1="477.1" y1="936.5" x2="497.1" y2="936.5" stroke="#8fcdb6" stroke-width="1.2"/>
<circle cx="479.0" cy="936.3" r="2.15" fill="none" stroke="#8fcdb6" stroke-width="1.05"/>
<circle cx="483.4" cy="935.2" r="2.15" fill="none" stroke="#8fcdb6" stroke-width="1.05"/>
<circle cx="487.1" cy="935.2" r="2.15" fill="none" stroke="#8fcdb6" stroke-width="1.05"/>
<circle cx="491.0" cy="935.2" r="2.15" fill="none" stroke="#8fcdb6" stroke-width="1.05"/>
<circle cx="495.4" cy="939.0" r="2.15" fill="none" stroke="#8fcdb6" stroke-width="1.05"/>
<line x1="507.0" y1="911.0" x2="529.0" y2="911.0" stroke="#2f74ad" stroke-width="1.2"/>
<circle cx="518.0" cy="900.2" r="2.15" fill="none" stroke="#2f74ad" stroke-width="1.05"/>
<circle cx="509.6" cy="910.5" r="2.15" fill="none" stroke="#2f74ad" stroke-width="1.05"/>
<circle cx="509.6" cy="914.9" r="2.15" fill="none" stroke="#2f74ad" stroke-width="1.05"/>
<circle cx="518.0" cy="910.5" r="2.15" fill="none" stroke="#2f74ad" stroke-width="1.05"/>
<circle cx="526.5" cy="912.9" r="2.15" fill="none" stroke="#2f74ad" stroke-width="1.05"/>
<line x1="567.5" y1="853.1" x2="567.5" y2="958.0" stroke="#5e5e5e" stroke-width="1"/>
<line x1="567.0" y1="957.5" x2="671.9" y2="957.5" stroke="#5e5e5e" stroke-width="1"/>
<line x1="563.5" y1="853.5" x2="567.5" y2="853.5" stroke="#5e5e5e" stroke-width="1"/>
<text x="561.5" y="856.1" font-size="7.5" text-anchor="end" fill="#161616" stroke="#161616" stroke-width="0.06">6.0</text>
<line x1="563.5" y1="879.5" x2="567.5" y2="879.5" stroke="#5e5e5e" stroke-width="1"/>
<text x="561.5" y="882.1" font-size="7.5" text-anchor="end" fill="#161616" stroke="#161616" stroke-width="0.06">4.5</text>
<line x1="563.5" y1="905.5" x2="567.5" y2="905.5" stroke="#5e5e5e" stroke-width="1"/>
<text x="561.5" y="908.1" font-size="7.5" text-anchor="end" fill="#161616" stroke="#161616" stroke-width="0.06">3.0</text>
<line x1="563.5" y1="931.5" x2="567.5" y2="931.5" stroke="#5e5e5e" stroke-width="1"/>
<text x="561.5" y="934.1" font-size="7.5" text-anchor="end" fill="#161616" stroke="#161616" stroke-width="0.06">1.5</text>
<line x1="563.5" y1="957.5" x2="567.5" y2="957.5" stroke="#5e5e5e" stroke-width="1"/>
<text x="561.5" y="960.0" font-size="7.5" text-anchor="end" fill="#161616" stroke="#161616" stroke-width="0.06">0.0</text>
<line x1="588.5" y1="957.5" x2="588.5" y2="961.7" stroke="#333" stroke-width="1"/>
<text x="588.2" y="971.8" font-size="7.5" text-anchor="middle" fill="#161616" stroke="#161616" stroke-width="0.06">CON</text>
<line x1="619.5" y1="957.5" x2="619.5" y2="961.7" stroke="#333" stroke-width="1"/>
<text x="619.7" y="971.8" font-size="7.5" text-anchor="middle" fill="#161616" stroke="#161616" stroke-width="0.06">SAN</text>
<line x1="651.5" y1="957.5" x2="651.5" y2="961.7" stroke="#333" stroke-width="1"/>
<text x="651.0" y="971.8" font-size="7.5" text-anchor="middle" fill="#161616" stroke="#161616" stroke-width="0.06">DHSA</text>
<text x="614.3" y="858.6" font-size="9" text-anchor="middle" font-style="italic" fill="#161616" stroke="#161616" stroke-width="0.06">MUC2</text>
<text x="546.0" y="907.5" font-size="7.5" text-anchor="middle" transform="rotate(-90 546 907.5)" fill="#161616" dominant-baseline="central" stroke="#161616" stroke-width="0.06">mRNA expression</text>
<path d="M588.2 901.7 V893.0 H651.0 V902.4" fill="none" stroke="#444" stroke-width="1"/>
<text x="619.7" y="893.9" font-size="7.5" text-anchor="middle" fill="#333" stroke="#333" stroke-width="0.06">**</text>
<path d="M588.2 929.8 V909.0 H619.7 V914.4" fill="none" stroke="#444" stroke-width="1"/>
<text x="604.6" y="908.6" font-size="7.5" text-anchor="middle" fill="#333" stroke="#333" stroke-width="0.06">*</text>
<line x1="579.6" y1="940.5" x2="597.6" y2="940.5" stroke="#9a9a9a" stroke-width="1.2"/>
<circle cx="588.6" cy="935.7" r="2.15" fill="none" stroke="#9a9a9a" stroke-width="1.05"/>
<circle cx="580.5" cy="943.4" r="2.15" fill="none" stroke="#9a9a9a" stroke-width="1.05"/>
<circle cx="585.4" cy="940.7" r="2.15" fill="none" stroke="#9a9a9a" stroke-width="1.05"/>
<circle cx="591.5" cy="940.7" r="2.15" fill="none" stroke="#9a9a9a" stroke-width="1.05"/>
<circle cx="597.0" cy="940.7" r="2.15" fill="none" stroke="#9a9a9a" stroke-width="1.05"/>
<line x1="609.7" y1="930.9" x2="629.7" y2="930.9" stroke="#8fcdb6" stroke-width="1.2"/>
<circle cx="619.7" cy="918.8" r="2.15" fill="none" stroke="#8fcdb6" stroke-width="1.05"/>
<circle cx="615.6" cy="930.9" r="2.15" fill="none" stroke="#8fcdb6" stroke-width="1.05"/>
<circle cx="624.1" cy="927.6" r="2.15" fill="none" stroke="#8fcdb6" stroke-width="1.05"/>
<circle cx="615.6" cy="935.9" r="2.15" fill="none" stroke="#8fcdb6" stroke-width="1.05"/>
<circle cx="624.1" cy="934.6" r="2.15" fill="none" stroke="#8fcdb6" stroke-width="1.05"/>
<line x1="639.9" y1="920.6" x2="658.9" y2="920.6" stroke="#2f74ad" stroke-width="1.2"/>
<circle cx="651.0" cy="906.8" r="2.15" fill="none" stroke="#2f74ad" stroke-width="1.05"/>
<circle cx="651.0" cy="914.4" r="2.15" fill="none" stroke="#2f74ad" stroke-width="1.05"/>
<circle cx="642.7" cy="924.3" r="2.15" fill="none" stroke="#2f74ad" stroke-width="1.05"/>
<circle cx="651.0" cy="920.4" r="2.15" fill="none" stroke="#2f74ad" stroke-width="1.05"/>
<circle cx="659.4" cy="921.0" r="2.15" fill="none" stroke="#2f74ad" stroke-width="1.05"/>
<text x="1.4" y="269.9" font-size="18.5" text-anchor="start" fill="#161616" stroke="#161616" stroke-width="0.14">B</text>
<text transform="translate(12.3 291.7) scale(1 1.1)" x="0" y="0" font-size="13" text-anchor="start" fill="#161616" stroke="#161616" stroke-width="0.14">CON</text>
<text transform="translate(169.7 291.4) scale(1 1.1)" x="0" y="0" font-size="13" text-anchor="start" fill="#161616" stroke="#161616" stroke-width="0.14">SAN</text>
<text transform="translate(326.2 291.4) scale(1 1.1)" x="0" y="0" font-size="13" text-anchor="start" fill="#161616" stroke="#161616" stroke-width="0.14">DHSA</text>
<defs><filter id="tex" x="0" y="0" width="100%" height="100%"><feTurbulence type="fractalNoise" baseFrequency="0.6" numOctaves="2" seed="3" result="n1"/><feColorMatrix in="n1" type="matrix" values="0 0 0 0 0.78  0 0 0 0 0.5  0 0 0 0 0.74  2.6 0 0 0 -1.4" result="d"/><feComposite in="d" in2="SourceGraphic" operator="in" result="d2"/><feTurbulence type="fractalNoise" baseFrequency="0.8" numOctaves="2" seed="8" result="n2"/><feColorMatrix in="n2" type="matrix" values="0 0 0 0 1  0 0 0 0 1  0 0 0 0 1  2.0 0 0 0 -1.08" result="w"/><feComposite in="w" in2="SourceGraphic" operator="in" result="w2"/><feMerge result="m"><feMergeNode in="SourceGraphic"/><feMergeNode in="d2"/><feMergeNode in="w2"/></feMerge><feGaussianBlur in="m" stdDeviation="0.5"/></filter><filter id="tex3" x="0" y="0" width="100%" height="100%"><feTurbulence type="fractalNoise" baseFrequency="0.45" numOctaves="2" seed="3" result="n1"/><feColorMatrix in="n1" type="matrix" values="0 0 0 0 0.55  0 0 0 0 0.35  0 0 0 0 0.68  3.2 0 0 0 -1.75" result="d"/><feComposite in="d" in2="SourceGraphic" operator="in" result="d2"/><feTurbulence type="fractalNoise" baseFrequency="0.7" numOctaves="2" seed="8" result="n2"/><feColorMatrix in="n2" type="matrix" values="0 0 0 0 1  0 0 0 0 1  0 0 0 0 1  2.4 0 0 0 -1.3" result="w"/><feComposite in="w" in2="SourceGraphic" operator="in" result="w2"/><feMerge result="m"><feMergeNode in="SourceGraphic"/><feMergeNode in="d2"/><feMergeNode in="w2"/></feMerge><feGaussianBlur in="m" stdDeviation="0.5"/></filter><clipPath id="cpCON"><rect x="31.9" y="399.5" width="108.5" height="146.6"/></clipPath><clipPath id="cpSAN"><rect x="189.4" y="400.4" width="108.1" height="145.4"/></clipPath><clipPath id="cpDHSA"><rect x="350.2" y="400.6" width="107.3" height="145"/></clipPath></defs>
<g clip-path="url(#cpCON)"><rect x="31.9" y="399.5" width="108.5" height="146.6" fill="#fff"/><g filter="url(#tex)">
<path d="M31.9 512.0 L140.4 512.0 L140.4 546.0 L31.9 546.0Z" fill="#e3c0df"/>
<path d="M31.9 444.0 L33.5 455.0 L36.6 480.0 L40.0 497.0 L43.0 507.0 L45.5 516.0 L31.9 516.0Z" fill="#e0b5d9"/>
<path d="M49.0 516.0 L44.5 497.0 L41.4 480.0 L38.3 440.0 L36.5 410.0 C36.5 405.0 54.5 405.0 54.5 410.0 L53.6 440.0 L59.3 480.0 L62.5 497.0 L63.5 506.0 L66.0 516.0Z" fill="#e0b5d9" stroke="#c993c4" stroke-width="0.8" stroke-opacity="0.7"/>
<path d="M65.5 516.0 L66.0 503.0 L64.6 480.0 L60.6 440.0 L61.6 408.0 C61.6 403.0 81.7 403.0 81.7 408.0 L77.8 429.0 L76.8 440.0 L80.3 480.0 L83.5 500.0 L86.0 512.0 L86.0 516.0Z" fill="#e0b5d9" stroke="#c993c4" stroke-width="0.8" stroke-opacity="0.7"/>
<path d="M86.0 516.0 L87.5 505.0 L84.6 480.0 L83.3 440.0 L86.6 412.0 C86.6 407.0 97.4 407.0 97.4 412.0 L95.1 440.0 L99.5 480.0 L102.0 500.0 L104.0 516.0Z" fill="#e0b5d9" stroke="#c993c4" stroke-width="0.8" stroke-opacity="0.7"/>
<path d="M105.5 516.0 L107.5 500.0 L105.6 480.0 L102.1 440.0 L100.5 413.0 C100.5 408.0 113.6 408.0 113.6 413.0 L118.3 440.0 L123.2 480.0 L125.0 500.0 L125.0 516.0Z" fill="#e0b5d9" stroke="#c993c4" stroke-width="0.8" stroke-opacity="0.7"/>
<path d="M127.0 516.0 L129.5 505.0 L126.7 480.0 L121.0 440.0 L118.2 416.0 C118.2 411.0 122.9 411.0 122.9 416.0 L127.5 428.0 L133.7 440.0 L137.0 455.0 L139.8 470.0 L140.4 516.0Z" fill="#e0b5d9" stroke="#c993c4" stroke-width="0.8" stroke-opacity="0.7"/>
<path d="M126.0 411.0 L131.0 405.5 L136.0 404.0 L140.4 404.0 L140.4 424.0 L136.0 421.0 L131.0 415.0Z" fill="#e0b5d9"/>
</g>
<line x1="34.5" y1="508.9" x2="34.3" y2="522.8" stroke="#fff" stroke-width="0.6774861354012052" stroke-opacity="0.37"/>
<line x1="37.7" y1="514.3" x2="38.2" y2="528.4" stroke="#fff" stroke-width="0.7109640878451589" stroke-opacity="0.54"/>
<line x1="40.8" y1="508.4" x2="40.3" y2="522.8" stroke="#fff" stroke-width="1.0637378157140303" stroke-opacity="0.64"/>
<line x1="44.7" y1="513.4" x2="44.4" y2="523.5" stroke="#fff" stroke-width="0.913487801206565" stroke-opacity="0.61"/>
<line x1="48.6" y1="514.0" x2="48.8" y2="522.7" stroke="#fff" stroke-width="0.9358507282582367" stroke-opacity="0.53"/>
<line x1="51.5" y1="510.8" x2="52.2" y2="522.7" stroke="#fff" stroke-width="1.0327420850925417" stroke-opacity="0.54"/>
<line x1="54.6" y1="514.3" x2="55.2" y2="526.6" stroke="#fff" stroke-width="1.0240220441118173" stroke-opacity="0.53"/>
<line x1="57.9" y1="511.8" x2="57.3" y2="525.4" stroke="#fff" stroke-width="0.7525557982163695" stroke-opacity="0.63"/>
<line x1="60.5" y1="507.4" x2="60.2" y2="527.0" stroke="#fff" stroke-width="0.8673108974397111" stroke-opacity="0.51"/>
<line x1="63.7" y1="515.0" x2="63.5" y2="523.6" stroke="#fff" stroke-width="0.7013353080861982" stroke-opacity="0.57"/>
<line x1="66.7" y1="509.8" x2="66.4" y2="528.0" stroke="#fff" stroke-width="0.8792644917916961" stroke-opacity="0.67"/>
<line x1="69.5" y1="507.5" x2="69.9" y2="523.8" stroke="#fff" stroke-width="0.9077160375643486" stroke-opacity="0.43"/>
<line x1="72.6" y1="508.4" x2="71.9" y2="525.7" stroke="#fff" stroke-width="0.9486459407307593" stroke-opacity="0.66"/>
<line x1="76.7" y1="512.9" x2="76.0" y2="529.7" stroke="#fff" stroke-width="0.7444982339504216" stroke-opacity="0.69"/>
<line x1="80.6" y1="510.3" x2="80.8" y2="529.5" stroke="#fff" stroke-width="1.0089639003491264" stroke-opacity="0.45"/>
<line x1="83.5" y1="510.6" x2="83.3" y2="523.1" stroke="#fff" stroke-width="1.0809068112034526" stroke-opacity="0.47"/>
<line x1="86.1" y1="507.4" x2="86.6" y2="523.4" stroke="#fff" stroke-width="0.7813621334626721" stroke-opacity="0.45"/>
<line x1="88.9" y1="514.9" x2="88.4" y2="525.4" stroke="#fff" stroke-width="0.6296697618894621" stroke-opacity="0.37"/>
<line x1="91.7" y1="512.4" x2="91.0" y2="523.2" stroke="#fff" stroke-width="0.8453338078508715" stroke-opacity="0.44"/>
<line x1="95.9" y1="508.0" x2="96.4" y2="526.2" stroke="#fff" stroke-width="0.8046606155172444" stroke-opacity="0.70"/>
<line x1="99.3" y1="508.9" x2="98.6" y2="525.3" stroke="#fff" stroke-width="0.8106104807686139" stroke-opacity="0.44"/>
<line x1="103.3" y1="513.6" x2="102.6" y2="526.0" stroke="#fff" stroke-width="0.7271968307099766" stroke-opacity="0.43"/>
<line x1="106.3" y1="508.9" x2="105.7" y2="529.0" stroke="#fff" stroke-width="0.6256368625574763" stroke-opacity="0.67"/>
<line x1="109.8" y1="514.9" x2="110.4" y2="525.2" stroke="#fff" stroke-width="0.9269867333430726" stroke-opacity="0.63"/>
<line x1="113.5" y1="511.0" x2="113.1" y2="522.7" stroke="#fff" stroke-width="1.0369031137686404" stroke-opacity="0.66"/>
<line x1="117.6" y1="509.7" x2="118.1" y2="527.3" stroke="#fff" stroke-width="0.9212469604426516" stroke-opacity="0.64"/>
<line x1="121.1" y1="512.2" x2="120.7" y2="527.5" stroke="#fff" stroke-width="1.0613999813503843" stroke-opacity="0.68"/>
<line x1="123.8" y1="514.8" x2="124.1" y2="529.7" stroke="#fff" stroke-width="0.6222719847962251" stroke-opacity="0.66"/>
<line x1="126.6" y1="514.7" x2="125.9" y2="527.3" stroke="#fff" stroke-width="0.6836328070158241" stroke-opacity="0.57"/>
<line x1="130.1" y1="513.0" x2="129.7" y2="529.4" stroke="#fff" stroke-width="0.6016365133642974" stroke-opacity="0.67"/>
<line x1="132.7" y1="514.0" x2="133.2" y2="522.9" stroke="#fff" stroke-width="0.9914848654757613" stroke-opacity="0.66"/>
<line x1="136.2" y1="514.0" x2="136.5" y2="523.6" stroke="#fff" stroke-width="0.7653215580375089" stroke-opacity="0.66"/>
</g>
<rect x="31.9" y="399.5" width="108.5" height="146.6" fill="none" stroke="#333" stroke-width="1"/>
<text x="137.8" y="539.4" font-size="8.4" text-anchor="end" fill="#222" stroke="#222" stroke-width="0.06">200 µm</text>
<path d="M113.30000000000001 541.1999999999999 V544.1999999999999 H136.8 V541.1999999999999 M119.20000000000002 544.1999999999999 V542.1999999999999 M125.10000000000001 544.1999999999999 V542.1999999999999 M131.0 544.1999999999999 V542.1999999999999" fill="none" stroke="#333" stroke-width="0.75"/>
<g clip-path="url(#cpSAN)">
<rect x="189.4" y="400.4" width="108.1" height="145.4" fill="#d3a6d6" filter="url(#tex3)"/>
<path d="M200 410 L199 440 L197 470 L194 500 L192 540" fill="none" stroke="#b582c0" stroke-width="1.6" stroke-opacity="0.35"/>
<path d="M201.3 410 L200.3 440 L198.3 470 L195.3 500 L193.3 540" fill="none" stroke="#f6eaf6" stroke-width="1.2" stroke-opacity="0.55"/>
<path d="M207 408 L206 440 L203 465" fill="none" stroke="#b582c0" stroke-width="1.6" stroke-opacity="0.35"/>
<path d="M208.3 408 L207.3 440 L204.3 465" fill="none" stroke="#f6eaf6" stroke-width="1.2" stroke-opacity="0.55"/>
<path d="M216 410 L215 440 L212 470 L208 500 L205 535" fill="none" stroke="#b582c0" stroke-width="1.6" stroke-opacity="0.35"/>
<path d="M217.3 410 L216.3 440 L213.3 470 L209.3 500 L206.3 535" fill="none" stroke="#f6eaf6" stroke-width="1.2" stroke-opacity="0.55"/>
<path d="M228 410 L226 440 L224 470 L228 500 L233 535" fill="none" stroke="#b582c0" stroke-width="1.6" stroke-opacity="0.35"/>
<path d="M229.3 410 L227.3 440 L225.3 470 L229.3 500 L234.3 535" fill="none" stroke="#f6eaf6" stroke-width="1.2" stroke-opacity="0.55"/>
<path d="M233 410 L234 450 L235 490" fill="none" stroke="#b582c0" stroke-width="1.6" stroke-opacity="0.35"/>
<path d="M234.3 410 L235.3 450 L236.3 490" fill="none" stroke="#f6eaf6" stroke-width="1.2" stroke-opacity="0.55"/>
<path d="M251 412 L252 450 L254 490 L256 530" fill="none" stroke="#b582c0" stroke-width="1.6" stroke-opacity="0.35"/>
<path d="M252.3 412 L253.3 450 L255.3 490 L257.3 530" fill="none" stroke="#f6eaf6" stroke-width="1.2" stroke-opacity="0.55"/>
<path d="M258 420 L259 460 L261 500 L262 540" fill="none" stroke="#b582c0" stroke-width="1.6" stroke-opacity="0.35"/>
<path d="M259.3 420 L260.3 460 L262.3 500 L263.3 540" fill="none" stroke="#f6eaf6" stroke-width="1.2" stroke-opacity="0.55"/>
<path d="M278 415 L278.5 460 L280 500 L281 540" fill="none" stroke="#b582c0" stroke-width="1.6" stroke-opacity="0.35"/>
<path d="M279.3 415 L279.8 460 L281.3 500 L282.3 540" fill="none" stroke="#f6eaf6" stroke-width="1.2" stroke-opacity="0.55"/>
<path d="M285 410 L286 450 L287 490 L288 530" fill="none" stroke="#b582c0" stroke-width="1.6" stroke-opacity="0.35"/>
<path d="M286.3 410 L287.3 450 L288.3 490 L289.3 530" fill="none" stroke="#f6eaf6" stroke-width="1.2" stroke-opacity="0.55"/>
<path d="M291 410 L292 450 L293.5 490 L294 530" fill="none" stroke="#b582c0" stroke-width="1.6" stroke-opacity="0.35"/>
<path d="M292.3 410 L293.3 450 L294.8 490 L295.3 530" fill="none" stroke="#f6eaf6" stroke-width="1.2" stroke-opacity="0.55"/>
<ellipse cx="216" cy="495" rx="13" ry="28" fill="#b888c4" fill-opacity="0.25"/>
<ellipse cx="256" cy="470" rx="8" ry="35" fill="#b888c4" fill-opacity="0.18"/>
<path d="M250.00 400.00 C254.17 398.67 273.42 398.67 278.00 400.00 C282.58 401.33 278.50 405.67 277.50 408.00 C276.50 410.33 274.08 413.17 272.00 414.00 C269.92 414.83 267.33 413.50 265.00 413.00 C262.67 412.50 260.00 411.83 258.00 411.00 C256.00 410.17 254.33 409.83 253.00 408.00 C251.67 406.17 245.83 401.33 250.00 400.00Z" fill="#fff"/>
<path d="M278.00 400.00 C280.67 399.42 293.83 399.33 297.00 400.00 C300.17 400.67 298.50 403.17 297.00 404.00 C295.50 404.83 290.67 405.08 288.00 405.00 C285.33 404.92 282.67 404.33 281.00 403.50 C279.33 402.67 275.33 400.58 278.00 400.00Z" fill="#fff" fill-opacity="0.85"/>
<ellipse cx="193.5" cy="404" rx="3" ry="4" fill="#fff" fill-opacity="0.9"/>
<ellipse cx="199.5" cy="402" rx="2.6" ry="2.8" fill="#fff" fill-opacity="0.9"/>
<ellipse cx="205" cy="406.5" rx="2.2" ry="3.5" fill="#fff" fill-opacity="0.9"/>
<ellipse cx="211" cy="403" rx="3" ry="3" fill="#fff" fill-opacity="0.9"/>
<ellipse cx="217" cy="405" rx="2" ry="3" fill="#fff" fill-opacity="0.9"/>
<ellipse cx="224" cy="402.5" rx="3" ry="2.8" fill="#fff" fill-opacity="0.9"/>
<ellipse cx="230" cy="404.5" rx="2.5" ry="3" fill="#fff" fill-opacity="0.9"/>
<ellipse cx="237" cy="402" rx="3" ry="2.5" fill="#fff" fill-opacity="0.9"/>
<ellipse cx="244" cy="403" rx="2.5" ry="2.5" fill="#fff" fill-opacity="0.9"/>
<path d="M240.8 410.0 L243.4 410.0 L242.4 440.0 L241.4 470.0 L240.0 495.0 L237.5 503.0 L236.0 500.0 L238.2 470.0 L239.6 440.0Z" fill="#fff"/>
<path d="M229.70 501.00 C231.20 500.33 231.95 503.83 232.00 506.00 C232.05 508.17 230.67 511.33 230.00 514.00 C229.33 516.67 228.92 519.33 228.00 522.00 C227.08 524.67 226.33 527.92 224.50 530.00 C222.67 532.08 219.17 534.00 217.00 534.50 C214.83 535.00 211.67 535.08 211.50 533.00 C211.33 530.92 214.08 525.83 216.00 522.00 C217.92 518.17 220.72 513.50 223.00 510.00 C225.28 506.50 228.20 501.67 229.70 501.00Z" fill="#fff"/>
<ellipse cx="230.4" cy="528.5" rx="2" ry="1.3" fill="#7a3d80" fill-opacity="0.8"/>
<path d="M265.00 439.70 C265.72 439.37 267.37 441.67 268.50 445.00 C269.63 448.33 270.92 453.38 271.80 459.70 C272.68 466.02 273.68 474.68 273.80 482.90 C273.92 491.12 273.30 502.15 272.50 509.00 C271.70 515.85 270.00 521.17 269.00 524.00 C268.00 526.83 266.63 528.50 266.50 526.00 C266.37 523.50 267.75 516.18 268.20 509.00 C268.65 501.82 269.40 491.12 269.20 482.90 C269.00 474.68 267.83 465.68 267.00 459.70 C266.17 453.72 264.53 450.33 264.20 447.00 C263.87 443.67 264.28 440.03 265.00 439.70Z" fill="#fff"/>
<path d="M213.80 449.50 C214.13 449.67 213.47 453.25 213.00 455.00 C212.53 456.75 212.17 457.67 211.00 460.00 C209.83 462.33 207.58 466.08 206.00 469.00 C204.42 471.92 202.53 476.17 201.50 477.50 C200.47 478.83 199.63 478.58 199.80 477.00 C199.97 475.42 201.30 470.92 202.50 468.00 C203.70 465.08 205.58 461.83 207.00 459.50 C208.42 457.17 209.87 455.67 211.00 454.00 C212.13 452.33 213.47 449.33 213.80 449.50Z" fill="#fff"/>
<line x1="201.0" y1="477.0" x2="195.0" y2="491.0" stroke="#fff" stroke-width="0.9" stroke-opacity="0.8"/>
<line x1="213.5" y1="441.0" x2="213.5" y2="450.0" stroke="#fff" stroke-width="0.7" stroke-opacity="0.6"/>
<path d="M294.50 510.70 C294.92 508.70 297.00 506.28 297.50 508.00 C298.00 509.72 297.92 519.00 297.50 521.00 C297.08 523.00 295.50 521.72 295.00 520.00 C294.50 518.28 294.08 512.70 294.50 510.70Z" fill="#fff"/>
</g>
<rect x="189.4" y="400.4" width="108.1" height="145.4" fill="none" stroke="#333" stroke-width="1"/>
<text x="295.2" y="539.4" font-size="8.4" text-anchor="end" fill="#222" stroke="#222" stroke-width="0.06">200 µm</text>
<path d="M270.7 541.1999999999999 V544.1999999999999 H294.2 V541.1999999999999 M276.59999999999997 544.1999999999999 V542.1999999999999 M282.5 544.1999999999999 V542.1999999999999 M288.4 544.1999999999999 V542.1999999999999" fill="none" stroke="#333" stroke-width="0.75"/>
<g clip-path="url(#cpDHSA)">
<rect x="350.2" y="400.6" width="107.3" height="145" fill="#e7c5e3" filter="url(#tex)"/>
<path d="M350.00 400.00 C352.08 385.67 361.28 396.50 362.50 400.00 C363.72 403.50 358.82 413.67 357.30 421.00 C355.78 428.33 354.05 436.33 353.40 444.00 C352.75 451.67 353.05 460.33 353.40 467.00 C353.75 473.67 356.07 480.83 355.50 484.00 C354.93 487.17 350.92 500.00 350.00 486.00 C349.08 472.00 347.92 414.33 350.00 400.00Z" fill="#fff"/>
<path d="M381.2 400.0 L388.0 400.0 L377.5 420.0 L372.8 437.0 L373.0 460.0 L376.0 490.5 L376.0 505.0 L372.2 504.4 L372.2 490.5 L368.8 459.7 L368.6 436.6 L376.3 413.4Z" fill="#fff"/>
<path d="M356.50 496.00 C357.67 495.33 359.80 506.83 362.50 508.00 C365.20 509.17 370.28 503.17 372.70 503.00 C375.12 502.83 377.12 504.50 377.00 507.00 C376.88 509.50 374.17 515.50 372.00 518.00 C369.83 520.50 366.08 519.83 364.00 522.00 C361.92 524.17 361.08 530.17 359.50 531.00 C357.92 531.83 355.17 530.17 354.50 527.00 C353.83 523.83 355.17 517.17 355.50 512.00 C355.83 506.83 355.33 496.67 356.50 496.00Z" fill="#fff"/>
<path d="M388.00 400.00 C398.45 397.67 445.50 398.00 457.00 400.00 C468.50 402.00 458.17 409.00 457.00 412.00 C455.83 415.00 453.07 416.83 450.00 418.00 C446.93 419.17 441.93 419.33 438.60 419.00 C435.27 418.67 433.60 416.17 430.00 416.00 C426.40 415.83 420.00 416.50 417.00 418.00 C414.00 419.50 414.17 424.75 412.00 425.00 C409.83 425.25 406.43 420.40 404.00 419.50 C401.57 418.60 399.02 420.52 397.40 419.60 C395.78 418.68 395.87 417.27 394.30 414.00 C392.73 410.73 377.55 402.33 388.00 400.00Z" fill="#fff"/>
<path d="M394.3 412.0 L397.4 419.6 L392.0 430.0 L388.4 444.3 L391.5 459.7 L398.0 475.1 L404.0 490.5 L408.5 513.7 L409.5 537.0 L406.6 536.8 L405.1 513.7 L400.4 490.5 L394.3 475.1 L387.3 459.7 L384.2 444.3 L386.6 428.8Z" fill="#fff"/>
<path d="M403.1 419.0 L417.0 418.0 L414.7 436.6 L417.0 456.6 L426.2 475.1 L435.5 493.6 L440.9 506.0 L444.7 521.4 L445.5 531.0 L441.6 536.8 L438.6 521.4 L433.2 506.0 L428.5 490.5 L420.0 472.0 L411.6 452.0 L407.7 441.2Z" fill="#fff"/>
<path d="M438.6 420.0 L440.6 420.0 L444.4 444.3 L448.3 475.1 L452.9 498.3 L454.4 516.8 L452.4 516.8 L450.9 498.3 L446.3 475.1 L442.4 444.3Z" fill="#fff"/>
<path d="M447.00 518.00 C447.92 516.25 455.75 514.50 457.50 516.00 C459.25 517.50 458.42 525.25 457.50 527.00 C456.58 528.75 453.75 528.00 452.00 526.50 C450.25 525.00 446.08 519.75 447.00 518.00Z" fill="#fff"/>
</g>
<rect x="350.2" y="400.6" width="107.3" height="145" fill="none" stroke="#333" stroke-width="1"/>
<text x="455.6" y="539.4" font-size="8.4" text-anchor="end" fill="#222" stroke="#222" stroke-width="0.06">200 µm</text>
<path d="M431.1 541.1999999999999 V544.1999999999999 H454.6 V541.1999999999999 M437.0 544.1999999999999 V542.1999999999999 M442.90000000000003 544.1999999999999 V542.1999999999999 M448.8 544.1999999999999 V542.1999999999999" fill="none" stroke="#333" stroke-width="0.75"/>
<path d="M67.40 300.70 C73.57 300.53 82.90 300.95 90.00 302.50 C97.10 304.05 103.67 307.08 110.00 310.00 C116.33 312.92 123.00 316.17 128.00 320.00 C133.00 323.83 137.43 328.95 140.00 333.00 C142.57 337.05 143.40 340.47 143.40 344.30 C143.40 348.13 142.57 352.05 140.00 356.00 C137.43 359.95 133.00 364.33 128.00 368.00 C123.00 371.67 115.50 375.42 110.00 378.00 C104.50 380.58 99.57 382.47 95.00 383.50 C90.43 384.53 87.60 384.62 82.60 384.20 C77.60 383.78 70.93 382.87 65.00 381.00 C59.07 379.13 52.33 376.17 47.00 373.00 C41.67 369.83 36.50 366.17 33.00 362.00 C29.50 357.83 27.28 352.52 26.00 348.00 C24.72 343.48 24.80 339.23 25.30 334.90 C25.80 330.57 26.55 326.15 29.00 322.00 C31.45 317.85 36.00 313.08 40.00 310.00 C44.00 306.92 48.43 305.05 53.00 303.50 C57.57 301.95 61.23 300.87 67.40 300.70Z" fill="#f1dcee"/>
<path d="M68.59 303.63 C74.33 303.47 83.01 303.86 89.61 305.30 C96.21 306.74 102.32 309.56 108.21 312.27 C114.10 314.99 120.30 318.01 124.95 321.57 C129.60 325.14 133.72 329.90 136.11 333.67 C138.50 337.43 139.27 340.61 139.27 344.17 C139.27 347.74 138.50 351.38 136.11 355.06 C133.72 358.73 129.60 362.80 124.95 366.21 C120.30 369.62 113.32 373.11 108.21 375.51 C103.09 377.92 98.50 379.67 94.26 380.63 C90.01 381.59 87.38 381.67 82.73 381.28 C78.08 380.89 71.88 380.04 66.36 378.31 C60.84 376.57 54.58 373.81 49.62 370.87 C44.66 367.92 39.85 364.51 36.60 360.63 C33.34 356.76 31.28 351.82 30.09 347.62 C28.89 343.41 28.97 339.46 29.44 335.43 C29.90 331.40 30.60 327.29 32.88 323.44 C35.16 319.58 39.39 315.14 43.11 312.27 C46.83 309.41 50.95 307.67 55.20 306.23 C59.45 304.79 62.86 303.78 68.59 303.63Z" fill="#efd7ec"/>
<path d="M70.29 307.81 C75.41 307.67 83.16 308.01 89.05 309.30 C94.94 310.59 100.39 313.10 105.65 315.52 C110.90 317.95 116.44 320.64 120.59 323.82 C124.74 327.01 128.42 331.25 130.55 334.62 C132.68 337.98 133.37 340.81 133.37 343.99 C133.37 347.18 132.68 350.43 130.55 353.70 C128.42 356.98 124.74 360.62 120.59 363.67 C116.44 366.71 110.21 369.82 105.65 371.96 C101.08 374.11 96.99 375.67 93.20 376.53 C89.41 377.39 87.06 377.46 82.91 377.11 C78.76 376.77 73.22 376.00 68.30 374.45 C63.37 372.91 57.78 370.44 53.36 367.81 C48.93 365.19 44.64 362.14 41.74 358.69 C38.83 355.23 36.99 350.81 35.93 347.06 C34.86 343.32 34.93 339.79 35.35 336.19 C35.76 332.60 36.38 328.93 38.42 325.49 C40.45 322.04 44.23 318.08 47.55 315.52 C50.87 312.97 54.55 311.42 58.34 310.13 C62.13 308.84 65.17 307.94 70.29 307.81Z" fill="#e8c9e5"/>
<path d="M111.9 355.6 L131.1 359.3" stroke="#fff" stroke-width="1.7317895256213565" stroke-linecap="round" stroke-opacity="0.95"/>
<path d="M111.9 355.6 L129.8 361.5" stroke="#fff" stroke-width="1.4286463459649072" stroke-linecap="round" stroke-opacity="0.95"/>
<path d="M111.9 355.6 L128.8 363.2" stroke="#fff" stroke-width="1.4668944481951218" stroke-linecap="round" stroke-opacity="0.95"/>
<path d="M111.9 355.6 L124.8 364.5" stroke="#fff" stroke-width="1.1730611363620729" stroke-linecap="round" stroke-opacity="0.95"/>
<path d="M111.9 355.6 L126.6 367.6" stroke="#fff" stroke-width="1.5240946342871151" stroke-linecap="round" stroke-opacity="0.95"/>
<path d="M111.9 355.6 L124.9 369.9" stroke="#fff" stroke-width="1.76828200301301" stroke-linecap="round" stroke-opacity="0.95"/>
<path d="M111.9 355.6 L120.2 370.5" stroke="#fff" stroke-width="1.0417446856261463" stroke-linecap="round" stroke-opacity="0.95"/>
<path d="M111.9 355.6 L118.3 370.8" stroke="#fff" stroke-width="0.9535959946519695" stroke-linecap="round" stroke-opacity="0.95"/>
<path d="M111.9 355.6 L114.7 370.5" stroke="#fff" stroke-width="0.9270743303023097" stroke-linecap="round" stroke-opacity="0.95"/>
<path d="M111.9 355.6 L111.2 372.2" stroke="#fff" stroke-width="1.6581844156666787" stroke-linecap="round" stroke-opacity="0.95"/>
<path d="M111.9 355.6 L107.5 373.7" stroke="#fff" stroke-width="1.3497958369861125" stroke-linecap="round" stroke-opacity="0.95"/>
<path d="M109.6 354.9 L103.6 372.8" stroke="#fff" stroke-width="1.1503466096974972" stroke-linecap="round" stroke-opacity="0.95"/>
<path d="M104.9 353.3 L97.5 375.5" stroke="#fff" stroke-width="1.6561939945435755" stroke-linecap="round" stroke-opacity="0.95"/>
<path d="M101.6 352.2 L95.2 371.3" stroke="#fff" stroke-width="1.106699311447115" stroke-linecap="round" stroke-opacity="0.95"/>
<path d="M98.5 351.2 L92.4 369.3" stroke="#fff" stroke-width="1.5896590977693663" stroke-linecap="round" stroke-opacity="0.95"/>
<path d="M93.9 349.6 L86.1 373.1" stroke="#fff" stroke-width="1.2478621785353412" stroke-linecap="round" stroke-opacity="0.95"/>
<path d="M88.1 347.7 L80.1 371.6" stroke="#fff" stroke-width="0.9004904433500134" stroke-linecap="round" stroke-opacity="0.95"/>
<path d="M85.7 346.9 L77.6 371.2" stroke="#fff" stroke-width="1.3229885484122998" stroke-linecap="round" stroke-opacity="0.95"/>
<path d="M79.2 344.7 L72.2 365.8" stroke="#fff" stroke-width="0.9657345094503281" stroke-linecap="round" stroke-opacity="0.95"/>
<path d="M75.7 343.6 L68.0 366.7" stroke="#fff" stroke-width="1.1427980281651284" stroke-linecap="round" stroke-opacity="0.95"/>
<path d="M72.8 342.6 L66.1 362.7" stroke="#fff" stroke-width="1.7676685949343875" stroke-linecap="round" stroke-opacity="0.95"/>
<path d="M66.8 340.6 L60.8 358.6" stroke="#fff" stroke-width="1.121749154003817" stroke-linecap="round" stroke-opacity="0.95"/>
<path d="M64.3 339.8 L58.6 357.0" stroke="#fff" stroke-width="1.6173193606595766" stroke-linecap="round" stroke-opacity="0.95"/>
<path d="M60.1 338.4 L53.8 357.3" stroke="#fff" stroke-width="1.3026823897509194" stroke-linecap="round" stroke-opacity="0.95"/>
<path d="M56.3 337.1 L50.1 355.7" stroke="#fff" stroke-width="1.0178703753449578" stroke-linecap="round" stroke-opacity="0.95"/>
<path d="M51.7 335.6 L47.1 349.6" stroke="#fff" stroke-width="1.2786800555217788" stroke-linecap="round" stroke-opacity="0.95"/>
<path d="M49.3 334.8 L44.7 348.4" stroke="#fff" stroke-width="1.7738361505968223" stroke-linecap="round" stroke-opacity="0.95"/>
<path d="M48.1 334.4 L41.8 345.2" stroke="#fff" stroke-width="1.6963786014740738" stroke-linecap="round" stroke-opacity="0.95"/>
<path d="M48.1 334.4 L40.5 343.9" stroke="#fff" stroke-width="1.6689392115311075" stroke-linecap="round" stroke-opacity="0.95"/>
<path d="M48.1 334.4 L39.5 340.2" stroke="#fff" stroke-width="1.7903715277591552" stroke-linecap="round" stroke-opacity="0.95"/>
<path d="M48.1 334.4 L38.3 338.7" stroke="#fff" stroke-width="1.5954207207955409" stroke-linecap="round" stroke-opacity="0.95"/>
<path d="M48.1 334.4 L37.4 336.1" stroke="#fff" stroke-width="0.9660586980495818" stroke-linecap="round" stroke-opacity="0.95"/>
<path d="M48.1 334.4 L36.0 334.0" stroke="#fff" stroke-width="1.118711628123806" stroke-linecap="round" stroke-opacity="0.95"/>
<path d="M48.1 334.4 L36.5 330.9" stroke="#fff" stroke-width="1.307887294251464" stroke-linecap="round" stroke-opacity="0.95"/>
<path d="M48.1 334.4 L36.5 328.0" stroke="#fff" stroke-width="1.4171141208869527" stroke-linecap="round" stroke-opacity="0.95"/>
<path d="M48.1 334.4 L38.1 326.6" stroke="#fff" stroke-width="1.0387217870334546" stroke-linecap="round" stroke-opacity="0.95"/>
<path d="M48.1 334.4 L37.3 322.7" stroke="#fff" stroke-width="1.1245487097863247" stroke-linecap="round" stroke-opacity="0.95"/>
<path d="M48.1 334.4 L38.3 321.7" stroke="#fff" stroke-width="1.7463644064853943" stroke-linecap="round" stroke-opacity="0.95"/>
<path d="M48.1 334.4 L39.6 318.8" stroke="#fff" stroke-width="1.6939707788397713" stroke-linecap="round" stroke-opacity="0.95"/>
<path d="M48.1 334.4 L43.0 318.8" stroke="#fff" stroke-width="0.9934557132284533" stroke-linecap="round" stroke-opacity="0.95"/>
<path d="M48.1 334.4 L43.9 315.2" stroke="#fff" stroke-width="1.1145664734083844" stroke-linecap="round" stroke-opacity="0.95"/>
<path d="M48.1 334.4 L47.9 316.9" stroke="#fff" stroke-width="1.6413460620816176" stroke-linecap="round" stroke-opacity="0.95"/>
<path d="M48.1 334.4 L50.3 315.8" stroke="#fff" stroke-width="1.0578900570892733" stroke-linecap="round" stroke-opacity="0.95"/>
<path d="M48.1 334.4 L53.0 316.2" stroke="#fff" stroke-width="1.1055567035926126" stroke-linecap="round" stroke-opacity="0.95"/>
<path d="M49.6 334.9 L57.6 311.0" stroke="#fff" stroke-width="1.4528727141523814" stroke-linecap="round" stroke-opacity="0.95"/>
<path d="M52.4 335.8 L61.0 310.2" stroke="#fff" stroke-width="1.083580991432716" stroke-linecap="round" stroke-opacity="0.95"/>
<path d="M55.4 336.8 L62.9 314.4" stroke="#fff" stroke-width="1.3011349679839435" stroke-linecap="round" stroke-opacity="0.95"/>
<path d="M59.3 338.1 L66.9 315.3" stroke="#fff" stroke-width="1.2319068333350365" stroke-linecap="round" stroke-opacity="0.95"/>
<path d="M64.5 339.8 L72.4 316.2" stroke="#fff" stroke-width="1.2259306410295328" stroke-linecap="round" stroke-opacity="0.95"/>
<path d="M69.5 341.5 L79.8 310.6" stroke="#fff" stroke-width="1.4912388418586149" stroke-linecap="round" stroke-opacity="0.95"/>
<path d="M73.2 342.7 L82.7 314.5" stroke="#fff" stroke-width="1.026312468431056" stroke-linecap="round" stroke-opacity="0.95"/>
<path d="M75.9 343.6 L83.9 319.6" stroke="#fff" stroke-width="1.7191912071535351" stroke-linecap="round" stroke-opacity="0.95"/>
<path d="M82.1 345.7 L92.6 313.9" stroke="#fff" stroke-width="0.9191332603881913" stroke-linecap="round" stroke-opacity="0.95"/>
<path d="M86.3 347.1 L95.6 319.3" stroke="#fff" stroke-width="1.557448182850754" stroke-linecap="round" stroke-opacity="0.95"/>
<path d="M89.9 348.3 L100.4 316.6" stroke="#fff" stroke-width="0.9677366100831455" stroke-linecap="round" stroke-opacity="0.95"/>
<path d="M94.8 349.9 L104.5 320.9" stroke="#fff" stroke-width="1.710176293124441" stroke-linecap="round" stroke-opacity="0.95"/>
<path d="M99.6 351.5 L108.9 323.5" stroke="#fff" stroke-width="1.6139400084841355" stroke-linecap="round" stroke-opacity="0.95"/>
<path d="M104.1 353.0 L112.2 328.6" stroke="#fff" stroke-width="1.5166313598003283" stroke-linecap="round" stroke-opacity="0.95"/>
<path d="M108.0 354.3 L117.0 327.3" stroke="#fff" stroke-width="1.2754378277794673" stroke-linecap="round" stroke-opacity="0.95"/>
<path d="M111.5 355.5 L120.0 329.8" stroke="#fff" stroke-width="1.4155267485460585" stroke-linecap="round" stroke-opacity="0.95"/>
<path d="M111.9 355.6 L121.3 335.2" stroke="#fff" stroke-width="1.4244110026300136" stroke-linecap="round" stroke-opacity="0.95"/>
<path d="M111.9 355.6 L122.5 339.2" stroke="#fff" stroke-width="1.4754638813735717" stroke-linecap="round" stroke-opacity="0.95"/>
<path d="M111.9 355.6 L128.0 338.4" stroke="#fff" stroke-width="1.555386368908993" stroke-linecap="round" stroke-opacity="0.95"/>
<path d="M111.9 355.6 L128.6 340.8" stroke="#fff" stroke-width="1.4228575908540204" stroke-linecap="round" stroke-opacity="0.95"/>
<path d="M111.9 355.6 L130.8 343.3" stroke="#fff" stroke-width="0.9754040000351326" stroke-linecap="round" stroke-opacity="0.95"/>
<path d="M111.9 355.6 L127.9 348.6" stroke="#fff" stroke-width="1.4411567380946801" stroke-linecap="round" stroke-opacity="0.95"/>
<path d="M111.9 355.6 L129.6 350.1" stroke="#fff" stroke-width="1.5285012118637296" stroke-linecap="round" stroke-opacity="0.95"/>
<path d="M111.9 355.6 L132.2 352.1" stroke="#fff" stroke-width="1.7284178460960655" stroke-linecap="round" stroke-opacity="0.95"/>
<path d="M111.9 355.6 L128.9 354.5" stroke="#fff" stroke-width="1.170929376996296" stroke-linecap="round" stroke-opacity="0.95"/>
<path d="M111.9 355.6 L129.6 357.2" stroke="#fff" stroke-width="1.0526464378714127" stroke-linecap="round" stroke-opacity="0.95"/>
<path d="M33.50 329.00 C33.33 327.92 40.92 329.58 45.00 330.00 C49.08 330.42 53.83 330.67 58.00 331.50 C62.17 332.33 65.67 333.83 70.00 335.00 C74.33 336.17 79.33 337.00 84.00 338.50 C88.67 340.00 93.33 342.08 98.00 344.00 C102.67 345.92 107.58 347.17 112.00 350.00 C116.42 352.83 124.50 359.67 124.50 361.00 C124.50 362.33 116.42 359.17 112.00 358.00 C107.58 356.83 102.67 355.25 98.00 354.00 C93.33 352.75 88.67 351.83 84.00 350.50 C79.33 349.17 74.33 347.50 70.00 346.00 C65.67 344.50 62.00 343.08 58.00 341.50 C54.00 339.92 50.08 338.58 46.00 336.50 C41.92 334.42 33.67 330.08 33.50 329.00Z" fill="#fff"/>
<path d="M198.70 355.40 C198.97 349.57 201.42 343.43 205.00 337.00 C208.58 330.57 214.87 322.13 220.20 316.80 C225.53 311.47 231.40 308.02 237.00 305.00 C242.60 301.98 249.05 299.87 253.80 298.70 C258.55 297.53 260.20 297.22 265.50 298.00 C270.80 298.78 280.02 300.82 285.60 303.40 C291.18 305.98 295.77 309.30 299.00 313.50 C302.23 317.70 304.43 323.57 305.00 328.60 C305.57 333.63 304.50 339.23 302.40 343.70 C300.30 348.17 296.87 351.77 292.40 355.40 C287.93 359.03 281.20 362.32 275.60 365.50 C270.00 368.68 265.23 371.92 258.80 374.50 C252.37 377.08 244.00 379.83 237.00 381.00 C230.00 382.17 222.40 383.00 216.80 381.50 C211.20 380.00 206.42 376.35 203.40 372.00 C200.38 367.65 198.43 361.23 198.70 355.40Z" fill="#f1dcee"/>
<path d="M201.90 354.48 C202.15 348.99 204.45 343.23 207.82 337.18 C211.19 331.13 217.09 323.21 222.11 318.19 C227.12 313.18 232.64 309.94 237.90 307.10 C243.16 304.26 249.23 302.27 253.69 301.18 C258.16 300.08 259.71 299.78 264.69 300.52 C269.67 301.26 278.34 303.17 283.58 305.60 C288.83 308.02 293.14 311.14 296.18 315.09 C299.22 319.04 301.29 324.55 301.82 329.28 C302.35 334.02 301.35 339.28 299.38 343.48 C297.40 347.68 294.17 351.06 289.98 354.48 C285.78 357.89 279.45 360.98 274.18 363.97 C268.92 366.96 264.44 370.00 258.39 372.43 C252.34 374.86 244.48 377.44 237.90 378.54 C231.32 379.64 224.18 380.42 218.91 379.01 C213.65 377.60 209.15 374.17 206.32 370.08 C203.48 365.99 201.65 359.96 201.90 354.48Z" fill="#efd7ec"/>
<path d="M206.69 353.09 C206.92 348.13 209.00 342.92 212.05 337.45 C215.10 331.98 220.44 324.81 224.97 320.28 C229.50 315.75 234.49 312.81 239.25 310.25 C244.01 307.69 249.49 305.89 253.53 304.89 C257.57 303.90 258.97 303.63 263.48 304.30 C267.98 304.97 275.81 306.69 280.56 308.89 C285.31 311.09 289.20 313.91 291.95 317.48 C294.70 321.05 296.57 326.03 297.05 330.31 C297.53 334.59 296.62 339.35 294.84 343.14 C293.05 346.94 290.14 350.00 286.34 353.09 C282.54 356.18 276.82 358.97 272.06 361.68 C267.30 364.38 263.25 367.13 257.78 369.32 C252.31 371.52 245.20 373.86 239.25 374.85 C233.30 375.84 226.84 376.55 222.08 375.27 C217.32 374.00 213.25 370.90 210.69 367.20 C208.13 363.50 206.47 358.05 206.69 353.09Z" fill="#e5c3e2"/>
<path d="M269.5 328.7 L282.7 353.0" stroke="#fff" stroke-width="0.9471717154870832" stroke-linecap="round" stroke-opacity="0.95"/>
<path d="M265.5 330.9 L276.5 351.2" stroke="#fff" stroke-width="0.954092683319173" stroke-linecap="round" stroke-opacity="0.95"/>
<path d="M261.8 332.9 L274.7 356.6" stroke="#fff" stroke-width="1.176956190923855" stroke-linecap="round" stroke-opacity="0.95"/>
<path d="M258.8 334.5 L272.2 359.1" stroke="#fff" stroke-width="1.1461232519673872" stroke-linecap="round" stroke-opacity="0.95"/>
<path d="M256.5 335.8 L271.0 362.6" stroke="#fff" stroke-width="1.670712994580565" stroke-linecap="round" stroke-opacity="0.95"/>
<path d="M250.8 338.8 L265.0 364.9" stroke="#fff" stroke-width="1.1207106720431077" stroke-linecap="round" stroke-opacity="0.95"/>
<path d="M248.6 340.1 L262.7 366.2" stroke="#fff" stroke-width="1.406395539484265" stroke-linecap="round" stroke-opacity="0.95"/>
<path d="M245.5 341.7 L257.4 363.6" stroke="#fff" stroke-width="1.126990141973938" stroke-linecap="round" stroke-opacity="0.95"/>
<path d="M241.1 344.1 L255.2 370.0" stroke="#fff" stroke-width="1.2500109110881956" stroke-linecap="round" stroke-opacity="0.95"/>
<path d="M238.7 345.4 L252.4 370.8" stroke="#fff" stroke-width="1.1871389383781201" stroke-linecap="round" stroke-opacity="0.95"/>
<path d="M234.3 347.8 L244.8 367.2" stroke="#fff" stroke-width="1.1845187488133841" stroke-linecap="round" stroke-opacity="0.95"/>
<path d="M231.3 349.4 L243.4 371.7" stroke="#fff" stroke-width="0.8923518611339192" stroke-linecap="round" stroke-opacity="0.95"/>
<path d="M228.0 351.2 L237.1 368.0" stroke="#fff" stroke-width="1.426305985796513" stroke-linecap="round" stroke-opacity="0.95"/>
<path d="M226.0 352.3 L234.9 368.8" stroke="#fff" stroke-width="1.1097606386382954" stroke-linecap="round" stroke-opacity="0.95"/>
<path d="M222.3 354.3 L229.5 367.6" stroke="#fff" stroke-width="1.2133358346780763" stroke-linecap="round" stroke-opacity="0.95"/>
<path d="M220.5 355.3 L227.7 368.7" stroke="#fff" stroke-width="1.2286361897532119" stroke-linecap="round" stroke-opacity="0.95"/>
<path d="M218.4 356.4 L223.9 368.7" stroke="#fff" stroke-width="1.6603026895945934" stroke-linecap="round" stroke-opacity="0.95"/>
<path d="M218.4 356.4 L223.1 370.0" stroke="#fff" stroke-width="1.1277734999635158" stroke-linecap="round" stroke-opacity="0.95"/>
<path d="M218.4 356.4 L220.1 368.0" stroke="#fff" stroke-width="1.62083770294653" stroke-linecap="round" stroke-opacity="0.95"/>
<path d="M218.4 356.4 L217.9 365.1" stroke="#fff" stroke-width="1.4936054834815562" stroke-linecap="round" stroke-opacity="0.95"/>
<path d="M218.4 356.4 L215.7 363.3" stroke="#fff" stroke-width="0.8077668693010953" stroke-linecap="round" stroke-opacity="0.95"/>
<path d="M218.4 356.4 L213.7 362.8" stroke="#fff" stroke-width="1.6854335622851322" stroke-linecap="round" stroke-opacity="0.95"/>
<path d="M218.4 356.4 L211.5 359.6" stroke="#fff" stroke-width="0.8215186114218561" stroke-linecap="round" stroke-opacity="0.95"/>
<path d="M218.4 356.4 L210.0 358.5" stroke="#fff" stroke-width="1.548758852120462" stroke-linecap="round" stroke-opacity="0.95"/>
<path d="M218.4 356.4 L210.5 355.8" stroke="#fff" stroke-width="1.2745133686958372" stroke-linecap="round" stroke-opacity="0.95"/>
<path d="M218.4 356.4 L208.7 353.6" stroke="#fff" stroke-width="1.036410269260987" stroke-linecap="round" stroke-opacity="0.95"/>
<path d="M218.4 356.4 L207.4 349.8" stroke="#fff" stroke-width="0.94593288007317" stroke-linecap="round" stroke-opacity="0.95"/>
<path d="M218.4 356.4 L207.5 348.2" stroke="#fff" stroke-width="1.0504745371416289" stroke-linecap="round" stroke-opacity="0.95"/>
<path d="M218.4 356.4 L209.1 345.7" stroke="#fff" stroke-width="1.426374255870198" stroke-linecap="round" stroke-opacity="0.95"/>
<path d="M218.4 356.4 L210.6 344.9" stroke="#fff" stroke-width="1.0565185678667013" stroke-linecap="round" stroke-opacity="0.95"/>
<path d="M218.4 356.4 L209.8 340.8" stroke="#fff" stroke-width="1.4246942514518914" stroke-linecap="round" stroke-opacity="0.95"/>
<path d="M220.4 355.4 L210.5 337.0" stroke="#fff" stroke-width="1.178290566239808" stroke-linecap="round" stroke-opacity="0.95"/>
<path d="M223.1 353.9 L213.7 336.8" stroke="#fff" stroke-width="1.681529792792419" stroke-linecap="round" stroke-opacity="0.95"/>
<path d="M226.3 352.1 L215.6 332.4" stroke="#fff" stroke-width="1.6279406975416228" stroke-linecap="round" stroke-opacity="0.95"/>
<path d="M230.0 350.1 L218.1 328.2" stroke="#fff" stroke-width="1.1758902258281256" stroke-linecap="round" stroke-opacity="0.95"/>
<path d="M232.5 348.8 L219.6 325.2" stroke="#fff" stroke-width="1.5103095328740221" stroke-linecap="round" stroke-opacity="0.95"/>
<path d="M235.7 347.0 L224.8 326.8" stroke="#fff" stroke-width="1.131623096572288" stroke-linecap="round" stroke-opacity="0.95"/>
<path d="M239.4 345.0 L227.3 322.7" stroke="#fff" stroke-width="0.8154008129233591" stroke-linecap="round" stroke-opacity="0.95"/>
<path d="M242.9 343.1 L229.2 317.9" stroke="#fff" stroke-width="1.5179581525485044" stroke-linecap="round" stroke-opacity="0.95"/>
<path d="M246.8 341.0 L233.1 315.7" stroke="#fff" stroke-width="1.2814404329668887" stroke-linecap="round" stroke-opacity="0.95"/>
<path d="M250.2 339.2 L238.8 318.1" stroke="#fff" stroke-width="0.8884644213263344" stroke-linecap="round" stroke-opacity="0.95"/>
<path d="M252.9 337.7 L241.8 317.4" stroke="#fff" stroke-width="1.6406210810965107" stroke-linecap="round" stroke-opacity="0.95"/>
<path d="M257.2 335.4 L245.5 313.9" stroke="#fff" stroke-width="1.3598975840957532" stroke-linecap="round" stroke-opacity="0.95"/>
<path d="M259.5 334.1 L248.1 313.1" stroke="#fff" stroke-width="1.430557048404287" stroke-linecap="round" stroke-opacity="0.95"/>
<path d="M263.5 331.9 L253.8 313.9" stroke="#fff" stroke-width="1.1661940799667168" stroke-linecap="round" stroke-opacity="0.95"/>
<path d="M266.8 330.2 L255.9 310.1" stroke="#fff" stroke-width="0.9276277707359086" stroke-linecap="round" stroke-opacity="0.95"/>
<path d="M269.6 328.7 L260.5 312.0" stroke="#fff" stroke-width="1.4261942778657501" stroke-linecap="round" stroke-opacity="0.95"/>
<path d="M271.6 327.6 L264.5 309.5" stroke="#fff" stroke-width="1.6412359684141034" stroke-linecap="round" stroke-opacity="0.95"/>
<path d="M271.6 327.6 L268.0 313.4" stroke="#fff" stroke-width="1.2390405316702466" stroke-linecap="round" stroke-opacity="0.95"/>
<path d="M271.6 327.6 L270.7 312.9" stroke="#fff" stroke-width="1.4006569417922814" stroke-linecap="round" stroke-opacity="0.95"/>
<path d="M271.6 327.6 L273.3 313.0" stroke="#fff" stroke-width="1.0947044505714483" stroke-linecap="round" stroke-opacity="0.95"/>
<path d="M271.6 327.6 L276.3 315.2" stroke="#fff" stroke-width="1.1242798703151649" stroke-linecap="round" stroke-opacity="0.95"/>
<path d="M271.6 327.6 L278.1 314.8" stroke="#fff" stroke-width="1.1892090489450726" stroke-linecap="round" stroke-opacity="0.95"/>
<path d="M271.6 327.6 L282.8 312.5" stroke="#fff" stroke-width="1.2509311013848898" stroke-linecap="round" stroke-opacity="0.95"/>
<path d="M271.6 327.6 L282.7 317.6" stroke="#fff" stroke-width="1.2181671302763246" stroke-linecap="round" stroke-opacity="0.95"/>
<path d="M208.00 362.00 C208.00 360.67 217.67 355.83 222.00 353.00 C226.33 350.17 231.00 347.83 234.00 345.00 C237.00 342.17 237.33 338.67 240.00 336.00 C242.67 333.33 246.33 331.00 250.00 329.00 C253.67 327.00 258.33 325.83 262.00 324.00 C265.67 322.17 268.50 319.33 272.00 318.00 C275.50 316.67 281.00 315.00 283.00 316.00 C285.00 317.00 284.67 321.17 284.00 324.00 C283.33 326.83 281.00 330.67 279.00 333.00 C277.00 335.33 274.50 336.17 272.00 338.00 C269.50 339.83 266.67 342.00 264.00 344.00 C261.33 346.00 259.00 348.67 256.00 350.00 C253.00 351.33 249.33 351.00 246.00 352.00 C242.67 353.00 240.00 354.50 236.00 356.00 C232.00 357.50 226.67 360.00 222.00 361.00 C217.33 362.00 208.00 363.33 208.00 362.00Z" fill="#fff"/>
<path d="M394.00 301.70 C401.55 301.43 414.40 303.72 422.50 306.80 C430.60 309.88 437.15 313.77 442.60 320.20 C448.05 326.63 453.52 337.85 455.20 345.40 C456.88 352.95 455.07 359.63 452.70 365.50 C450.33 371.37 445.75 377.10 441.00 380.60 C436.25 384.10 430.63 385.93 424.20 386.50 C417.77 387.07 409.68 386.10 402.40 384.00 C395.12 381.90 386.67 377.82 380.50 373.90 C374.33 369.98 369.03 366.10 365.40 360.50 C361.77 354.90 358.70 347.02 358.70 340.30 C358.70 333.58 362.32 325.52 365.40 320.20 C368.48 314.88 372.43 311.48 377.20 308.40 C381.97 305.32 386.45 301.97 394.00 301.70Z" fill="#f1dcee"/>
<path d="M395.30 305.88 C402.10 305.64 413.66 307.70 420.95 310.47 C428.24 313.25 434.13 316.74 439.04 322.53 C443.95 328.32 448.87 338.41 450.38 345.21 C451.89 352.00 450.26 358.02 448.13 363.30 C446.00 368.58 441.88 373.74 437.60 376.89 C433.33 380.04 428.27 381.69 422.48 382.20 C416.69 382.71 409.41 381.84 402.86 379.95 C396.30 378.06 388.70 374.38 383.15 370.86 C377.60 367.33 372.83 363.84 369.56 358.80 C366.29 353.76 363.53 346.67 363.53 340.62 C363.53 334.57 366.78 327.31 369.56 322.53 C372.34 317.74 375.89 314.68 380.18 311.91 C384.47 309.13 388.50 306.12 395.30 305.88Z" fill="#efd7ec"/>
<path d="M396.60 310.06 C402.64 309.85 412.92 311.67 419.40 314.14 C425.88 316.61 431.12 319.71 435.48 324.86 C439.84 330.01 444.21 338.98 445.56 345.02 C446.91 351.06 445.45 356.41 443.56 361.10 C441.67 365.79 438.00 370.38 434.20 373.18 C430.40 375.98 425.91 377.45 420.76 377.90 C415.61 378.35 409.15 377.58 403.32 375.90 C397.49 374.22 390.73 370.95 385.80 367.82 C380.87 364.69 376.63 361.58 373.72 357.10 C370.81 352.62 368.36 346.31 368.36 340.94 C368.36 335.57 371.25 329.11 373.72 324.86 C376.19 320.61 379.35 317.89 383.16 315.42 C386.97 312.95 390.56 310.27 396.60 310.06Z" fill="#eacde7"/>
<path d="M423.3 349.3 L437.8 361.5" stroke="#fff" stroke-width="1.1472655344128886" stroke-linecap="round" stroke-opacity="0.95"/>
<path d="M423.3 349.3 L433.6 361.0" stroke="#fff" stroke-width="0.7844468871723744" stroke-linecap="round" stroke-opacity="0.95"/>
<path d="M423.3 349.3 L433.1 362.0" stroke="#fff" stroke-width="1.1872188817702183" stroke-linecap="round" stroke-opacity="0.95"/>
<path d="M423.3 349.3 L433.0 365.2" stroke="#fff" stroke-width="0.7711260243933925" stroke-linecap="round" stroke-opacity="0.95"/>
<path d="M423.3 349.3 L430.8 365.9" stroke="#fff" stroke-width="1.2701252084026384" stroke-linecap="round" stroke-opacity="0.95"/>
<path d="M423.3 349.3 L427.7 363.8" stroke="#fff" stroke-width="0.8206694831513253" stroke-linecap="round" stroke-opacity="0.95"/>
<path d="M423.3 349.3 L428.0 371.1" stroke="#fff" stroke-width="1.2477916889688485" stroke-linecap="round" stroke-opacity="0.95"/>
<path d="M423.3 349.3 L424.4 371.7" stroke="#fff" stroke-width="1.195800122241766" stroke-linecap="round" stroke-opacity="0.95"/>
<path d="M423.3 349.3 L421.5 371.9" stroke="#fff" stroke-width="0.8053663811429568" stroke-linecap="round" stroke-opacity="0.95"/>
<path d="M423.3 349.3 L419.5 369.5" stroke="#fff" stroke-width="1.2040030810219209" stroke-linecap="round" stroke-opacity="0.95"/>
<path d="M422.3 349.1 L417.3 368.9" stroke="#fff" stroke-width="0.8913621001757942" stroke-linecap="round" stroke-opacity="0.95"/>
<path d="M419.6 348.4 L414.8 367.6" stroke="#fff" stroke-width="0.6938880404590322" stroke-linecap="round" stroke-opacity="0.95"/>
<path d="M415.8 347.4 L409.8 371.3" stroke="#fff" stroke-width="1.388544948475896" stroke-linecap="round" stroke-opacity="0.95"/>
<path d="M412.9 346.7 L407.4 368.4" stroke="#fff" stroke-width="1.1987291931340365" stroke-linecap="round" stroke-opacity="0.95"/>
<path d="M410.7 346.2 L405.1 368.9" stroke="#fff" stroke-width="0.9547199638842101" stroke-linecap="round" stroke-opacity="0.95"/>
<path d="M407.4 345.4 L402.9 363.6" stroke="#fff" stroke-width="1.0181546411290672" stroke-linecap="round" stroke-opacity="0.95"/>
<path d="M404.0 344.5 L399.0 364.5" stroke="#fff" stroke-width="1.084399022341589" stroke-linecap="round" stroke-opacity="0.95"/>
<path d="M400.6 343.6 L396.4 360.3" stroke="#fff" stroke-width="0.9926857087017683" stroke-linecap="round" stroke-opacity="0.95"/>
<path d="M397.7 342.9 L393.5 359.8" stroke="#fff" stroke-width="0.7555751603933953" stroke-linecap="round" stroke-opacity="0.95"/>
<path d="M394.4 342.1 L390.7 356.8" stroke="#fff" stroke-width="1.1209854163473008" stroke-linecap="round" stroke-opacity="0.95"/>
<path d="M390.3 341.1 L386.4 356.7" stroke="#fff" stroke-width="1.175105592157336" stroke-linecap="round" stroke-opacity="0.95"/>
<path d="M387.6 340.4 L384.5 352.6" stroke="#fff" stroke-width="0.713396450865431" stroke-linecap="round" stroke-opacity="0.95"/>
<path d="M385.1 339.8 L381.2 355.5" stroke="#fff" stroke-width="1.1112444117885785" stroke-linecap="round" stroke-opacity="0.95"/>
<path d="M383.5 339.4 L380.4 351.7" stroke="#fff" stroke-width="1.2945932164864404" stroke-linecap="round" stroke-opacity="0.95"/>
<path d="M380.7 338.7 L377.3 350.4" stroke="#fff" stroke-width="0.7624466342055395" stroke-linecap="round" stroke-opacity="0.95"/>
<path d="M380.7 338.7 L376.6 346.4" stroke="#fff" stroke-width="1.1732088724187597" stroke-linecap="round" stroke-opacity="0.95"/>
<path d="M380.7 338.7 L374.8 347.0" stroke="#fff" stroke-width="1.0828000023225495" stroke-linecap="round" stroke-opacity="0.95"/>
<path d="M380.7 338.7 L375.3 342.1" stroke="#fff" stroke-width="1.0937923970375254" stroke-linecap="round" stroke-opacity="0.95"/>
<path d="M380.7 338.7 L373.6 340.6" stroke="#fff" stroke-width="0.8874809121073794" stroke-linecap="round" stroke-opacity="0.95"/>
<path d="M380.7 338.7 L373.9 338.1" stroke="#fff" stroke-width="0.8362600576452883" stroke-linecap="round" stroke-opacity="0.95"/>
<path d="M380.7 338.7 L372.7 336.5" stroke="#fff" stroke-width="0.6898081415928478" stroke-linecap="round" stroke-opacity="0.95"/>
<path d="M380.7 338.7 L374.6 335.2" stroke="#fff" stroke-width="1.1148214435286061" stroke-linecap="round" stroke-opacity="0.95"/>
<path d="M380.7 338.7 L373.4 331.8" stroke="#fff" stroke-width="0.6310619948572317" stroke-linecap="round" stroke-opacity="0.95"/>
<path d="M380.7 338.7 L374.4 330.6" stroke="#fff" stroke-width="0.6741295428668598" stroke-linecap="round" stroke-opacity="0.95"/>
<path d="M380.7 338.7 L373.2 326.5" stroke="#fff" stroke-width="0.6972129548075444" stroke-linecap="round" stroke-opacity="0.95"/>
<path d="M380.7 338.7 L376.0 327.7" stroke="#fff" stroke-width="1.0778071266353602" stroke-linecap="round" stroke-opacity="0.95"/>
<path d="M380.7 338.7 L376.5 325.3" stroke="#fff" stroke-width="0.893358199904154" stroke-linecap="round" stroke-opacity="0.95"/>
<path d="M380.7 338.7 L378.9 326.2" stroke="#fff" stroke-width="0.867802215546748" stroke-linecap="round" stroke-opacity="0.95"/>
<path d="M380.7 338.7 L379.5 318.5" stroke="#fff" stroke-width="1.0133492280503746" stroke-linecap="round" stroke-opacity="0.95"/>
<path d="M380.7 338.7 L381.4 319.4" stroke="#fff" stroke-width="0.8372448670793088" stroke-linecap="round" stroke-opacity="0.95"/>
<path d="M380.7 338.7 L382.8 319.9" stroke="#fff" stroke-width="1.3283212969128966" stroke-linecap="round" stroke-opacity="0.95"/>
<path d="M380.7 338.7 L385.2 320.8" stroke="#fff" stroke-width="1.1472381223689974" stroke-linecap="round" stroke-opacity="0.95"/>
<path d="M383.2 339.3 L387.9 320.4" stroke="#fff" stroke-width="1.0704095139251188" stroke-linecap="round" stroke-opacity="0.95"/>
<path d="M385.0 339.8 L389.8 320.4" stroke="#fff" stroke-width="0.8298831369154954" stroke-linecap="round" stroke-opacity="0.95"/>
<path d="M387.4 340.4 L392.7 319.4" stroke="#fff" stroke-width="0.6304856021221518" stroke-linecap="round" stroke-opacity="0.95"/>
<path d="M390.6 341.1 L395.3 322.1" stroke="#fff" stroke-width="1.206517100606014" stroke-linecap="round" stroke-opacity="0.95"/>
<path d="M393.9 342.0 L398.6 323.3" stroke="#fff" stroke-width="1.2190810996674273" stroke-linecap="round" stroke-opacity="0.95"/>
<path d="M396.2 342.6 L402.1 319.0" stroke="#fff" stroke-width="1.0437028431277497" stroke-linecap="round" stroke-opacity="0.95"/>
<path d="M399.6 343.4 L405.1 321.6" stroke="#fff" stroke-width="0.9479689833614683" stroke-linecap="round" stroke-opacity="0.95"/>
<path d="M402.4 344.1 L409.3 316.6" stroke="#fff" stroke-width="0.689547588637817" stroke-linecap="round" stroke-opacity="0.95"/>
<path d="M407.0 345.3 L412.2 324.6" stroke="#fff" stroke-width="0.8426826274587844" stroke-linecap="round" stroke-opacity="0.95"/>
<path d="M409.4 345.8 L414.0 327.4" stroke="#fff" stroke-width="0.7026190227249891" stroke-linecap="round" stroke-opacity="0.95"/>
<path d="M412.6 346.6 L418.0 324.8" stroke="#fff" stroke-width="1.3011541520552972" stroke-linecap="round" stroke-opacity="0.95"/>
<path d="M416.9 347.7 L421.2 330.6" stroke="#fff" stroke-width="1.0280419307677764" stroke-linecap="round" stroke-opacity="0.95"/>
<path d="M418.4 348.1 L424.3 324.6" stroke="#fff" stroke-width="0.858171207705972" stroke-linecap="round" stroke-opacity="0.95"/>
<path d="M422.7 349.2 L427.6 329.7" stroke="#fff" stroke-width="0.7005086654563991" stroke-linecap="round" stroke-opacity="0.95"/>
<path d="M423.3 349.3 L428.0 332.9" stroke="#fff" stroke-width="1.2944438915347272" stroke-linecap="round" stroke-opacity="0.95"/>
<path d="M423.3 349.3 L430.6 333.2" stroke="#fff" stroke-width="0.89732199949245" stroke-linecap="round" stroke-opacity="0.95"/>
<path d="M423.3 349.3 L433.8 333.5" stroke="#fff" stroke-width="0.7710042837080402" stroke-linecap="round" stroke-opacity="0.95"/>
<path d="M423.3 349.3 L435.3 337.1" stroke="#fff" stroke-width="1.3482767417354617" stroke-linecap="round" stroke-opacity="0.95"/>
<path d="M423.3 349.3 L437.8 338.2" stroke="#fff" stroke-width="0.9524266314211418" stroke-linecap="round" stroke-opacity="0.95"/>
<path d="M423.3 349.3 L437.5 341.8" stroke="#fff" stroke-width="1.2717244955725038" stroke-linecap="round" stroke-opacity="0.95"/>
<path d="M423.3 349.3 L435.4 345.6" stroke="#fff" stroke-width="0.709729271784888" stroke-linecap="round" stroke-opacity="0.95"/>
<path d="M423.3 349.3 L440.3 346.2" stroke="#fff" stroke-width="1.0268766963276263" stroke-linecap="round" stroke-opacity="0.95"/>
<path d="M423.3 349.3 L441.8 348.4" stroke="#fff" stroke-width="0.8382815734193848" stroke-linecap="round" stroke-opacity="0.95"/>
<path d="M423.3 349.3 L436.0 350.2" stroke="#fff" stroke-width="0.6243246863307476" stroke-linecap="round" stroke-opacity="0.95"/>
<path d="M423.3 349.3 L436.3 352.7" stroke="#fff" stroke-width="1.1729095713572435" stroke-linecap="round" stroke-opacity="0.95"/>
<path d="M423.3 349.3 L441.9 357.0" stroke="#fff" stroke-width="1.2472507335387903" stroke-linecap="round" stroke-opacity="0.95"/>
<path d="M423.3 349.3 L439.1 357.5" stroke="#fff" stroke-width="1.2665296415940732" stroke-linecap="round" stroke-opacity="0.95"/>
<path d="M423.3 349.3 L436.2 358.4" stroke="#fff" stroke-width="1.2096054198788808" stroke-linecap="round" stroke-opacity="0.95"/>
<path d="M369.00 338.50 C369.17 337.92 380.17 339.25 385.00 340.00 C389.83 340.75 393.83 342.08 398.00 343.00 C402.17 343.92 406.00 344.75 410.00 345.50 C414.00 346.25 418.50 346.67 422.00 347.50 C425.50 348.33 431.33 350.08 431.00 350.50 C430.67 350.92 423.83 350.25 420.00 350.00 C416.17 349.75 412.00 349.50 408.00 349.00 C404.00 348.50 400.00 347.92 396.00 347.00 C392.00 346.08 388.50 344.92 384.00 343.50 C379.50 342.08 368.83 339.08 369.00 338.50Z" fill="#fff"/>
<rect x="83.6" y="350.4" width="23.8" height="26.4" fill="none" stroke="#222" stroke-width="1.1"/>
<line x1="83.6" y1="376.8" x2="31.9" y2="399.5" stroke="#222" stroke-width="1"/>
<line x1="107.4" y1="376.8" x2="140.4" y2="399.5" stroke="#222" stroke-width="1"/>
<rect x="224.8" y="355.3" width="21.8" height="23.0" fill="none" stroke="#222" stroke-width="1.1"/>
<line x1="224.8" y1="378.3" x2="189.4" y2="400.4" stroke="#222" stroke-width="1"/>
<line x1="246.6" y1="378.3" x2="297.5" y2="400.4" stroke="#222" stroke-width="1"/>
<rect x="404.2" y="355.2" width="19.7" height="22.2" fill="none" stroke="#222" stroke-width="1.1"/>
<line x1="404.2" y1="377.4" x2="350.2" y2="400.6" stroke="#222" stroke-width="1"/>
<line x1="423.9" y1="377.4" x2="457.5" y2="400.6" stroke="#222" stroke-width="1"/>
<path d="M225 103 L221.5 121.5 L217 124 M221.5 121.5 L229.5 122.5" fill="none" stroke="#a39585" stroke-width="2.2" stroke-linecap="round" stroke-linejoin="round"/>
<path d="M216.5 111 L214.6 125.5 L205 127.5 M214.6 125.5 L210.3 133 M214.6 125.5 L222 129" fill="none" stroke="#d8c0a2" stroke-width="2" stroke-linecap="round" stroke-linejoin="round"/>
<path d="M173.1 37.2 L177 35.2 C179 33 184 31.8 187 32.8 C190 34 192 37 194 41 C197 45 203 50 208 54 C213 58 218 60.5 224 60.3 C227 60 229 59.5 230.8 58 C230 50 230.5 42 233 35 C235 30 239 26.5 245 26 C249 25.8 252 27 254.5 28.8 L250 33.5 L257 43.4 L254 49 L262.2 54.3 L257 59.4 L258.5 63.8 L255.6 69.6 L256.3 74 L252.7 78.4 L251.2 82.8 C250.5 88 246 95 241 98.8 C236 102 230 104 226.4 104.7 C223 107 219.5 110.5 216.2 113.4 C212 111 208.9 108 206 104 C200 97 192 87 187 78.4 C183.5 71 182 60 181.9 51.4 C181.8 46 180 42 177 39 Z" fill="#e6e2df" stroke="#cdc6c0" stroke-width="0.7"/>
<path d="M205 69 C214 62 234 61 240 69 C244 76 238 83 228 83 C219 83 211 80 205 74" fill="none" stroke="#d6d0ca" stroke-width="0.7"/>
<path d="M238 40 C243 48 247 60 246 75 M243 35 C249 45 252 58 251 70" fill="none" stroke="#d9d3cd" stroke-width="0.6"/>
<path d="M177.5 33 C176.3 30.5 177.3 27.8 179.5 28.2 C179.3 25.6 182 24.6 183.3 26.5 C184 24.3 186.9 24.3 187.4 26.6 C189.2 25.5 191.8 27.2 190.9 29.3 C192.7 29.8 192.6 32 190.8 33 C187 32.4 181 32.6 177.5 33 Z" fill="#b8231f"/>
<path d="M177.5 37 C178.5 34.5 183 33.8 186.5 35.5 C188.5 37.5 188.2 42 187.3 46 C186.3 50 183.5 52 180.5 51.2 C177.8 50.3 176.3 46.5 176.3 42.5 C176.3 40 176.8 38.2 177.5 37 Z" fill="#b8231f"/>
<path d="M172.9 37.3 L177.6 35.6 L177.8 38.2 Z" fill="#d8c3a5"/>
<circle cx="182.8" cy="36" r="0.9" fill="#3a1a12"/>
<g transform="translate(27.2 150) scale(1.000 1.020)">
<path d="M1.2 4.6 L2.4 19.2 C2.5 20.2 3.5 20.5 8.1 20.5 C12.8 20.5 13.8 20.2 13.9 19.2 L15.1 4.6 Z" fill="#eef1f4" stroke="#c9ced6" stroke-width="0.5"/>
<path d="M1.6 7 L2.5 19 C2.6 20 3.6 20.3 8.1 20.3 C12.7 20.3 13.7 20 13.8 19 L14.7 7 Z" fill="#8a6a2c"/>
<path d="M3 8 L3.6 18.5 L5 18.5 L4.4 8 Z" fill="#a3843f" fill-opacity="0.6"/>
<rect x="0" y="0" width="16.3" height="4.8" rx="1.6" fill="#3f7fd0"/>
<rect x="0.5" y="3.3" width="15.3" height="1.5" fill="#2f68b4"/>
</g>
<g transform="translate(22.9 182) scale(1.000 1.000)">
<path d="M1.5 3 C3 8 6 13 11 13 C16 13 17 4 21 3 C24 2.2 26 4 26.3 6" fill="none" stroke="#3a3436" stroke-width="5" stroke-linecap="round"/>
<path d="M1.5 3 C3 8 6 13 11 13 C16 13 17 4 21 3 C24 2.2 26 4 26.3 6" fill="none" stroke="#efc3d4" stroke-width="3.4" stroke-linecap="round"/>
<circle cx="1.6" cy="2.6" r="1.4" fill="#222"/>
</g>
<g transform="translate(36 224.5) scale(1.000)">
<circle r="15.6" fill="#f6dae3" stroke="#d9a3b4" stroke-width="0.8"/>
<path d="M0 -11 C5 -11.5 9 -8 10.5 -4 C12 0 11.5 5 8.5 8.5 C5 11.5 -1 12 -5 10 C-9.5 8 -11.5 3 -11 -1.5 C-10.5 -6.5 -5.5 -10.5 0 -11 Z" fill="#e9a074"/>
<path d="M0 -8 C4 -8.5 7 -6 7.8 -2.5 C8.5 1.5 6.5 5.5 3 7 C-1 8.3 -5.5 6.5 -7.2 3 C-8.5 -0.5 -7 -5 -4 -7 C-2.8 -7.7 -1.4 -8 0 -8 Z" fill="#d9804e"/>
<path d="M-1 -5.2 C1 -6 2.5 -4.5 4 -4.8 C5.5 -3 4.5 -1 5.2 0.8 C5 3 3 3.5 2 5.2 C0 6 -1.5 4.5 -3.3 4.8 C-4.8 3.5 -4.2 1.5 -5.3 0 C-5 -2 -3.3 -2.6 -2.8 -4.5 Z" fill="#fff"/>
</g>
<g transform="translate(144.7 163) scale(1.000 0.979)">
<path d="M7 18.5 C7 14 9 10 13 8 C17 4 21 1 25 1 C29 1.5 33 4.5 36 8 C39 10 42.5 12 42.5 15 C42.5 18 40 18.8 36 18.8 L12 18.8 C9 18.8 7 18.8 7 18.5 Z" fill="#a29a55"/>
<rect x="6.6" y="14.1" width="4.6" height="4.4" rx="1.5" fill="#a39b54" stroke="#958d4b" stroke-width="0.35"/>
<rect x="10.7" y="14.6" width="4.6" height="4.4" rx="1.5" fill="#a8a059" stroke="#958d4b" stroke-width="0.35"/>
<rect x="14.3" y="14.9" width="4.6" height="4.4" rx="1.5" fill="#a8a059" stroke="#958d4b" stroke-width="0.35"/>
<rect x="19.2" y="14.1" width="4.6" height="4.4" rx="1.5" fill="#b2aa63" stroke="#958d4b" stroke-width="0.35"/>
<rect x="23.3" y="14.6" width="4.6" height="4.4" rx="1.5" fill="#9c944e" stroke="#958d4b" stroke-width="0.35"/>
<rect x="27.7" y="14.1" width="4.6" height="4.4" rx="1.5" fill="#9c944e" stroke="#958d4b" stroke-width="0.35"/>
<rect x="32.1" y="14.5" width="4.6" height="4.4" rx="1.5" fill="#a39b54" stroke="#958d4b" stroke-width="0.35"/>
<rect x="36.1" y="14.0" width="4.6" height="4.4" rx="1.5" fill="#aba35d" stroke="#958d4b" stroke-width="0.35"/>
<rect x="5.5" y="11.1" width="4.6" height="4.4" rx="1.5" fill="#a8a059" stroke="#958d4b" stroke-width="0.35"/>
<rect x="10.2" y="11.1" width="4.6" height="4.4" rx="1.5" fill="#b2aa63" stroke="#958d4b" stroke-width="0.35"/>
<rect x="14.7" y="11.3" width="4.6" height="4.4" rx="1.5" fill="#9c944e" stroke="#958d4b" stroke-width="0.35"/>
<rect x="18.9" y="10.9" width="4.6" height="4.4" rx="1.5" fill="#9c944e" stroke="#958d4b" stroke-width="0.35"/>
<rect x="23.3" y="10.3" width="4.6" height="4.4" rx="1.5" fill="#a39b54" stroke="#958d4b" stroke-width="0.35"/>
<rect x="27.0" y="10.5" width="4.6" height="4.4" rx="1.5" fill="#a39b54" stroke="#958d4b" stroke-width="0.35"/>
<rect x="31.5" y="11.2" width="4.6" height="4.4" rx="1.5" fill="#9c944e" stroke="#958d4b" stroke-width="0.35"/>
<rect x="35.4" y="10.7" width="4.6" height="4.4" rx="1.5" fill="#9c944e" stroke="#958d4b" stroke-width="0.35"/>
<rect x="9.5" y="7.1" width="4.6" height="4.4" rx="1.5" fill="#b2aa63" stroke="#958d4b" stroke-width="0.35"/>
<rect x="14.2" y="7.4" width="4.6" height="4.4" rx="1.5" fill="#a39b54" stroke="#958d4b" stroke-width="0.35"/>
<rect x="18.3" y="7.8" width="4.6" height="4.4" rx="1.5" fill="#aba35d" stroke="#958d4b" stroke-width="0.35"/>
<rect x="22.3" y="7.0" width="4.6" height="4.4" rx="1.5" fill="#a39b54" stroke="#958d4b" stroke-width="0.35"/>
<rect x="26.8" y="7.3" width="4.6" height="4.4" rx="1.5" fill="#a8a059" stroke="#958d4b" stroke-width="0.35"/>
<rect x="30.7" y="7.8" width="4.6" height="4.4" rx="1.5" fill="#a39b54" stroke="#958d4b" stroke-width="0.35"/>
<rect x="34.4" y="6.7" width="4.6" height="4.4" rx="1.5" fill="#b2aa63" stroke="#958d4b" stroke-width="0.35"/>
<rect x="13.5" y="4.0" width="4.6" height="4.4" rx="1.5" fill="#9c944e" stroke="#958d4b" stroke-width="0.35"/>
<rect x="18.7" y="3.0" width="4.6" height="4.4" rx="1.5" fill="#9c944e" stroke="#958d4b" stroke-width="0.35"/>
<rect x="22.7" y="4.0" width="4.6" height="4.4" rx="1.5" fill="#9c944e" stroke="#958d4b" stroke-width="0.35"/>
<rect x="26.7" y="3.9" width="4.6" height="4.4" rx="1.5" fill="#aba35d" stroke="#958d4b" stroke-width="0.35"/>
<rect x="31.1" y="3.4" width="4.6" height="4.4" rx="1.5" fill="#9c944e" stroke="#958d4b" stroke-width="0.35"/>
<rect x="19.5" y="0.9" width="4.6" height="4.4" rx="1.5" fill="#b2aa63" stroke="#958d4b" stroke-width="0.35"/>
<rect x="23.1" y="-0.2" width="4.6" height="4.4" rx="1.5" fill="#b2aa63" stroke="#958d4b" stroke-width="0.35"/>
<rect x="0.3" y="11.5" width="5" height="5.2" rx="1.4" fill="#aaa25c" stroke="#958d4b" stroke-width="0.35"/>
<rect x="29.5" y="18.3" width="5" height="5" rx="1.4" fill="#aaa25c" stroke="#958d4b" stroke-width="0.35"/>
</g>
<g transform="translate(158 195.8) scale(1.032 1.030)">
<path d="M9 26 L8 30.5 L4 32 M8 30.5 L9.5 32.5 M14.5 26 L13.5 30.5 L10.5 32 M13.5 30.5 L15 32.5" fill="none" stroke="#e2b47a" stroke-width="1.1" stroke-linecap="round"/>
<path d="M5.5 4.5 C3.5 5.5 2.2 8 1.6 11 C0 14.5 0 20 2.8 23.2 C6 26.8 12.5 27.8 16.5 26 C20.5 24.2 22 20 22 15.5 C22 12.5 21.5 10.5 20.3 10.3 C18 11.5 16 13.8 12.5 13.8 C10.2 13.8 9.2 12 9.3 9.2 C9.6 6.5 8 4.3 5.5 4.5 Z" fill="#f5f5f5" stroke="#dedede" stroke-width="0.6"/>
<path d="M4 21 C8 24 14 24.5 19 21 M12 17 C15 16 18 17 20 19" fill="none" stroke="#e6e6e6" stroke-width="0.7"/>
<path d="M4.6 4.2 C4.2 2.2 5.5 0.3 7 0.8 C8 -0.2 9.6 0.6 9.3 2.2 C10.2 3 9.6 4.6 8.6 4.8 C7.5 5.2 5.5 5.4 4.6 4.2 Z" fill="#d9261e"/>
<path d="M6.3 6.2 C6 7.6 6.8 9 7.8 8.7 C8.8 8.4 8.8 6.8 8.2 6 Z" fill="#d9261e"/>
<path d="M8.8 5 L10.6 5.6 L8.8 6.3 Z" fill="#e8b060"/>
</g>
<g transform="translate(275.8 190.5) scale(1.000 1.000)">
<path d="M9 26 L8 30.5 L4 32 M8 30.5 L9.5 32.5 M14.5 26 L13.5 30.5 L10.5 32 M13.5 30.5 L15 32.5" fill="none" stroke="#e2b47a" stroke-width="1.1" stroke-linecap="round"/>
<path d="M5.5 4.5 C3.5 5.5 2.2 8 1.6 11 C0 14.5 0 20 2.8 23.2 C6 26.8 12.5 27.8 16.5 26 C20.5 24.2 22 20 22 15.5 C22 12.5 21.5 10.5 20.3 10.3 C18 11.5 16 13.8 12.5 13.8 C10.2 13.8 9.2 12 9.3 9.2 C9.6 6.5 8 4.3 5.5 4.5 Z" fill="#f5f5f5" stroke="#dedede" stroke-width="0.6"/>
<path d="M4 21 C8 24 14 24.5 19 21 M12 17 C15 16 18 17 20 19" fill="none" stroke="#e6e6e6" stroke-width="0.7"/>
<path d="M4.6 4.2 C4.2 2.2 5.5 0.3 7 0.8 C8 -0.2 9.6 0.6 9.3 2.2 C10.2 3 9.6 4.6 8.6 4.8 C7.5 5.2 5.5 5.4 4.6 4.2 Z" fill="#d9261e"/>
<path d="M6.3 6.2 C6 7.6 6.8 9 7.8 8.7 C8.8 8.4 8.8 6.8 8.2 6 Z" fill="#d9261e"/>
<path d="M8.8 5 L10.6 5.6 L8.8 6.3 Z" fill="#e8b060"/>
</g>
<g transform="translate(438 173.6) scale(1.000 0.987)">
<path d="M7 18.5 C7 14 9 10 13 8 C17 4 21 1 25 1 C29 1.5 33 4.5 36 8 C39 10 42.5 12 42.5 15 C42.5 18 40 18.8 36 18.8 L12 18.8 C9 18.8 7 18.8 7 18.5 Z" fill="#a29a55"/>
<rect x="6.2" y="14.3" width="4.6" height="4.4" rx="1.5" fill="#a8a059" stroke="#958d4b" stroke-width="0.35"/>
<rect x="10.1" y="14.5" width="4.6" height="4.4" rx="1.5" fill="#a8a059" stroke="#958d4b" stroke-width="0.35"/>
<rect x="15.1" y="15.0" width="4.6" height="4.4" rx="1.5" fill="#a39b54" stroke="#958d4b" stroke-width="0.35"/>
<rect x="18.9" y="14.9" width="4.6" height="4.4" rx="1.5" fill="#aba35d" stroke="#958d4b" stroke-width="0.35"/>
<rect x="23.4" y="14.6" width="4.6" height="4.4" rx="1.5" fill="#9c944e" stroke="#958d4b" stroke-width="0.35"/>
<rect x="27.8" y="14.4" width="4.6" height="4.4" rx="1.5" fill="#aba35d" stroke="#958d4b" stroke-width="0.35"/>
<rect x="32.2" y="14.8" width="4.6" height="4.4" rx="1.5" fill="#a39b54" stroke="#958d4b" stroke-width="0.35"/>
<rect x="36.2" y="14.0" width="4.6" height="4.4" rx="1.5" fill="#a39b54" stroke="#958d4b" stroke-width="0.35"/>
<rect x="6.1" y="10.4" width="4.6" height="4.4" rx="1.5" fill="#a8a059" stroke="#958d4b" stroke-width="0.35"/>
<rect x="10.8" y="10.2" width="4.6" height="4.4" rx="1.5" fill="#aba35d" stroke="#958d4b" stroke-width="0.35"/>
<rect x="15.0" y="10.4" width="4.6" height="4.4" rx="1.5" fill="#a39b54" stroke="#958d4b" stroke-width="0.35"/>
<rect x="18.3" y="11.4" width="4.6" height="4.4" rx="1.5" fill="#a39b54" stroke="#958d4b" stroke-width="0.35"/>
<rect x="23.3" y="11.0" width="4.6" height="4.4" rx="1.5" fill="#a8a059" stroke="#958d4b" stroke-width="0.35"/>
<rect x="27.5" y="11.0" width="4.6" height="4.4" rx="1.5" fill="#a39b54" stroke="#958d4b" stroke-width="0.35"/>
<rect x="31.0" y="10.6" width="4.6" height="4.4" rx="1.5" fill="#9c944e" stroke="#958d4b" stroke-width="0.35"/>
<rect x="35.9" y="10.5" width="4.6" height="4.4" rx="1.5" fill="#a39b54" stroke="#958d4b" stroke-width="0.35"/>
<rect x="9.3" y="7.3" width="4.6" height="4.4" rx="1.5" fill="#b2aa63" stroke="#958d4b" stroke-width="0.35"/>
<rect x="13.8" y="7.4" width="4.6" height="4.4" rx="1.5" fill="#aba35d" stroke="#958d4b" stroke-width="0.35"/>
<rect x="17.7" y="7.6" width="4.6" height="4.4" rx="1.5" fill="#aba35d" stroke="#958d4b" stroke-width="0.35"/>
<rect x="22.3" y="6.8" width="4.6" height="4.4" rx="1.5" fill="#9c944e" stroke="#958d4b" stroke-width="0.35"/>
<rect x="26.5" y="6.7" width="4.6" height="4.4" rx="1.5" fill="#9c944e" stroke="#958d4b" stroke-width="0.35"/>
<rect x="31.0" y="7.0" width="4.6" height="4.4" rx="1.5" fill="#aba35d" stroke="#958d4b" stroke-width="0.35"/>
<rect x="34.1" y="7.5" width="4.6" height="4.4" rx="1.5" fill="#9c944e" stroke="#958d4b" stroke-width="0.35"/>
<rect x="13.9" y="4.0" width="4.6" height="4.4" rx="1.5" fill="#b2aa63" stroke="#958d4b" stroke-width="0.35"/>
<rect x="17.7" y="3.2" width="4.6" height="4.4" rx="1.5" fill="#9c944e" stroke="#958d4b" stroke-width="0.35"/>
<rect x="21.9" y="3.3" width="4.6" height="4.4" rx="1.5" fill="#a39b54" stroke="#958d4b" stroke-width="0.35"/>
<rect x="26.4" y="3.4" width="4.6" height="4.4" rx="1.5" fill="#9c944e" stroke="#958d4b" stroke-width="0.35"/>
<rect x="30.5" y="3.6" width="4.6" height="4.4" rx="1.5" fill="#a8a059" stroke="#958d4b" stroke-width="0.35"/>
<rect x="19.8" y="0.7" width="4.6" height="4.4" rx="1.5" fill="#a8a059" stroke="#958d4b" stroke-width="0.35"/>
<rect x="23.1" y="0.8" width="4.6" height="4.4" rx="1.5" fill="#b2aa63" stroke="#958d4b" stroke-width="0.35"/>
<rect x="0.3" y="11.5" width="5" height="5.2" rx="1.4" fill="#aaa25c" stroke="#958d4b" stroke-width="0.35"/>
<rect x="29.5" y="18.3" width="5" height="5" rx="1.4" fill="#aaa25c" stroke="#958d4b" stroke-width="0.35"/>
</g>
<g transform="translate(449 201.7) scale(1.027 1.009)">
<path d="M9 26 L8 30.5 L4 32 M8 30.5 L9.5 32.5 M14.5 26 L13.5 30.5 L10.5 32 M13.5 30.5 L15 32.5" fill="none" stroke="#e2b47a" stroke-width="1.1" stroke-linecap="round"/>
<path d="M5.5 4.5 C3.5 5.5 2.2 8 1.6 11 C0 14.5 0 20 2.8 23.2 C6 26.8 12.5 27.8 16.5 26 C20.5 24.2 22 20 22 15.5 C22 12.5 21.5 10.5 20.3 10.3 C18 11.5 16 13.8 12.5 13.8 C10.2 13.8 9.2 12 9.3 9.2 C9.6 6.5 8 4.3 5.5 4.5 Z" fill="#f5f5f5" stroke="#dedede" stroke-width="0.6"/>
<path d="M4 21 C8 24 14 24.5 19 21 M12 17 C15 16 18 17 20 19" fill="none" stroke="#e6e6e6" stroke-width="0.7"/>
<path d="M4.6 4.2 C4.2 2.2 5.5 0.3 7 0.8 C8 -0.2 9.6 0.6 9.3 2.2 C10.2 3 9.6 4.6 8.6 4.8 C7.5 5.2 5.5 5.4 4.6 4.2 Z" fill="#d9261e"/>
<path d="M6.3 6.2 C6 7.6 6.8 9 7.8 8.7 C8.8 8.4 8.8 6.8 8.2 6 Z" fill="#d9261e"/>
<path d="M8.8 5 L10.6 5.6 L8.8 6.3 Z" fill="#e8b060"/>
</g>
<g transform="translate(601.1 169) scale(1.000 0.995)">
<path d="M1.2 4.6 L2.4 19.2 C2.5 20.2 3.5 20.5 8.1 20.5 C12.8 20.5 13.8 20.2 13.9 19.2 L15.1 4.6 Z" fill="#eef1f4" stroke="#c9ced6" stroke-width="0.5"/>
<path d="M1.6 7 L2.5 19 C2.6 20 3.6 20.3 8.1 20.3 C12.7 20.3 13.7 20 13.8 19 L14.7 7 Z" fill="#8a6a2c"/>
<path d="M3 8 L3.6 18.5 L5 18.5 L4.4 8 Z" fill="#a3843f" fill-opacity="0.6"/>
<rect x="0" y="0" width="16.3" height="4.8" rx="1.6" fill="#3f7fd0"/>
<rect x="0.5" y="3.3" width="15.3" height="1.5" fill="#2f68b4"/>
</g>
<g transform="translate(630.3 179) scale(0.984 0.991)">
<path d="M7 18.5 C7 14 9 10 13 8 C17 4 21 1 25 1 C29 1.5 33 4.5 36 8 C39 10 42.5 12 42.5 15 C42.5 18 40 18.8 36 18.8 L12 18.8 C9 18.8 7 18.8 7 18.5 Z" fill="#a29a55"/>
<rect x="6.3" y="14.4" width="4.6" height="4.4" rx="1.5" fill="#a39b54" stroke="#958d4b" stroke-width="0.35"/>
<rect x="10.9" y="14.0" width="4.6" height="4.4" rx="1.5" fill="#a39b54" stroke="#958d4b" stroke-width="0.35"/>
<rect x="15.3" y="14.5" width="4.6" height="4.4" rx="1.5" fill="#a39b54" stroke="#958d4b" stroke-width="0.35"/>
<rect x="19.3" y="14.5" width="4.6" height="4.4" rx="1.5" fill="#9c944e" stroke="#958d4b" stroke-width="0.35"/>
<rect x="23.2" y="14.6" width="4.6" height="4.4" rx="1.5" fill="#9c944e" stroke="#958d4b" stroke-width="0.35"/>
<rect x="27.0" y="14.2" width="4.6" height="4.4" rx="1.5" fill="#9c944e" stroke="#958d4b" stroke-width="0.35"/>
<rect x="31.9" y="14.5" width="4.6" height="4.4" rx="1.5" fill="#aba35d" stroke="#958d4b" stroke-width="0.35"/>
<rect x="36.4" y="14.4" width="4.6" height="4.4" rx="1.5" fill="#9c944e" stroke="#958d4b" stroke-width="0.35"/>
<rect x="6.2" y="10.3" width="4.6" height="4.4" rx="1.5" fill="#aba35d" stroke="#958d4b" stroke-width="0.35"/>
<rect x="10.1" y="11.2" width="4.6" height="4.4" rx="1.5" fill="#aba35d" stroke="#958d4b" stroke-width="0.35"/>
<rect x="14.6" y="10.6" width="4.6" height="4.4" rx="1.5" fill="#aba35d" stroke="#958d4b" stroke-width="0.35"/>
<rect x="18.6" y="11.0" width="4.6" height="4.4" rx="1.5" fill="#aba35d" stroke="#958d4b" stroke-width="0.35"/>
<rect x="22.9" y="10.4" width="4.6" height="4.4" rx="1.5" fill="#a39b54" stroke="#958d4b" stroke-width="0.35"/>
<rect x="27.0" y="10.2" width="4.6" height="4.4" rx="1.5" fill="#aba35d" stroke="#958d4b" stroke-width="0.35"/>
<rect x="30.8" y="11.2" width="4.6" height="4.4" rx="1.5" fill="#a39b54" stroke="#958d4b" stroke-width="0.35"/>
<rect x="35.7" y="11.3" width="4.6" height="4.4" rx="1.5" fill="#9c944e" stroke="#958d4b" stroke-width="0.35"/>
<rect x="9.6" y="7.6" width="4.6" height="4.4" rx="1.5" fill="#b2aa63" stroke="#958d4b" stroke-width="0.35"/>
<rect x="13.3" y="7.5" width="4.6" height="4.4" rx="1.5" fill="#9c944e" stroke="#958d4b" stroke-width="0.35"/>
<rect x="17.9" y="7.0" width="4.6" height="4.4" rx="1.5" fill="#aba35d" stroke="#958d4b" stroke-width="0.35"/>
<rect x="22.6" y="7.6" width="4.6" height="4.4" rx="1.5" fill="#b2aa63" stroke="#958d4b" stroke-width="0.35"/>
<rect x="26.4" y="7.0" width="4.6" height="4.4" rx="1.5" fill="#a8a059" stroke="#958d4b" stroke-width="0.35"/>
<rect x="30.5" y="7.2" width="4.6" height="4.4" rx="1.5" fill="#b2aa63" stroke="#958d4b" stroke-width="0.35"/>
<rect x="35.1" y="7.6" width="4.6" height="4.4" rx="1.5" fill="#aba35d" stroke="#958d4b" stroke-width="0.35"/>
<rect x="13.7" y="3.3" width="4.6" height="4.4" rx="1.5" fill="#a8a059" stroke="#958d4b" stroke-width="0.35"/>
<rect x="18.0" y="3.3" width="4.6" height="4.4" rx="1.5" fill="#aba35d" stroke="#958d4b" stroke-width="0.35"/>
<rect x="22.3" y="3.5" width="4.6" height="4.4" rx="1.5" fill="#aba35d" stroke="#958d4b" stroke-width="0.35"/>
<rect x="26.2" y="3.5" width="4.6" height="4.4" rx="1.5" fill="#9c944e" stroke="#958d4b" stroke-width="0.35"/>
<rect x="31.3" y="4.0" width="4.6" height="4.4" rx="1.5" fill="#a39b54" stroke="#958d4b" stroke-width="0.35"/>
<rect x="19.1" y="0.6" width="4.6" height="4.4" rx="1.5" fill="#aba35d" stroke="#958d4b" stroke-width="0.35"/>
<rect x="23.2" y="0.7" width="4.6" height="4.4" rx="1.5" fill="#b2aa63" stroke="#958d4b" stroke-width="0.35"/>
<rect x="0.3" y="11.5" width="5" height="5.2" rx="1.4" fill="#aaa25c" stroke="#958d4b" stroke-width="0.35"/>
<rect x="29.5" y="18.3" width="5" height="5" rx="1.4" fill="#aaa25c" stroke="#958d4b" stroke-width="0.35"/>
</g>
<g transform="translate(597.8 199) scale(0.935 1.006)">
<path d="M1.5 3 C3 8 6 13 11 13 C16 13 17 4 21 3 C24 2.2 26 4 26.3 6" fill="none" stroke="#3a3436" stroke-width="5" stroke-linecap="round"/>
<path d="M1.5 3 C3 8 6 13 11 13 C16 13 17 4 21 3 C24 2.2 26 4 26.3 6" fill="none" stroke="#efc3d4" stroke-width="3.4" stroke-linecap="round"/>
<circle cx="1.6" cy="2.6" r="1.4" fill="#222"/>
</g>
<g transform="translate(611 238.1) scale(0.994)">
<circle r="15.6" fill="#f6dae3" stroke="#d9a3b4" stroke-width="0.8"/>
<path d="M0 -11 C5 -11.5 9 -8 10.5 -4 C12 0 11.5 5 8.5 8.5 C5 11.5 -1 12 -5 10 C-9.5 8 -11.5 3 -11 -1.5 C-10.5 -6.5 -5.5 -10.5 0 -11 Z" fill="#e9a074"/>
<path d="M0 -8 C4 -8.5 7 -6 7.8 -2.5 C8.5 1.5 6.5 5.5 3 7 C-1 8.3 -5.5 6.5 -7.2 3 C-8.5 -0.5 -7 -5 -4 -7 C-2.8 -7.7 -1.4 -8 0 -8 Z" fill="#d9804e"/>
<path d="M-1 -5.2 C1 -6 2.5 -4.5 4 -4.8 C5.5 -3 4.5 -1 5.2 0.8 C5 3 3 3.5 2 5.2 C0 6 -1.5 4.5 -3.3 4.8 C-4.8 3.5 -4.2 1.5 -5.3 0 C-5 -2 -3.3 -2.6 -2.8 -4.5 Z" fill="#fff"/>
</g>
<g transform="translate(644.1 209) scale(1.032 0.994)">
<path d="M9 26 L8 30.5 L4 32 M8 30.5 L9.5 32.5 M14.5 26 L13.5 30.5 L10.5 32 M13.5 30.5 L15 32.5" fill="none" stroke="#e2b47a" stroke-width="1.1" stroke-linecap="round"/>
<path d="M5.5 4.5 C3.5 5.5 2.2 8 1.6 11 C0 14.5 0 20 2.8 23.2 C6 26.8 12.5 27.8 16.5 26 C20.5 24.2 22 20 22 15.5 C22 12.5 21.5 10.5 20.3 10.3 C18 11.5 16 13.8 12.5 13.8 C10.2 13.8 9.2 12 9.3 9.2 C9.6 6.5 8 4.3 5.5 4.5 Z" fill="#f5f5f5" stroke="#dedede" stroke-width="0.6"/>
<path d="M4 21 C8 24 14 24.5 19 21 M12 17 C15 16 18 17 20 19" fill="none" stroke="#e6e6e6" stroke-width="0.7"/>
<path d="M4.6 4.2 C4.2 2.2 5.5 0.3 7 0.8 C8 -0.2 9.6 0.6 9.3 2.2 C10.2 3 9.6 4.6 8.6 4.8 C7.5 5.2 5.5 5.4 4.6 4.2 Z" fill="#d9261e"/>
<path d="M6.3 6.2 C6 7.6 6.8 9 7.8 8.7 C8.8 8.4 8.8 6.8 8.2 6 Z" fill="#d9261e"/>
<path d="M8.8 5 L10.6 5.6 L8.8 6.3 Z" fill="#e8b060"/>
</g>
</svg>
</body></html>
